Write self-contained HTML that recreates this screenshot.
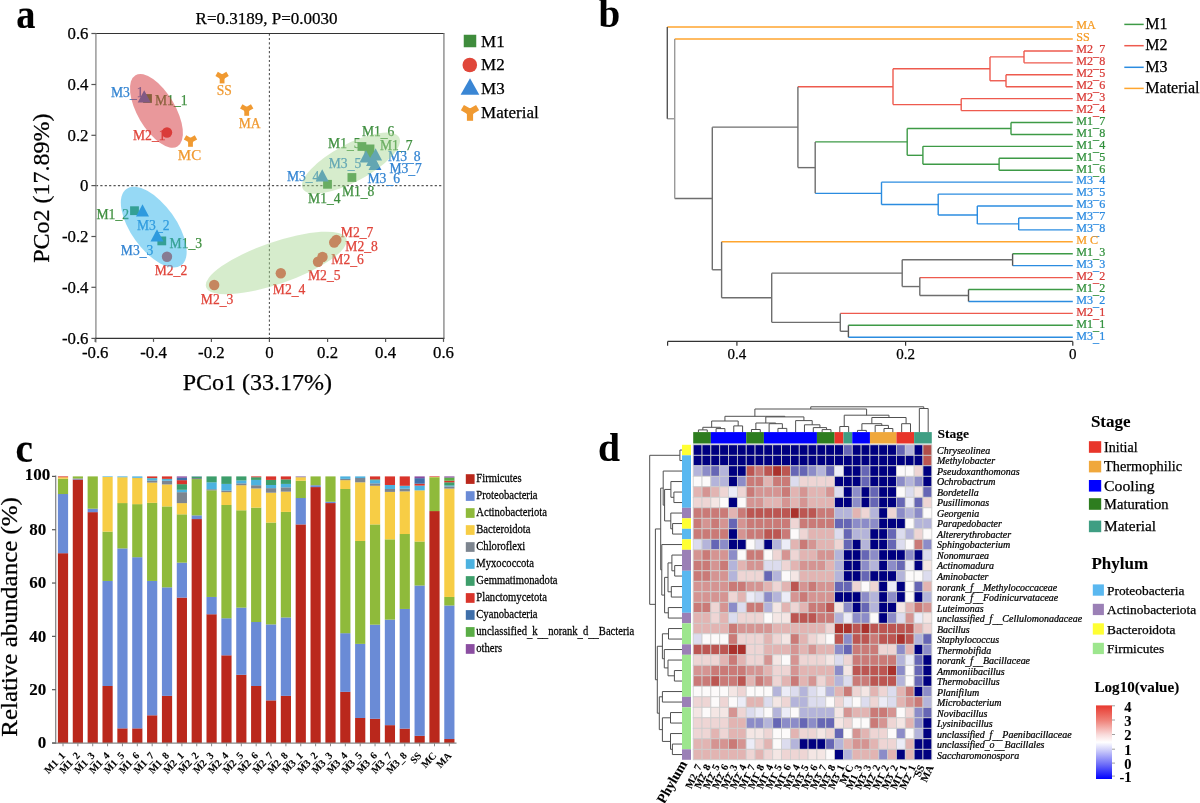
<!DOCTYPE html><html><head><meta charset="utf-8"><title>Figure</title><style>html,body{margin:0;padding:0;background:#fff;}svg{display:block;will-change:transform;}text{font-family:"Liberation Serif",serif;}</style></head><body>
<svg width="1200" height="803" viewBox="0 0 1200 803">
<rect width="1200" height="803" fill="#fff"/>
<line x1="95.90" y1="185.60" x2="443.60" y2="185.60" stroke="#555" stroke-width="1.1" stroke-dasharray="2.2,2.2"/>
<line x1="269.40" y1="33.50" x2="269.40" y2="338.40" stroke="#555" stroke-width="1.1" stroke-dasharray="2.2,2.2"/>
<line x1="95.90" y1="33.50" x2="444.40" y2="33.50" stroke="#333" stroke-width="1.1"/>
<line x1="443.90" y1="33.50" x2="443.90" y2="338.40" stroke="#999" stroke-width="1.6"/>
<line x1="95.90" y1="33.50" x2="95.90" y2="342.40" stroke="#999" stroke-width="1.5"/>
<line x1="95.10" y1="338.40" x2="444.40" y2="338.40" stroke="#333" stroke-width="1.1"/>
<line x1="91.40" y1="33.50" x2="95.90" y2="33.50" stroke="#555" stroke-width="1.2"/>
<text stroke="#000" stroke-width="0.25" x="88.50" y="39.30" font-size="16.8" fill="#000" text-anchor="end">0.6</text>
<line x1="91.40" y1="84.50" x2="95.90" y2="84.50" stroke="#555" stroke-width="1.2"/>
<text stroke="#000" stroke-width="0.25" x="88.50" y="90.30" font-size="16.8" fill="#000" text-anchor="end">0.4</text>
<line x1="91.40" y1="135.30" x2="95.90" y2="135.30" stroke="#555" stroke-width="1.2"/>
<text stroke="#000" stroke-width="0.25" x="88.50" y="141.10" font-size="16.8" fill="#000" text-anchor="end">0.2</text>
<line x1="91.40" y1="185.60" x2="95.90" y2="185.60" stroke="#555" stroke-width="1.2"/>
<text stroke="#000" stroke-width="0.25" x="88.50" y="191.40" font-size="16.8" fill="#000" text-anchor="end">0</text>
<line x1="91.40" y1="236.50" x2="95.90" y2="236.50" stroke="#555" stroke-width="1.2"/>
<text stroke="#000" stroke-width="0.25" x="88.50" y="242.30" font-size="16.8" fill="#000" text-anchor="end">-0.2</text>
<line x1="91.40" y1="287.30" x2="95.90" y2="287.30" stroke="#555" stroke-width="1.2"/>
<text stroke="#000" stroke-width="0.25" x="88.50" y="293.10" font-size="16.8" fill="#000" text-anchor="end">-0.4</text>
<line x1="91.40" y1="338.40" x2="95.90" y2="338.40" stroke="#555" stroke-width="1.2"/>
<text stroke="#000" stroke-width="0.25" x="88.50" y="344.20" font-size="16.8" fill="#000" text-anchor="end">-0.6</text>
<line x1="95.20" y1="338.40" x2="95.20" y2="341.90" stroke="#555" stroke-width="1.2"/>
<text stroke="#000" stroke-width="0.25" x="95.20" y="357.60" font-size="16.8" fill="#000" text-anchor="middle">-0.6</text>
<line x1="153.50" y1="338.40" x2="153.50" y2="341.90" stroke="#555" stroke-width="1.2"/>
<text stroke="#000" stroke-width="0.25" x="153.50" y="357.60" font-size="16.8" fill="#000" text-anchor="middle">-0.4</text>
<line x1="211.40" y1="338.40" x2="211.40" y2="341.90" stroke="#555" stroke-width="1.2"/>
<text stroke="#000" stroke-width="0.25" x="211.40" y="357.60" font-size="16.8" fill="#000" text-anchor="middle">-0.2</text>
<line x1="269.40" y1="338.40" x2="269.40" y2="341.90" stroke="#555" stroke-width="1.2"/>
<text stroke="#000" stroke-width="0.25" x="269.40" y="357.60" font-size="16.8" fill="#000" text-anchor="middle">0</text>
<line x1="327.60" y1="338.40" x2="327.60" y2="341.90" stroke="#555" stroke-width="1.2"/>
<text stroke="#000" stroke-width="0.25" x="327.60" y="357.60" font-size="16.8" fill="#000" text-anchor="middle">0.2</text>
<line x1="385.60" y1="338.40" x2="385.60" y2="341.90" stroke="#555" stroke-width="1.2"/>
<text stroke="#000" stroke-width="0.25" x="385.60" y="357.60" font-size="16.8" fill="#000" text-anchor="middle">0.4</text>
<line x1="443.50" y1="338.40" x2="443.50" y2="341.90" stroke="#555" stroke-width="1.2"/>
<text stroke="#000" stroke-width="0.25" x="443.50" y="357.60" font-size="16.8" fill="#000" text-anchor="middle">0.6</text>
<text stroke="#000" stroke-width="0.25" x="257.40" y="389.50" font-size="24" fill="#000" text-anchor="middle">PCo1 (33.17%)</text>
<text stroke="#000" stroke-width="0.25" transform="translate(48.5,188.2) rotate(-90)" font-size="24" text-anchor="middle" fill="#000">PCo2 (17.89%)</text>
<text stroke="#000" stroke-width="0.25" x="266.60" y="24.00" font-size="17" fill="#000" text-anchor="middle">R=0.3189, P=0.0030</text>
<text stroke="#000" stroke-width="0.10" transform="translate(25.9,27.6) scale(1.01,1.1)" font-size="38" font-weight="bold" text-anchor="middle" fill="#000">a</text>
<rect x="143.10" y="94.10" width="8.80" height="8.80" fill="#3a8c3e"/>
<rect x="130.10" y="206.30" width="8.80" height="8.80" fill="#3a8c3e"/>
<rect x="157.40" y="236.50" width="8.80" height="8.80" fill="#3a8c3e"/>
<rect x="323.10" y="179.90" width="8.80" height="8.80" fill="#3a8c3e"/>
<rect x="357.50" y="142.10" width="8.80" height="8.80" fill="#3a8c3e"/>
<rect x="365.60" y="144.50" width="8.80" height="8.80" fill="#3a8c3e"/>
<rect x="364.60" y="150.60" width="8.80" height="8.80" fill="#3a8c3e"/>
<rect x="347.50" y="173.10" width="8.80" height="8.80" fill="#3a8c3e"/>
<circle cx="167.00" cy="132.50" r="5.2" fill="#e0453a"/>
<circle cx="167.00" cy="256.80" r="5.2" fill="#e0453a"/>
<circle cx="214.20" cy="285.00" r="5.2" fill="#e0453a"/>
<circle cx="280.80" cy="273.30" r="5.2" fill="#e0453a"/>
<circle cx="318.00" cy="261.70" r="5.2" fill="#e0453a"/>
<circle cx="322.50" cy="257.00" r="5.2" fill="#e0453a"/>
<circle cx="336.30" cy="240.00" r="5.2" fill="#e0453a"/>
<circle cx="334.20" cy="242.50" r="5.2" fill="#e0453a"/>
<polygon points="144.20,90.21 137.70,102.56 150.70,102.56" fill="#2f80d0"/>
<polygon points="142.50,204.21 136.00,216.56 149.00,216.56" fill="#2f80d0"/>
<polygon points="157.00,229.21 150.50,241.56 163.50,241.56" fill="#2f80d0"/>
<polygon points="322.20,169.21 315.70,181.56 328.70,181.56" fill="#2f80d0"/>
<polygon points="366.00,150.21 359.50,162.56 372.50,162.56" fill="#2f80d0"/>
<polygon points="372.50,153.71 366.00,166.06 379.00,166.06" fill="#2f80d0"/>
<polygon points="375.00,157.71 368.50,170.06 381.50,170.06" fill="#2f80d0"/>
<polygon points="375.60,148.21 369.10,160.56 382.10,160.56" fill="#2f80d0"/>
<line x1="222.10" y1="77.10" x2="222.10" y2="83.40" stroke="#f09a32" stroke-width="4.8"/>
<line x1="222.10" y1="77.10" x2="227.56" y2="73.95" stroke="#f09a32" stroke-width="4.8"/>
<line x1="222.10" y1="77.10" x2="216.64" y2="73.95" stroke="#f09a32" stroke-width="4.8"/>
<circle cx="222.10" cy="77.10" r="2.78" fill="#f09a32"/>
<line x1="246.70" y1="109.50" x2="246.70" y2="115.80" stroke="#f09a32" stroke-width="4.8"/>
<line x1="246.70" y1="109.50" x2="252.16" y2="106.35" stroke="#f09a32" stroke-width="4.8"/>
<line x1="246.70" y1="109.50" x2="241.24" y2="106.35" stroke="#f09a32" stroke-width="4.8"/>
<circle cx="246.70" cy="109.50" r="2.78" fill="#f09a32"/>
<line x1="190.50" y1="140.50" x2="190.50" y2="146.80" stroke="#f09a32" stroke-width="4.8"/>
<line x1="190.50" y1="140.50" x2="195.96" y2="137.35" stroke="#f09a32" stroke-width="4.8"/>
<line x1="190.50" y1="140.50" x2="185.04" y2="137.35" stroke="#f09a32" stroke-width="4.8"/>
<circle cx="190.50" cy="140.50" r="2.78" fill="#f09a32"/>
<text stroke="#3384d2" stroke-width="0.25" x="111.00" y="97.20" font-size="13.6" fill="#3384d2">M3<tspan dy="0.41">_</tspan><tspan dy="-0.41">1</tspan></text>
<text stroke="#3f8f3f" stroke-width="0.25" x="155.00" y="105.00" font-size="13.6" fill="#3f8f3f">M1<tspan dy="0.41">_</tspan><tspan dy="-0.41">1</tspan></text>
<text stroke="#e0443a" stroke-width="0.25" x="133.00" y="140.00" font-size="13.6" fill="#e0443a">M2<tspan dy="0.41">_</tspan><tspan dy="-0.41">1</tspan></text>
<text stroke="#f09a32" stroke-width="0.25" x="177.80" y="160.00" font-size="15.0" fill="#f09a32">MC</text>
<text stroke="#f09a32" stroke-width="0.25" x="216.80" y="94.50" font-size="13.6" fill="#f09a32">SS</text>
<text stroke="#f09a32" stroke-width="0.25" x="238.70" y="127.70" font-size="13.6" fill="#f09a32">MA</text>
<text stroke="#3f8f3f" stroke-width="0.25" x="96.50" y="219.00" font-size="13.6" fill="#3f8f3f">M1<tspan dy="0.41">_</tspan><tspan dy="-0.41">2</tspan></text>
<text stroke="#3384d2" stroke-width="0.25" x="137.00" y="230.30" font-size="13.6" fill="#3384d2">M3<tspan dy="0.41">_</tspan><tspan dy="-0.41">2</tspan></text>
<text stroke="#3384d2" stroke-width="0.25" x="120.80" y="255.20" font-size="13.6" fill="#3384d2">M3<tspan dy="0.41">_</tspan><tspan dy="-0.41">3</tspan></text>
<text stroke="#3f8f3f" stroke-width="0.25" x="169.60" y="248.00" font-size="13.6" fill="#3f8f3f">M1<tspan dy="0.41">_</tspan><tspan dy="-0.41">3</tspan></text>
<text stroke="#e0443a" stroke-width="0.25" x="154.70" y="274.50" font-size="13.6" fill="#e0443a">M2<tspan dy="0.41">_</tspan><tspan dy="-0.41">2</tspan></text>
<text stroke="#e0443a" stroke-width="0.25" x="200.80" y="304.20" font-size="13.6" fill="#e0443a">M2<tspan dy="0.41">_</tspan><tspan dy="-0.41">3</tspan></text>
<text stroke="#e0443a" stroke-width="0.25" x="272.80" y="294.20" font-size="13.6" fill="#e0443a">M2<tspan dy="0.41">_</tspan><tspan dy="-0.41">4</tspan></text>
<text stroke="#e0443a" stroke-width="0.25" x="308.00" y="280.00" font-size="13.6" fill="#e0443a">M2<tspan dy="0.41">_</tspan><tspan dy="-0.41">5</tspan></text>
<text stroke="#e0443a" stroke-width="0.25" x="331.30" y="264.20" font-size="13.6" fill="#e0443a">M2<tspan dy="0.41">_</tspan><tspan dy="-0.41">6</tspan></text>
<text stroke="#e0443a" stroke-width="0.25" x="340.80" y="236.70" font-size="13.6" fill="#e0443a">M2<tspan dy="0.41">_</tspan><tspan dy="-0.41">7</tspan></text>
<text stroke="#e0443a" stroke-width="0.25" x="345.30" y="250.80" font-size="13.6" fill="#e0443a">M2<tspan dy="0.41">_</tspan><tspan dy="-0.41">8</tspan></text>
<text stroke="#3f8f3f" stroke-width="0.25" x="361.90" y="136.25" font-size="13.6" fill="#3f8f3f">M1<tspan dy="0.41">_</tspan><tspan dy="-0.41">6</tspan></text>
<text stroke="#3f8f3f" stroke-width="0.25" x="328.10" y="148.10" font-size="13.6" fill="#3f8f3f">M1<tspan dy="0.41">_</tspan><tspan dy="-0.41">5</tspan></text>
<text stroke="#3f8f3f" stroke-width="0.25" x="380.00" y="150.00" font-size="13.6" fill="#3f8f3f">M1<tspan dy="0.41">_</tspan><tspan dy="-0.41">7</tspan></text>
<text stroke="#3384d2" stroke-width="0.25" x="388.10" y="161.25" font-size="13.6" fill="#3384d2">M3<tspan dy="0.41">_</tspan><tspan dy="-0.41">8</tspan></text>
<text stroke="#3384d2" stroke-width="0.25" x="389.40" y="173.10" font-size="13.6" fill="#3384d2">M3<tspan dy="0.41">_</tspan><tspan dy="-0.41">7</tspan></text>
<text stroke="#3384d2" stroke-width="0.25" x="328.75" y="168.10" font-size="13.6" fill="#3384d2">M3<tspan dy="0.41">_</tspan><tspan dy="-0.41">5</tspan></text>
<text stroke="#3384d2" stroke-width="0.25" x="367.50" y="183.10" font-size="13.6" fill="#3384d2">M3<tspan dy="0.41">_</tspan><tspan dy="-0.41">6</tspan></text>
<text stroke="#3384d2" stroke-width="0.25" x="286.90" y="180.60" font-size="13.6" fill="#3384d2">M3<tspan dy="0.41">_</tspan><tspan dy="-0.41">4</tspan></text>
<text stroke="#3f8f3f" stroke-width="0.25" x="341.90" y="196.25" font-size="13.6" fill="#3f8f3f">M1<tspan dy="0.41">_</tspan><tspan dy="-0.41">8</tspan></text>
<text stroke="#3f8f3f" stroke-width="0.25" x="308.10" y="202.50" font-size="13.6" fill="#3f8f3f">M1<tspan dy="0.41">_</tspan><tspan dy="-0.41">4</tspan></text>
<ellipse cx="156.45" cy="110.85" rx="18.8" ry="41.3" transform="rotate(-30.5 156.45 110.85)" fill="rgb(211,49,55)" fill-opacity="0.5"/>
<ellipse cx="153.75" cy="227.15" rx="22.5" ry="47" transform="rotate(-35.6 153.75 227.15)" fill="rgb(45,180,235)" fill-opacity="0.5"/>
<ellipse cx="351" cy="163.1" rx="54.6" ry="18.9" transform="rotate(-28 351 163.1)" fill="rgb(164,213,142)" fill-opacity="0.45"/>
<ellipse cx="276.25" cy="262.95" rx="74.2" ry="20.9" transform="rotate(-19.05 276.25 262.95)" fill="rgb(164,213,142)" fill-opacity="0.45"/>
<rect x="463.75" y="34.75" width="12.50" height="12.50" fill="#3f8c3c"/>
<text stroke="#000" stroke-width="0.25" x="481.10" y="46.80" font-size="17" fill="#000">M1</text>
<circle cx="469.80" cy="65.00" r="7.3" fill="#e0473a"/>
<text stroke="#000" stroke-width="0.25" x="481.10" y="69.80" font-size="17" fill="#000">M2</text>
<polygon points="470,78.3 460.6,94.7 479.3,94.7" fill="#3a86d4"/>
<text stroke="#000" stroke-width="0.25" x="481.10" y="94.10" font-size="17" fill="#000">M3</text>
<line x1="470.00" y1="112.00" x2="470.00" y2="120.80" stroke="#f09a32" stroke-width="6.2"/>
<line x1="470.00" y1="112.00" x2="477.62" y2="107.60" stroke="#f09a32" stroke-width="6.2"/>
<line x1="470.00" y1="112.00" x2="462.38" y2="107.60" stroke="#f09a32" stroke-width="6.2"/>
<circle cx="470.00" cy="112.00" r="3.60" fill="#f09a32"/>
<text stroke="#000" stroke-width="0.25" x="481.10" y="118.40" font-size="17" fill="#000">Material</text>
<text stroke="#000" stroke-width="0.10" x="609.30" y="27.40" font-size="39" fill="#000" text-anchor="middle" font-weight="bold">b</text>
<line x1="667.30" y1="27.07" x2="1072.80" y2="27.07" stroke="#ffa52e" stroke-width="1.4"/>
<text stroke="#f59a22" stroke-width="0.25" transform="translate(1076.3,29.37) scale(0.93,1)" font-size="13.0" fill="#f59a22">MA</text>
<line x1="674.70" y1="39.00" x2="1072.80" y2="39.00" stroke="#ffa52e" stroke-width="1.4"/>
<text stroke="#f59a22" stroke-width="0.25" transform="translate(1076.3,41.30) scale(0.93,1)" font-size="13.0" fill="#f59a22">SS</text>
<line x1="1024.00" y1="50.93" x2="1072.80" y2="50.93" stroke="#ee5a4e" stroke-width="1.4"/>
<text stroke="#d93a36" stroke-width="0.25" transform="translate(1076.3,53.23) scale(0.93,1)" font-size="13.0" fill="#d93a36">M2<tspan dy="2.34">_</tspan><tspan dy="-2.34">7</tspan></text>
<line x1="1024.00" y1="62.86" x2="1072.80" y2="62.86" stroke="#ee5a4e" stroke-width="1.4"/>
<text stroke="#d93a36" stroke-width="0.25" transform="translate(1076.3,65.16) scale(0.93,1)" font-size="13.0" fill="#d93a36">M2<tspan dy="2.34">_</tspan><tspan dy="-2.34">8</tspan></text>
<line x1="1006.00" y1="74.79" x2="1072.80" y2="74.79" stroke="#ee5a4e" stroke-width="1.4"/>
<text stroke="#d93a36" stroke-width="0.25" transform="translate(1076.3,77.09) scale(0.93,1)" font-size="13.0" fill="#d93a36">M2<tspan dy="2.34">_</tspan><tspan dy="-2.34">5</tspan></text>
<line x1="1006.00" y1="86.72" x2="1072.80" y2="86.72" stroke="#ee5a4e" stroke-width="1.4"/>
<text stroke="#d93a36" stroke-width="0.25" transform="translate(1076.3,89.02) scale(0.93,1)" font-size="13.0" fill="#d93a36">M2<tspan dy="2.34">_</tspan><tspan dy="-2.34">6</tspan></text>
<line x1="961.20" y1="98.65" x2="1072.80" y2="98.65" stroke="#ee5a4e" stroke-width="1.4"/>
<text stroke="#d93a36" stroke-width="0.25" transform="translate(1076.3,100.95) scale(0.93,1)" font-size="13.0" fill="#d93a36">M2<tspan dy="2.34">_</tspan><tspan dy="-2.34">3</tspan></text>
<line x1="961.20" y1="110.58" x2="1072.80" y2="110.58" stroke="#ee5a4e" stroke-width="1.4"/>
<text stroke="#d93a36" stroke-width="0.25" transform="translate(1076.3,112.88) scale(0.93,1)" font-size="13.0" fill="#d93a36">M2<tspan dy="2.34">_</tspan><tspan dy="-2.34">4</tspan></text>
<line x1="1011.00" y1="122.51" x2="1072.80" y2="122.51" stroke="#3d9a46" stroke-width="1.4"/>
<text stroke="#2f8f3a" stroke-width="0.25" transform="translate(1076.3,124.81) scale(0.93,1)" font-size="13.0" fill="#2f8f3a">M1<tspan dy="2.34">_</tspan><tspan dy="-2.34">7</tspan></text>
<line x1="1011.00" y1="134.44" x2="1072.80" y2="134.44" stroke="#3d9a46" stroke-width="1.4"/>
<text stroke="#2f8f3a" stroke-width="0.25" transform="translate(1076.3,136.74) scale(0.93,1)" font-size="13.0" fill="#2f8f3a">M1<tspan dy="2.34">_</tspan><tspan dy="-2.34">8</tspan></text>
<line x1="922.90" y1="146.37" x2="1072.80" y2="146.37" stroke="#3d9a46" stroke-width="1.4"/>
<text stroke="#2f8f3a" stroke-width="0.25" transform="translate(1076.3,148.67) scale(0.93,1)" font-size="13.0" fill="#2f8f3a">M1<tspan dy="2.34">_</tspan><tspan dy="-2.34">4</tspan></text>
<line x1="999.10" y1="158.30" x2="1072.80" y2="158.30" stroke="#3d9a46" stroke-width="1.4"/>
<text stroke="#2f8f3a" stroke-width="0.25" transform="translate(1076.3,160.60) scale(0.93,1)" font-size="13.0" fill="#2f8f3a">M1<tspan dy="2.34">_</tspan><tspan dy="-2.34">5</tspan></text>
<line x1="999.10" y1="170.23" x2="1072.80" y2="170.23" stroke="#3d9a46" stroke-width="1.4"/>
<text stroke="#2f8f3a" stroke-width="0.25" transform="translate(1076.3,172.53) scale(0.93,1)" font-size="13.0" fill="#2f8f3a">M1<tspan dy="2.34">_</tspan><tspan dy="-2.34">6</tspan></text>
<line x1="881.50" y1="182.16" x2="1072.80" y2="182.16" stroke="#2b8ce0" stroke-width="1.4"/>
<text stroke="#2a8ae0" stroke-width="0.25" transform="translate(1076.3,184.46) scale(0.93,1)" font-size="13.0" fill="#2a8ae0">M3<tspan dy="2.34">_</tspan><tspan dy="-2.34">4</tspan></text>
<line x1="938.20" y1="194.09" x2="1072.80" y2="194.09" stroke="#2b8ce0" stroke-width="1.4"/>
<text stroke="#2a8ae0" stroke-width="0.25" transform="translate(1076.3,196.39) scale(0.93,1)" font-size="13.0" fill="#2a8ae0">M3<tspan dy="2.34">_</tspan><tspan dy="-2.34">5</tspan></text>
<line x1="977.30" y1="206.02" x2="1072.80" y2="206.02" stroke="#2b8ce0" stroke-width="1.4"/>
<text stroke="#2a8ae0" stroke-width="0.25" transform="translate(1076.3,208.32) scale(0.93,1)" font-size="13.0" fill="#2a8ae0">M3<tspan dy="2.34">_</tspan><tspan dy="-2.34">6</tspan></text>
<line x1="1018.70" y1="217.95" x2="1072.80" y2="217.95" stroke="#2b8ce0" stroke-width="1.4"/>
<text stroke="#2a8ae0" stroke-width="0.25" transform="translate(1076.3,220.25) scale(0.93,1)" font-size="13.0" fill="#2a8ae0">M3<tspan dy="2.34">_</tspan><tspan dy="-2.34">7</tspan></text>
<line x1="1018.70" y1="229.88" x2="1072.80" y2="229.88" stroke="#2b8ce0" stroke-width="1.4"/>
<text stroke="#2a8ae0" stroke-width="0.25" transform="translate(1076.3,232.18) scale(0.93,1)" font-size="13.0" fill="#2a8ae0">M3<tspan dy="2.34">_</tspan><tspan dy="-2.34">8</tspan></text>
<line x1="721.60" y1="241.81" x2="1072.80" y2="241.81" stroke="#ffa52e" stroke-width="1.4"/>
<text stroke="#f59a22" stroke-width="0.25" transform="translate(1076.3,244.11) scale(0.93,1)" font-size="13.0" fill="#f59a22">M C</text>
<line x1="1012.60" y1="253.74" x2="1072.80" y2="253.74" stroke="#3d9a46" stroke-width="1.4"/>
<text stroke="#2f8f3a" stroke-width="0.25" transform="translate(1076.3,256.04) scale(0.93,1)" font-size="13.0" fill="#2f8f3a">M1<tspan dy="2.34">_</tspan><tspan dy="-2.34">3</tspan></text>
<line x1="1012.60" y1="265.67" x2="1072.80" y2="265.67" stroke="#2b8ce0" stroke-width="1.4"/>
<text stroke="#2a8ae0" stroke-width="0.25" transform="translate(1076.3,267.97) scale(0.93,1)" font-size="13.0" fill="#2a8ae0">M3<tspan dy="2.34">_</tspan><tspan dy="-2.34">3</tspan></text>
<line x1="919.80" y1="277.60" x2="1072.80" y2="277.60" stroke="#ee5a4e" stroke-width="1.4"/>
<text stroke="#d93a36" stroke-width="0.25" transform="translate(1076.3,279.90) scale(0.93,1)" font-size="13.0" fill="#d93a36">M2<tspan dy="2.34">_</tspan><tspan dy="-2.34">2</tspan></text>
<line x1="968.50" y1="289.53" x2="1072.80" y2="289.53" stroke="#3d9a46" stroke-width="1.4"/>
<text stroke="#2f8f3a" stroke-width="0.25" transform="translate(1076.3,291.83) scale(0.93,1)" font-size="13.0" fill="#2f8f3a">M1<tspan dy="2.34">_</tspan><tspan dy="-2.34">2</tspan></text>
<line x1="968.50" y1="301.46" x2="1072.80" y2="301.46" stroke="#2b8ce0" stroke-width="1.4"/>
<text stroke="#2a8ae0" stroke-width="0.25" transform="translate(1076.3,303.76) scale(0.93,1)" font-size="13.0" fill="#2a8ae0">M3<tspan dy="2.34">_</tspan><tspan dy="-2.34">2</tspan></text>
<line x1="840.30" y1="313.39" x2="1072.80" y2="313.39" stroke="#ee5a4e" stroke-width="1.4"/>
<text stroke="#d93a36" stroke-width="0.25" transform="translate(1076.3,315.69) scale(0.93,1)" font-size="13.0" fill="#d93a36">M2<tspan dy="2.34">_</tspan><tspan dy="-2.34">1</tspan></text>
<line x1="848.40" y1="325.32" x2="1072.80" y2="325.32" stroke="#3d9a46" stroke-width="1.4"/>
<text stroke="#2f8f3a" stroke-width="0.25" transform="translate(1076.3,327.62) scale(0.93,1)" font-size="13.0" fill="#2f8f3a">M1<tspan dy="2.34">_</tspan><tspan dy="-2.34">1</tspan></text>
<line x1="848.40" y1="337.25" x2="1072.80" y2="337.25" stroke="#2b8ce0" stroke-width="1.4"/>
<text stroke="#2a8ae0" stroke-width="0.25" transform="translate(1076.3,339.55) scale(0.93,1)" font-size="13.0" fill="#2a8ae0">M3<tspan dy="2.34">_</tspan><tspan dy="-2.34">1</tspan></text>
<line x1="1024.00" y1="50.93" x2="1024.00" y2="62.86" stroke="#ee5a4e" stroke-width="1.4"/>
<line x1="1006.00" y1="74.79" x2="1006.00" y2="86.72" stroke="#ee5a4e" stroke-width="1.4"/>
<line x1="990.00" y1="56.89" x2="1024.00" y2="56.89" stroke="#ee5a4e" stroke-width="1.4"/>
<line x1="990.00" y1="80.75" x2="1006.00" y2="80.75" stroke="#ee5a4e" stroke-width="1.4"/>
<line x1="990.00" y1="56.89" x2="990.00" y2="80.75" stroke="#ee5a4e" stroke-width="1.4"/>
<line x1="961.20" y1="98.65" x2="961.20" y2="110.58" stroke="#ee5a4e" stroke-width="1.4"/>
<line x1="893.00" y1="68.82" x2="990.00" y2="68.82" stroke="#ee5a4e" stroke-width="1.4"/>
<line x1="893.00" y1="104.61" x2="961.20" y2="104.61" stroke="#ee5a4e" stroke-width="1.4"/>
<line x1="893.00" y1="68.82" x2="893.00" y2="104.61" stroke="#ee5a4e" stroke-width="1.4"/>
<line x1="1011.00" y1="122.51" x2="1011.00" y2="134.44" stroke="#3d9a46" stroke-width="1.4"/>
<line x1="999.10" y1="158.30" x2="999.10" y2="170.23" stroke="#3d9a46" stroke-width="1.4"/>
<line x1="922.90" y1="164.26" x2="999.10" y2="164.26" stroke="#3d9a46" stroke-width="1.4"/>
<line x1="922.90" y1="146.37" x2="922.90" y2="164.26" stroke="#3d9a46" stroke-width="1.4"/>
<line x1="907.20" y1="128.47" x2="1011.00" y2="128.47" stroke="#3d9a46" stroke-width="1.4"/>
<line x1="907.20" y1="155.32" x2="922.90" y2="155.32" stroke="#3d9a46" stroke-width="1.4"/>
<line x1="907.20" y1="128.47" x2="907.20" y2="155.32" stroke="#3d9a46" stroke-width="1.4"/>
<line x1="1018.70" y1="217.95" x2="1018.70" y2="229.88" stroke="#2b8ce0" stroke-width="1.4"/>
<line x1="977.30" y1="223.91" x2="1018.70" y2="223.91" stroke="#2b8ce0" stroke-width="1.4"/>
<line x1="977.30" y1="206.02" x2="977.30" y2="223.91" stroke="#2b8ce0" stroke-width="1.4"/>
<line x1="938.20" y1="214.97" x2="977.30" y2="214.97" stroke="#2b8ce0" stroke-width="1.4"/>
<line x1="938.20" y1="194.09" x2="938.20" y2="214.97" stroke="#2b8ce0" stroke-width="1.4"/>
<line x1="881.50" y1="204.53" x2="938.20" y2="204.53" stroke="#2b8ce0" stroke-width="1.4"/>
<line x1="881.50" y1="182.16" x2="881.50" y2="204.53" stroke="#2b8ce0" stroke-width="1.4"/>
<line x1="815.20" y1="141.90" x2="907.20" y2="141.90" stroke="#3d9a46" stroke-width="1.4"/>
<line x1="815.20" y1="193.34" x2="881.50" y2="193.34" stroke="#2b8ce0" stroke-width="1.4"/>
<line x1="815.20" y1="141.90" x2="815.20" y2="193.34" stroke="#6e6e6e" stroke-width="1.4"/>
<line x1="797.90" y1="86.72" x2="893.00" y2="86.72" stroke="#ee5a4e" stroke-width="1.4"/>
<line x1="797.90" y1="167.62" x2="815.20" y2="167.62" stroke="#6e6e6e" stroke-width="1.4"/>
<line x1="797.90" y1="86.72" x2="797.90" y2="167.62" stroke="#6e6e6e" stroke-width="1.4"/>
<line x1="1012.60" y1="253.74" x2="1012.60" y2="265.67" stroke="#555" stroke-width="1.4"/>
<line x1="968.50" y1="289.53" x2="968.50" y2="301.46" stroke="#555" stroke-width="1.4"/>
<line x1="919.80" y1="295.50" x2="968.50" y2="295.50" stroke="#6e6e6e" stroke-width="1.4"/>
<line x1="919.80" y1="277.60" x2="919.80" y2="295.50" stroke="#6e6e6e" stroke-width="1.4"/>
<line x1="902.20" y1="259.70" x2="1012.60" y2="259.70" stroke="#6e6e6e" stroke-width="1.4"/>
<line x1="902.20" y1="286.55" x2="919.80" y2="286.55" stroke="#6e6e6e" stroke-width="1.4"/>
<line x1="902.20" y1="259.70" x2="902.20" y2="286.55" stroke="#6e6e6e" stroke-width="1.4"/>
<line x1="848.40" y1="325.32" x2="848.40" y2="337.25" stroke="#555" stroke-width="1.4"/>
<line x1="840.30" y1="331.28" x2="848.40" y2="331.28" stroke="#6e6e6e" stroke-width="1.4"/>
<line x1="840.30" y1="313.39" x2="840.30" y2="331.28" stroke="#6e6e6e" stroke-width="1.4"/>
<line x1="771.70" y1="273.13" x2="902.20" y2="273.13" stroke="#6e6e6e" stroke-width="1.4"/>
<line x1="771.70" y1="322.34" x2="840.30" y2="322.34" stroke="#6e6e6e" stroke-width="1.4"/>
<line x1="771.70" y1="273.13" x2="771.70" y2="322.34" stroke="#6e6e6e" stroke-width="1.4"/>
<line x1="721.60" y1="297.73" x2="771.70" y2="297.73" stroke="#6e6e6e" stroke-width="1.4"/>
<line x1="721.60" y1="241.81" x2="721.60" y2="297.73" stroke="#6e6e6e" stroke-width="1.4"/>
<line x1="712.30" y1="127.17" x2="797.90" y2="127.17" stroke="#6e6e6e" stroke-width="1.4"/>
<line x1="712.30" y1="269.77" x2="721.60" y2="269.77" stroke="#6e6e6e" stroke-width="1.4"/>
<line x1="712.30" y1="127.17" x2="712.30" y2="269.77" stroke="#6e6e6e" stroke-width="1.4"/>
<line x1="674.70" y1="198.47" x2="712.30" y2="198.47" stroke="#6e6e6e" stroke-width="1.4"/>
<line x1="674.70" y1="39.00" x2="674.70" y2="198.47" stroke="#9a9a9a" stroke-width="1.4"/>
<line x1="667.30" y1="118.74" x2="674.70" y2="118.74" stroke="#9a9a9a" stroke-width="1.4"/>
<line x1="667.30" y1="27.07" x2="667.30" y2="118.74" stroke="#555" stroke-width="1.4"/>
<line x1="667.60" y1="341.40" x2="1072.80" y2="341.40" stroke="#333" stroke-width="1.2"/>
<line x1="667.60" y1="341.40" x2="667.60" y2="345.80" stroke="#333" stroke-width="1.2"/>
<line x1="736.90" y1="341.40" x2="736.90" y2="345.80" stroke="#333" stroke-width="1.2"/>
<line x1="905.60" y1="341.40" x2="905.60" y2="345.80" stroke="#333" stroke-width="1.2"/>
<line x1="1072.80" y1="341.40" x2="1072.80" y2="345.80" stroke="#333" stroke-width="1.2"/>
<text stroke="#000" stroke-width="0.25" x="736.90" y="359.20" font-size="15" fill="#000" text-anchor="middle">0.4</text>
<text stroke="#000" stroke-width="0.25" x="905.60" y="359.20" font-size="15" fill="#000" text-anchor="middle">0.2</text>
<text stroke="#000" stroke-width="0.25" x="1072.80" y="359.20" font-size="15" fill="#000" text-anchor="middle">0</text>
<line x1="1124.30" y1="24.40" x2="1143.70" y2="24.40" stroke="#3d9a46" stroke-width="1.5"/>
<text stroke="#000" stroke-width="0.25" x="1145.30" y="29.00" font-size="16" fill="#000">M1</text>
<line x1="1124.30" y1="45.70" x2="1143.70" y2="45.70" stroke="#ee5a4e" stroke-width="1.5"/>
<text stroke="#000" stroke-width="0.25" x="1145.30" y="50.30" font-size="16" fill="#000">M2</text>
<line x1="1124.30" y1="67.30" x2="1143.70" y2="67.30" stroke="#2b8ce0" stroke-width="1.5"/>
<text stroke="#000" stroke-width="0.25" x="1145.30" y="71.90" font-size="16" fill="#000">M3</text>
<line x1="1124.30" y1="88.40" x2="1143.70" y2="88.40" stroke="#ffa52e" stroke-width="1.5"/>
<text stroke="#000" stroke-width="0.25" x="1145.30" y="93.00" font-size="16" fill="#000">Material</text>
<text stroke="#000" stroke-width="0.10" transform="translate(24.3,461.6) scale(1.03,1.1)" font-size="38" font-weight="bold" text-anchor="middle" fill="#000">c</text>
<rect x="57.90" y="553.18" width="10.20" height="189.87" fill="#ba281c"/>
<rect x="57.90" y="494.00" width="10.20" height="59.24" fill="#6a8bd6"/>
<rect x="57.90" y="478.67" width="10.20" height="15.38" fill="#8fba3b"/>
<rect x="57.90" y="477.20" width="10.20" height="1.52" fill="#f7cd45"/>
<rect x="57.90" y="476.40" width="10.20" height="0.85" fill="#d9342b"/>
<line x1="63.00" y1="743.10" x2="63.00" y2="746.30" stroke="#888" stroke-width="1"/>
<text stroke="#000" stroke-width="0.10" transform="translate(65.60,756.00) rotate(-47)" font-size="10.2" font-weight="bold" text-anchor="end" fill="#000">M1<tspan dy="1.22">_</tspan><tspan dy="-1.22">1</tspan></text>
<rect x="72.76" y="479.47" width="10.20" height="263.58" fill="#ba281c"/>
<rect x="72.76" y="478.53" width="10.20" height="0.98" fill="#6a8bd6"/>
<rect x="72.76" y="476.40" width="10.20" height="2.18" fill="#8fba3b"/>
<line x1="77.86" y1="743.10" x2="77.86" y2="746.30" stroke="#888" stroke-width="1"/>
<text stroke="#000" stroke-width="0.10" transform="translate(80.46,756.00) rotate(-47)" font-size="10.2" font-weight="bold" text-anchor="end" fill="#000">M1<tspan dy="1.22">_</tspan><tspan dy="-1.22">2</tspan></text>
<rect x="87.62" y="512.12" width="10.20" height="230.93" fill="#ba281c"/>
<rect x="87.62" y="508.66" width="10.20" height="3.52" fill="#6a8bd6"/>
<rect x="87.62" y="476.40" width="10.20" height="32.31" fill="#8fba3b"/>
<line x1="92.72" y1="743.10" x2="92.72" y2="746.30" stroke="#888" stroke-width="1"/>
<text stroke="#000" stroke-width="0.10" transform="translate(95.32,756.00) rotate(-47)" font-size="10.2" font-weight="bold" text-anchor="end" fill="#000">M1<tspan dy="1.22">_</tspan><tspan dy="-1.22">3</tspan></text>
<rect x="102.48" y="685.95" width="10.20" height="57.10" fill="#ba281c"/>
<rect x="102.48" y="580.91" width="10.20" height="105.09" fill="#6a8bd6"/>
<rect x="102.48" y="531.59" width="10.20" height="49.37" fill="#8fba3b"/>
<rect x="102.48" y="476.93" width="10.20" height="54.70" fill="#f7cd45"/>
<rect x="102.48" y="476.40" width="10.20" height="0.58" fill="#4cb2e0"/>
<line x1="107.58" y1="743.10" x2="107.58" y2="746.30" stroke="#888" stroke-width="1"/>
<text stroke="#000" stroke-width="0.10" transform="translate(110.18,756.00) rotate(-47)" font-size="10.2" font-weight="bold" text-anchor="end" fill="#000">M1<tspan dy="1.22">_</tspan><tspan dy="-1.22">4</tspan></text>
<rect x="117.34" y="728.34" width="10.20" height="14.71" fill="#ba281c"/>
<rect x="117.34" y="548.38" width="10.20" height="180.00" fill="#6a8bd6"/>
<rect x="117.34" y="503.06" width="10.20" height="45.37" fill="#8fba3b"/>
<rect x="117.34" y="477.20" width="10.20" height="25.91" fill="#f7cd45"/>
<rect x="117.34" y="476.40" width="10.20" height="0.85" fill="#4cb2e0"/>
<line x1="122.44" y1="743.10" x2="122.44" y2="746.30" stroke="#888" stroke-width="1"/>
<text stroke="#000" stroke-width="0.10" transform="translate(125.04,756.00) rotate(-47)" font-size="10.2" font-weight="bold" text-anchor="end" fill="#000">M1<tspan dy="1.22">_</tspan><tspan dy="-1.22">5</tspan></text>
<rect x="132.20" y="728.34" width="10.20" height="14.71" fill="#ba281c"/>
<rect x="132.20" y="557.18" width="10.20" height="171.21" fill="#6a8bd6"/>
<rect x="132.20" y="504.13" width="10.20" height="53.10" fill="#8fba3b"/>
<rect x="132.20" y="478.00" width="10.20" height="26.18" fill="#f7cd45"/>
<rect x="132.20" y="477.73" width="10.20" height="0.32" fill="#7d858f"/>
<rect x="132.20" y="476.40" width="10.20" height="1.38" fill="#4cb2e0"/>
<line x1="137.30" y1="743.10" x2="137.30" y2="746.30" stroke="#888" stroke-width="1"/>
<text stroke="#000" stroke-width="0.10" transform="translate(139.90,756.00) rotate(-47)" font-size="10.2" font-weight="bold" text-anchor="end" fill="#000">M1<tspan dy="1.22">_</tspan><tspan dy="-1.22">6</tspan></text>
<rect x="147.06" y="715.27" width="10.20" height="27.78" fill="#ba281c"/>
<rect x="147.06" y="580.91" width="10.20" height="134.42" fill="#6a8bd6"/>
<rect x="147.06" y="502.79" width="10.20" height="78.16" fill="#8fba3b"/>
<rect x="147.06" y="482.53" width="10.20" height="20.31" fill="#f7cd45"/>
<rect x="147.06" y="480.40" width="10.20" height="2.18" fill="#7d858f"/>
<rect x="147.06" y="478.27" width="10.20" height="2.18" fill="#4cb2e0"/>
<rect x="147.06" y="478.00" width="10.20" height="0.32" fill="#3d9e6b"/>
<rect x="147.06" y="476.40" width="10.20" height="1.65" fill="#d9342b"/>
<line x1="152.16" y1="743.10" x2="152.16" y2="746.30" stroke="#888" stroke-width="1"/>
<text stroke="#000" stroke-width="0.10" transform="translate(154.76,756.00) rotate(-47)" font-size="10.2" font-weight="bold" text-anchor="end" fill="#000">M1<tspan dy="1.22">_</tspan><tspan dy="-1.22">7</tspan></text>
<rect x="161.92" y="695.81" width="10.20" height="47.24" fill="#ba281c"/>
<rect x="161.92" y="587.31" width="10.20" height="108.56" fill="#6a8bd6"/>
<rect x="161.92" y="506.39" width="10.20" height="80.96" fill="#8fba3b"/>
<rect x="161.92" y="484.40" width="10.20" height="22.04" fill="#f7cd45"/>
<rect x="161.92" y="480.67" width="10.20" height="3.78" fill="#7d858f"/>
<rect x="161.92" y="479.07" width="10.20" height="1.65" fill="#4cb2e0"/>
<rect x="161.92" y="478.80" width="10.20" height="0.32" fill="#3d9e6b"/>
<rect x="161.92" y="476.40" width="10.20" height="2.45" fill="#d9342b"/>
<line x1="167.02" y1="743.10" x2="167.02" y2="746.30" stroke="#888" stroke-width="1"/>
<text stroke="#000" stroke-width="0.10" transform="translate(169.62,756.00) rotate(-47)" font-size="10.2" font-weight="bold" text-anchor="end" fill="#000">M1<tspan dy="1.22">_</tspan><tspan dy="-1.22">8</tspan></text>
<rect x="176.78" y="597.56" width="10.20" height="145.49" fill="#ba281c"/>
<rect x="176.78" y="562.60" width="10.20" height="35.01" fill="#6a8bd6"/>
<rect x="176.78" y="514.30" width="10.20" height="48.35" fill="#8fba3b"/>
<rect x="176.78" y="503.09" width="10.20" height="11.26" fill="#f7cd45"/>
<rect x="176.78" y="492.15" width="10.20" height="10.99" fill="#7d858f"/>
<rect x="176.78" y="489.74" width="10.20" height="2.45" fill="#4cb2e0"/>
<rect x="176.78" y="484.14" width="10.20" height="5.65" fill="#3d9e6b"/>
<rect x="176.78" y="480.14" width="10.20" height="4.05" fill="#d9342b"/>
<rect x="176.78" y="477.73" width="10.20" height="2.45" fill="#3f6faa"/>
<rect x="176.78" y="476.40" width="10.20" height="1.38" fill="#8b4ea1"/>
<line x1="181.88" y1="743.10" x2="181.88" y2="746.30" stroke="#888" stroke-width="1"/>
<text stroke="#000" stroke-width="0.10" transform="translate(184.48,756.00) rotate(-47)" font-size="10.2" font-weight="bold" text-anchor="end" fill="#000">M2<tspan dy="1.22">_</tspan><tspan dy="-1.22">1</tspan></text>
<rect x="191.64" y="519.06" width="10.20" height="223.99" fill="#ba281c"/>
<rect x="191.64" y="515.32" width="10.20" height="3.78" fill="#6a8bd6"/>
<rect x="191.64" y="479.07" width="10.20" height="36.31" fill="#8fba3b"/>
<rect x="191.64" y="478.00" width="10.20" height="1.12" fill="#7d858f"/>
<rect x="191.64" y="476.67" width="10.20" height="1.38" fill="#3d9e6b"/>
<rect x="191.64" y="476.40" width="10.20" height="0.32" fill="#3f6faa"/>
<line x1="196.74" y1="743.10" x2="196.74" y2="746.30" stroke="#888" stroke-width="1"/>
<text stroke="#000" stroke-width="0.10" transform="translate(199.34,756.00) rotate(-47)" font-size="10.2" font-weight="bold" text-anchor="end" fill="#000">M2<tspan dy="1.22">_</tspan><tspan dy="-1.22">2</tspan></text>
<rect x="206.50" y="614.23" width="10.20" height="128.82" fill="#ba281c"/>
<rect x="206.50" y="596.90" width="10.20" height="17.38" fill="#6a8bd6"/>
<rect x="206.50" y="490.26" width="10.20" height="106.69" fill="#8fba3b"/>
<rect x="206.50" y="489.20" width="10.20" height="1.12" fill="#7d858f"/>
<rect x="206.50" y="482.27" width="10.20" height="6.98" fill="#4cb2e0"/>
<rect x="206.50" y="476.40" width="10.20" height="5.92" fill="#3d9e6b"/>
<line x1="211.60" y1="743.10" x2="211.60" y2="746.30" stroke="#888" stroke-width="1"/>
<text stroke="#000" stroke-width="0.10" transform="translate(214.20,756.00) rotate(-47)" font-size="10.2" font-weight="bold" text-anchor="end" fill="#000">M2<tspan dy="1.22">_</tspan><tspan dy="-1.22">3</tspan></text>
<rect x="221.36" y="655.29" width="10.20" height="87.76" fill="#ba281c"/>
<rect x="221.36" y="618.23" width="10.20" height="37.11" fill="#6a8bd6"/>
<rect x="221.36" y="504.93" width="10.20" height="113.35" fill="#8fba3b"/>
<rect x="221.36" y="492.13" width="10.20" height="12.85" fill="#f7cd45"/>
<rect x="221.36" y="490.53" width="10.20" height="1.65" fill="#7d858f"/>
<rect x="221.36" y="483.86" width="10.20" height="6.71" fill="#4cb2e0"/>
<rect x="221.36" y="476.40" width="10.20" height="7.51" fill="#3d9e6b"/>
<line x1="226.46" y1="743.10" x2="226.46" y2="746.30" stroke="#888" stroke-width="1"/>
<text stroke="#000" stroke-width="0.10" transform="translate(229.06,756.00) rotate(-47)" font-size="10.2" font-weight="bold" text-anchor="end" fill="#000">M2<tspan dy="1.22">_</tspan><tspan dy="-1.22">4</tspan></text>
<rect x="236.22" y="674.75" width="10.20" height="68.30" fill="#ba281c"/>
<rect x="236.22" y="607.57" width="10.20" height="67.23" fill="#6a8bd6"/>
<rect x="236.22" y="510.26" width="10.20" height="97.36" fill="#8fba3b"/>
<rect x="236.22" y="485.20" width="10.20" height="25.11" fill="#f7cd45"/>
<rect x="236.22" y="483.33" width="10.20" height="1.92" fill="#7d858f"/>
<rect x="236.22" y="480.40" width="10.20" height="2.98" fill="#4cb2e0"/>
<rect x="236.22" y="476.40" width="10.20" height="4.05" fill="#3d9e6b"/>
<line x1="241.32" y1="743.10" x2="241.32" y2="746.30" stroke="#888" stroke-width="1"/>
<text stroke="#000" stroke-width="0.10" transform="translate(243.92,756.00) rotate(-47)" font-size="10.2" font-weight="bold" text-anchor="end" fill="#000">M2<tspan dy="1.22">_</tspan><tspan dy="-1.22">5</tspan></text>
<rect x="251.08" y="685.95" width="10.20" height="57.10" fill="#ba281c"/>
<rect x="251.08" y="621.96" width="10.20" height="64.03" fill="#6a8bd6"/>
<rect x="251.08" y="507.59" width="10.20" height="114.42" fill="#8fba3b"/>
<rect x="251.08" y="488.40" width="10.20" height="19.25" fill="#f7cd45"/>
<rect x="251.08" y="485.20" width="10.20" height="3.25" fill="#7d858f"/>
<rect x="251.08" y="479.87" width="10.20" height="5.38" fill="#4cb2e0"/>
<rect x="251.08" y="477.20" width="10.20" height="2.72" fill="#3d9e6b"/>
<rect x="251.08" y="476.40" width="10.20" height="0.85" fill="#d9342b"/>
<line x1="256.18" y1="743.10" x2="256.18" y2="746.30" stroke="#888" stroke-width="1"/>
<text stroke="#000" stroke-width="0.10" transform="translate(258.78,756.00) rotate(-47)" font-size="10.2" font-weight="bold" text-anchor="end" fill="#000">M2<tspan dy="1.22">_</tspan><tspan dy="-1.22">6</tspan></text>
<rect x="265.94" y="700.34" width="10.20" height="42.71" fill="#ba281c"/>
<rect x="265.94" y="624.36" width="10.20" height="76.03" fill="#6a8bd6"/>
<rect x="265.94" y="522.52" width="10.20" height="101.89" fill="#8fba3b"/>
<rect x="265.94" y="492.66" width="10.20" height="29.91" fill="#f7cd45"/>
<rect x="265.94" y="488.13" width="10.20" height="4.58" fill="#7d858f"/>
<rect x="265.94" y="484.93" width="10.20" height="3.25" fill="#4cb2e0"/>
<rect x="265.94" y="479.87" width="10.20" height="5.12" fill="#3d9e6b"/>
<rect x="265.94" y="476.40" width="10.20" height="3.52" fill="#d9342b"/>
<line x1="271.04" y1="743.10" x2="271.04" y2="746.30" stroke="#888" stroke-width="1"/>
<text stroke="#000" stroke-width="0.10" transform="translate(273.64,756.00) rotate(-47)" font-size="10.2" font-weight="bold" text-anchor="end" fill="#000">M2<tspan dy="1.22">_</tspan><tspan dy="-1.22">7</tspan></text>
<rect x="280.80" y="695.81" width="10.20" height="47.24" fill="#ba281c"/>
<rect x="280.80" y="617.43" width="10.20" height="78.43" fill="#6a8bd6"/>
<rect x="280.80" y="511.86" width="10.20" height="105.62" fill="#8fba3b"/>
<rect x="280.80" y="491.60" width="10.20" height="20.31" fill="#f7cd45"/>
<rect x="280.80" y="487.33" width="10.20" height="4.32" fill="#7d858f"/>
<rect x="280.80" y="483.86" width="10.20" height="3.52" fill="#4cb2e0"/>
<rect x="280.80" y="479.33" width="10.20" height="4.58" fill="#3d9e6b"/>
<rect x="280.80" y="476.40" width="10.20" height="2.98" fill="#d9342b"/>
<line x1="285.90" y1="743.10" x2="285.90" y2="746.30" stroke="#888" stroke-width="1"/>
<text stroke="#000" stroke-width="0.10" transform="translate(288.50,756.00) rotate(-47)" font-size="10.2" font-weight="bold" text-anchor="end" fill="#000">M2<tspan dy="1.22">_</tspan><tspan dy="-1.22">8</tspan></text>
<rect x="295.66" y="524.39" width="10.20" height="218.66" fill="#ba281c"/>
<rect x="295.66" y="497.99" width="10.20" height="26.44" fill="#6a8bd6"/>
<rect x="295.66" y="480.67" width="10.20" height="17.38" fill="#8fba3b"/>
<rect x="295.66" y="477.20" width="10.20" height="3.52" fill="#f7cd45"/>
<rect x="295.66" y="476.67" width="10.20" height="0.58" fill="#7d858f"/>
<rect x="295.66" y="476.40" width="10.20" height="0.32" fill="#8b4ea1"/>
<line x1="300.76" y1="743.10" x2="300.76" y2="746.30" stroke="#888" stroke-width="1"/>
<text stroke="#000" stroke-width="0.10" transform="translate(303.36,756.00) rotate(-47)" font-size="10.2" font-weight="bold" text-anchor="end" fill="#000">M3<tspan dy="1.22">_</tspan><tspan dy="-1.22">1</tspan></text>
<rect x="310.52" y="487.06" width="10.20" height="255.99" fill="#ba281c"/>
<rect x="310.52" y="485.20" width="10.20" height="1.92" fill="#6a8bd6"/>
<rect x="310.52" y="476.40" width="10.20" height="8.85" fill="#8fba3b"/>
<line x1="315.62" y1="743.10" x2="315.62" y2="746.30" stroke="#888" stroke-width="1"/>
<text stroke="#000" stroke-width="0.10" transform="translate(318.22,756.00) rotate(-47)" font-size="10.2" font-weight="bold" text-anchor="end" fill="#000">M3<tspan dy="1.22">_</tspan><tspan dy="-1.22">2</tspan></text>
<rect x="325.38" y="503.06" width="10.20" height="239.99" fill="#ba281c"/>
<rect x="325.38" y="501.73" width="10.20" height="1.38" fill="#6a8bd6"/>
<rect x="325.38" y="476.40" width="10.20" height="25.38" fill="#8fba3b"/>
<line x1="330.48" y1="743.10" x2="330.48" y2="746.30" stroke="#888" stroke-width="1"/>
<text stroke="#000" stroke-width="0.10" transform="translate(333.08,756.00) rotate(-47)" font-size="10.2" font-weight="bold" text-anchor="end" fill="#000">M3<tspan dy="1.22">_</tspan><tspan dy="-1.22">3</tspan></text>
<rect x="340.24" y="691.81" width="10.20" height="51.24" fill="#ba281c"/>
<rect x="340.24" y="633.16" width="10.20" height="58.70" fill="#6a8bd6"/>
<rect x="340.24" y="488.93" width="10.20" height="144.28" fill="#8fba3b"/>
<rect x="340.24" y="480.13" width="10.20" height="8.85" fill="#f7cd45"/>
<rect x="340.24" y="478.80" width="10.20" height="1.38" fill="#7d858f"/>
<rect x="340.24" y="476.40" width="10.20" height="2.45" fill="#4cb2e0"/>
<line x1="345.34" y1="743.10" x2="345.34" y2="746.30" stroke="#888" stroke-width="1"/>
<text stroke="#000" stroke-width="0.10" transform="translate(347.94,756.00) rotate(-47)" font-size="10.2" font-weight="bold" text-anchor="end" fill="#000">M3<tspan dy="1.22">_</tspan><tspan dy="-1.22">4</tspan></text>
<rect x="355.10" y="717.94" width="10.20" height="25.11" fill="#ba281c"/>
<rect x="355.10" y="643.82" width="10.20" height="74.16" fill="#6a8bd6"/>
<rect x="355.10" y="540.92" width="10.20" height="102.96" fill="#8fba3b"/>
<rect x="355.10" y="482.27" width="10.20" height="58.70" fill="#f7cd45"/>
<rect x="355.10" y="478.00" width="10.20" height="4.32" fill="#7d858f"/>
<rect x="355.10" y="476.40" width="10.20" height="1.65" fill="#4cb2e0"/>
<line x1="360.20" y1="743.10" x2="360.20" y2="746.30" stroke="#888" stroke-width="1"/>
<text stroke="#000" stroke-width="0.10" transform="translate(362.80,756.00) rotate(-47)" font-size="10.2" font-weight="bold" text-anchor="end" fill="#000">M3<tspan dy="1.22">_</tspan><tspan dy="-1.22">5</tspan></text>
<rect x="369.96" y="718.74" width="10.20" height="24.31" fill="#ba281c"/>
<rect x="369.96" y="624.63" width="10.20" height="94.16" fill="#6a8bd6"/>
<rect x="369.96" y="524.39" width="10.20" height="100.29" fill="#8fba3b"/>
<rect x="369.96" y="485.73" width="10.20" height="38.71" fill="#f7cd45"/>
<rect x="369.96" y="483.33" width="10.20" height="2.45" fill="#7d858f"/>
<rect x="369.96" y="480.13" width="10.20" height="3.25" fill="#4cb2e0"/>
<rect x="369.96" y="479.33" width="10.20" height="0.85" fill="#3d9e6b"/>
<rect x="369.96" y="476.40" width="10.20" height="2.98" fill="#d9342b"/>
<line x1="375.06" y1="743.10" x2="375.06" y2="746.30" stroke="#888" stroke-width="1"/>
<text stroke="#000" stroke-width="0.10" transform="translate(377.66,756.00) rotate(-47)" font-size="10.2" font-weight="bold" text-anchor="end" fill="#000">M3<tspan dy="1.22">_</tspan><tspan dy="-1.22">6</tspan></text>
<rect x="384.82" y="725.14" width="10.20" height="17.91" fill="#ba281c"/>
<rect x="384.82" y="619.56" width="10.20" height="105.62" fill="#6a8bd6"/>
<rect x="384.82" y="539.32" width="10.20" height="80.30" fill="#8fba3b"/>
<rect x="384.82" y="491.86" width="10.20" height="47.50" fill="#f7cd45"/>
<rect x="384.82" y="488.93" width="10.20" height="2.98" fill="#7d858f"/>
<rect x="384.82" y="484.93" width="10.20" height="4.05" fill="#4cb2e0"/>
<rect x="384.82" y="476.40" width="10.20" height="8.58" fill="#d9342b"/>
<line x1="389.92" y1="743.10" x2="389.92" y2="746.30" stroke="#888" stroke-width="1"/>
<text stroke="#000" stroke-width="0.10" transform="translate(392.52,756.00) rotate(-47)" font-size="10.2" font-weight="bold" text-anchor="end" fill="#000">M3<tspan dy="1.22">_</tspan><tspan dy="-1.22">7</tspan></text>
<rect x="399.68" y="728.60" width="10.20" height="14.45" fill="#ba281c"/>
<rect x="399.68" y="608.90" width="10.20" height="119.75" fill="#6a8bd6"/>
<rect x="399.68" y="533.99" width="10.20" height="74.96" fill="#8fba3b"/>
<rect x="399.68" y="491.33" width="10.20" height="42.71" fill="#f7cd45"/>
<rect x="399.68" y="488.66" width="10.20" height="2.72" fill="#7d858f"/>
<rect x="399.68" y="485.73" width="10.20" height="2.98" fill="#4cb2e0"/>
<rect x="399.68" y="476.40" width="10.20" height="9.38" fill="#d9342b"/>
<line x1="404.78" y1="743.10" x2="404.78" y2="746.30" stroke="#888" stroke-width="1"/>
<text stroke="#000" stroke-width="0.10" transform="translate(407.38,756.00) rotate(-47)" font-size="10.2" font-weight="bold" text-anchor="end" fill="#000">M3<tspan dy="1.22">_</tspan><tspan dy="-1.22">8</tspan></text>
<rect x="414.54" y="735.80" width="10.20" height="7.25" fill="#ba281c"/>
<rect x="414.54" y="585.47" width="10.20" height="150.38" fill="#6a8bd6"/>
<rect x="414.54" y="541.49" width="10.20" height="44.03" fill="#8fba3b"/>
<rect x="414.54" y="490.31" width="10.20" height="51.23" fill="#f7cd45"/>
<rect x="414.54" y="485.52" width="10.20" height="4.85" fill="#4cb2e0"/>
<rect x="414.54" y="483.65" width="10.20" height="1.92" fill="#d9342b"/>
<rect x="414.54" y="478.13" width="10.20" height="5.57" fill="#3f6faa"/>
<rect x="414.54" y="476.40" width="10.20" height="1.78" fill="#8b4ea1"/>
<line x1="419.64" y1="743.10" x2="419.64" y2="746.30" stroke="#888" stroke-width="1"/>
<text stroke="#000" stroke-width="0.10" transform="translate(422.24,756.00) rotate(-47)" font-size="10.2" font-weight="bold" text-anchor="end" fill="#000">SS</text>
<rect x="429.40" y="511.06" width="10.20" height="231.99" fill="#ba281c"/>
<rect x="429.40" y="477.20" width="10.20" height="33.91" fill="#8fba3b"/>
<rect x="429.40" y="476.93" width="10.20" height="0.32" fill="#f7cd45"/>
<rect x="429.40" y="476.40" width="10.20" height="0.58" fill="#d9342b"/>
<line x1="434.50" y1="743.10" x2="434.50" y2="746.30" stroke="#888" stroke-width="1"/>
<text stroke="#000" stroke-width="0.10" transform="translate(437.10,756.00) rotate(-47)" font-size="10.2" font-weight="bold" text-anchor="end" fill="#000">MC</text>
<rect x="444.26" y="739.00" width="10.20" height="4.05" fill="#ba281c"/>
<rect x="444.26" y="605.43" width="10.20" height="133.62" fill="#6a8bd6"/>
<rect x="444.26" y="596.90" width="10.20" height="8.58" fill="#8fba3b"/>
<rect x="444.26" y="488.53" width="10.20" height="108.42" fill="#f7cd45"/>
<rect x="444.26" y="486.40" width="10.20" height="2.18" fill="#7d858f"/>
<rect x="444.26" y="485.46" width="10.20" height="0.98" fill="#4cb2e0"/>
<rect x="444.26" y="482.27" width="10.20" height="3.25" fill="#3d9e6b"/>
<rect x="444.26" y="480.67" width="10.20" height="1.65" fill="#d9342b"/>
<rect x="444.26" y="477.47" width="10.20" height="3.25" fill="#5aad46"/>
<rect x="444.26" y="476.40" width="10.20" height="1.12" fill="#8b4ea1"/>
<line x1="449.36" y1="743.10" x2="449.36" y2="746.30" stroke="#888" stroke-width="1"/>
<text stroke="#000" stroke-width="0.10" transform="translate(451.96,756.00) rotate(-47)" font-size="10.2" font-weight="bold" text-anchor="end" fill="#000">MA</text>
<line x1="55.70" y1="475.50" x2="55.70" y2="743.80" stroke="#888" stroke-width="1.3"/>
<line x1="52.20" y1="743.10" x2="456.50" y2="743.10" stroke="#888" stroke-width="1.3"/>
<line x1="52.00" y1="743.00" x2="55.70" y2="743.00" stroke="#555" stroke-width="1.2"/>
<text stroke="#000" stroke-width="0.10" x="46.20" y="748.30" font-size="17" fill="#000" text-anchor="end" font-weight="bold">0</text>
<line x1="52.00" y1="689.68" x2="55.70" y2="689.68" stroke="#555" stroke-width="1.2"/>
<text stroke="#000" stroke-width="0.10" x="46.20" y="694.98" font-size="17" fill="#000" text-anchor="end" font-weight="bold">20</text>
<line x1="52.00" y1="636.36" x2="55.70" y2="636.36" stroke="#555" stroke-width="1.2"/>
<text stroke="#000" stroke-width="0.10" x="46.20" y="641.66" font-size="17" fill="#000" text-anchor="end" font-weight="bold">40</text>
<line x1="52.00" y1="583.04" x2="55.70" y2="583.04" stroke="#555" stroke-width="1.2"/>
<text stroke="#000" stroke-width="0.10" x="46.20" y="588.34" font-size="17" fill="#000" text-anchor="end" font-weight="bold">60</text>
<line x1="52.00" y1="529.72" x2="55.70" y2="529.72" stroke="#555" stroke-width="1.2"/>
<text stroke="#000" stroke-width="0.10" x="46.20" y="535.02" font-size="17" fill="#000" text-anchor="end" font-weight="bold">80</text>
<line x1="52.00" y1="476.40" x2="55.70" y2="476.40" stroke="#555" stroke-width="1.2"/>
<text stroke="#000" stroke-width="0.10" x="50.20" y="480.40" font-size="17" fill="#000" text-anchor="end" font-weight="bold">100</text>
<text stroke="#000" stroke-width="0.25" transform="translate(17.3,616.9) rotate(-90) scale(1.04,1)" font-size="24" text-anchor="middle" fill="#000">Relative abundance (%)</text>
<rect x="465.80" y="474.20" width="8.80" height="9.70" fill="#ba281c"/>
<text stroke="#000" stroke-width="0.25" transform="translate(476.3,482.40) scale(0.87,1)" font-size="12.2" fill="#000">Firmicutes</text>
<rect x="465.80" y="491.19" width="8.80" height="9.70" fill="#6a8bd6"/>
<text stroke="#000" stroke-width="0.25" transform="translate(476.3,499.39) scale(0.87,1)" font-size="12.2" fill="#000">Proteobacteria</text>
<rect x="465.80" y="508.18" width="8.80" height="9.70" fill="#8fba3b"/>
<text stroke="#000" stroke-width="0.25" transform="translate(476.3,516.38) scale(0.87,1)" font-size="12.2" fill="#000">Actinobacteriota</text>
<rect x="465.80" y="525.17" width="8.80" height="9.70" fill="#f7cd45"/>
<text stroke="#000" stroke-width="0.25" transform="translate(476.3,533.37) scale(0.87,1)" font-size="12.2" fill="#000">Bacteroidota</text>
<rect x="465.80" y="542.16" width="8.80" height="9.70" fill="#7d858f"/>
<text stroke="#000" stroke-width="0.25" transform="translate(476.3,550.36) scale(0.87,1)" font-size="12.2" fill="#000">Chloroflexi</text>
<rect x="465.80" y="559.15" width="8.80" height="9.70" fill="#4cb2e0"/>
<text stroke="#000" stroke-width="0.25" transform="translate(476.3,567.35) scale(0.87,1)" font-size="12.2" fill="#000">Myxococcota</text>
<rect x="465.80" y="576.14" width="8.80" height="9.70" fill="#3d9e6b"/>
<text stroke="#000" stroke-width="0.25" transform="translate(476.3,584.34) scale(0.87,1)" font-size="12.2" fill="#000">Gemmatimonadota</text>
<rect x="465.80" y="593.13" width="8.80" height="9.70" fill="#d9342b"/>
<text stroke="#000" stroke-width="0.25" transform="translate(476.3,601.33) scale(0.87,1)" font-size="12.2" fill="#000">Planctomycetota</text>
<rect x="465.80" y="610.12" width="8.80" height="9.70" fill="#3f6faa"/>
<text stroke="#000" stroke-width="0.25" transform="translate(476.3,618.32) scale(0.87,1)" font-size="12.2" fill="#000">Cyanobacteria</text>
<rect x="465.80" y="627.11" width="8.80" height="9.70" fill="#5aad46"/>
<text stroke="#000" stroke-width="0.25" transform="translate(476.3,635.31) scale(0.87,1)" font-size="12.2" fill="#000">unclassified<tspan dy="1.46">_</tspan><tspan dy="-1.46">k</tspan><tspan dy="1.46">__</tspan><tspan dy="-1.46">norank</tspan><tspan dy="1.46">_</tspan><tspan dy="-1.46">d</tspan><tspan dy="1.46">__</tspan><tspan dy="-1.46">Bacteria</tspan></text>
<rect x="465.80" y="644.10" width="8.80" height="9.70" fill="#8b4ea1"/>
<text stroke="#000" stroke-width="0.25" transform="translate(476.3,652.30) scale(0.87,1)" font-size="12.2" fill="#000">others</text>
<text stroke="#000" stroke-width="0.10" x="609.00" y="460.60" font-size="39.5" fill="#000" text-anchor="middle" font-weight="bold">d</text>
<rect x="693.20" y="444.80" width="8.84" height="10.50" fill="rgb(0,0,128)" stroke="#cdcdcd" stroke-width="0.8"/>
<rect x="702.04" y="444.80" width="8.84" height="10.50" fill="rgb(0,0,128)" stroke="#cdcdcd" stroke-width="0.8"/>
<rect x="710.87" y="444.80" width="8.84" height="10.50" fill="rgb(0,0,128)" stroke="#cdcdcd" stroke-width="0.8"/>
<rect x="719.71" y="444.80" width="8.84" height="10.50" fill="rgb(0,0,128)" stroke="#cdcdcd" stroke-width="0.8"/>
<rect x="728.55" y="444.80" width="8.84" height="10.50" fill="rgb(0,0,128)" stroke="#cdcdcd" stroke-width="0.8"/>
<rect x="737.38" y="444.80" width="8.84" height="10.50" fill="rgb(0,0,128)" stroke="#cdcdcd" stroke-width="0.8"/>
<rect x="746.22" y="444.80" width="8.84" height="10.50" fill="rgb(0,0,128)" stroke="#cdcdcd" stroke-width="0.8"/>
<rect x="755.06" y="444.80" width="8.84" height="10.50" fill="rgb(0,0,128)" stroke="#cdcdcd" stroke-width="0.8"/>
<rect x="763.90" y="444.80" width="8.84" height="10.50" fill="rgb(0,0,128)" stroke="#cdcdcd" stroke-width="0.8"/>
<rect x="772.73" y="444.80" width="8.84" height="10.50" fill="rgb(0,0,128)" stroke="#cdcdcd" stroke-width="0.8"/>
<rect x="781.57" y="444.80" width="8.84" height="10.50" fill="rgb(0,0,128)" stroke="#cdcdcd" stroke-width="0.8"/>
<rect x="790.41" y="444.80" width="8.84" height="10.50" fill="rgb(0,0,128)" stroke="#cdcdcd" stroke-width="0.8"/>
<rect x="799.24" y="444.80" width="8.84" height="10.50" fill="rgb(0,0,128)" stroke="#cdcdcd" stroke-width="0.8"/>
<rect x="808.08" y="444.80" width="8.84" height="10.50" fill="rgb(0,0,128)" stroke="#cdcdcd" stroke-width="0.8"/>
<rect x="816.92" y="444.80" width="8.84" height="10.50" fill="rgb(0,0,128)" stroke="#cdcdcd" stroke-width="0.8"/>
<rect x="825.76" y="444.80" width="8.84" height="10.50" fill="rgb(0,0,128)" stroke="#cdcdcd" stroke-width="0.8"/>
<rect x="834.59" y="444.80" width="8.84" height="10.50" fill="rgb(0,0,128)" stroke="#cdcdcd" stroke-width="0.8"/>
<rect x="843.43" y="444.80" width="8.84" height="10.50" fill="rgb(102,102,181)" stroke="#cdcdcd" stroke-width="0.8"/>
<rect x="852.27" y="444.80" width="8.84" height="10.50" fill="rgb(0,0,128)" stroke="#cdcdcd" stroke-width="0.8"/>
<rect x="861.10" y="444.80" width="8.84" height="10.50" fill="rgb(0,0,128)" stroke="#cdcdcd" stroke-width="0.8"/>
<rect x="869.94" y="444.80" width="8.84" height="10.50" fill="rgb(0,0,128)" stroke="#cdcdcd" stroke-width="0.8"/>
<rect x="878.78" y="444.80" width="8.84" height="10.50" fill="rgb(0,0,128)" stroke="#cdcdcd" stroke-width="0.8"/>
<rect x="887.61" y="444.80" width="8.84" height="10.50" fill="rgb(0,0,128)" stroke="#cdcdcd" stroke-width="0.8"/>
<rect x="896.45" y="444.80" width="8.84" height="10.50" fill="rgb(102,102,181)" stroke="#cdcdcd" stroke-width="0.8"/>
<rect x="905.29" y="444.80" width="8.84" height="10.50" fill="rgb(180,180,218)" stroke="#cdcdcd" stroke-width="0.8"/>
<rect x="914.12" y="444.80" width="8.84" height="10.50" fill="rgb(0,0,128)" stroke="#cdcdcd" stroke-width="0.8"/>
<rect x="922.96" y="444.80" width="8.84" height="10.50" fill="rgb(176,78,74)" stroke="#cdcdcd" stroke-width="0.8"/>
<rect x="693.20" y="455.30" width="8.84" height="10.50" fill="rgb(0,0,128)" stroke="#cdcdcd" stroke-width="0.8"/>
<rect x="702.04" y="455.30" width="8.84" height="10.50" fill="rgb(0,0,128)" stroke="#cdcdcd" stroke-width="0.8"/>
<rect x="710.87" y="455.30" width="8.84" height="10.50" fill="rgb(0,0,128)" stroke="#cdcdcd" stroke-width="0.8"/>
<rect x="719.71" y="455.30" width="8.84" height="10.50" fill="rgb(0,0,128)" stroke="#cdcdcd" stroke-width="0.8"/>
<rect x="728.55" y="455.30" width="8.84" height="10.50" fill="rgb(0,0,128)" stroke="#cdcdcd" stroke-width="0.8"/>
<rect x="737.38" y="455.30" width="8.84" height="10.50" fill="rgb(0,0,128)" stroke="#cdcdcd" stroke-width="0.8"/>
<rect x="746.22" y="455.30" width="8.84" height="10.50" fill="rgb(0,0,128)" stroke="#cdcdcd" stroke-width="0.8"/>
<rect x="755.06" y="455.30" width="8.84" height="10.50" fill="rgb(0,0,128)" stroke="#cdcdcd" stroke-width="0.8"/>
<rect x="763.90" y="455.30" width="8.84" height="10.50" fill="rgb(0,0,128)" stroke="#cdcdcd" stroke-width="0.8"/>
<rect x="772.73" y="455.30" width="8.84" height="10.50" fill="rgb(0,0,128)" stroke="#cdcdcd" stroke-width="0.8"/>
<rect x="781.57" y="455.30" width="8.84" height="10.50" fill="rgb(0,0,128)" stroke="#cdcdcd" stroke-width="0.8"/>
<rect x="790.41" y="455.30" width="8.84" height="10.50" fill="rgb(0,0,128)" stroke="#cdcdcd" stroke-width="0.8"/>
<rect x="799.24" y="455.30" width="8.84" height="10.50" fill="rgb(0,0,128)" stroke="#cdcdcd" stroke-width="0.8"/>
<rect x="808.08" y="455.30" width="8.84" height="10.50" fill="rgb(0,0,128)" stroke="#cdcdcd" stroke-width="0.8"/>
<rect x="816.92" y="455.30" width="8.84" height="10.50" fill="rgb(0,0,128)" stroke="#cdcdcd" stroke-width="0.8"/>
<rect x="825.76" y="455.30" width="8.84" height="10.50" fill="rgb(0,0,128)" stroke="#cdcdcd" stroke-width="0.8"/>
<rect x="834.59" y="455.30" width="8.84" height="10.50" fill="rgb(0,0,128)" stroke="#cdcdcd" stroke-width="0.8"/>
<rect x="843.43" y="455.30" width="8.84" height="10.50" fill="rgb(0,0,128)" stroke="#cdcdcd" stroke-width="0.8"/>
<rect x="852.27" y="455.30" width="8.84" height="10.50" fill="rgb(0,0,128)" stroke="#cdcdcd" stroke-width="0.8"/>
<rect x="861.10" y="455.30" width="8.84" height="10.50" fill="rgb(0,0,128)" stroke="#cdcdcd" stroke-width="0.8"/>
<rect x="869.94" y="455.30" width="8.84" height="10.50" fill="rgb(0,0,128)" stroke="#cdcdcd" stroke-width="0.8"/>
<rect x="878.78" y="455.30" width="8.84" height="10.50" fill="rgb(0,0,128)" stroke="#cdcdcd" stroke-width="0.8"/>
<rect x="887.61" y="455.30" width="8.84" height="10.50" fill="rgb(0,0,128)" stroke="#cdcdcd" stroke-width="0.8"/>
<rect x="896.45" y="455.30" width="8.84" height="10.50" fill="rgb(0,0,128)" stroke="#cdcdcd" stroke-width="0.8"/>
<rect x="905.29" y="455.30" width="8.84" height="10.50" fill="rgb(0,0,128)" stroke="#cdcdcd" stroke-width="0.8"/>
<rect x="914.12" y="455.30" width="8.84" height="10.50" fill="rgb(0,0,128)" stroke="#cdcdcd" stroke-width="0.8"/>
<rect x="922.96" y="455.30" width="8.84" height="10.50" fill="rgb(188,86,82)" stroke="#cdcdcd" stroke-width="0.8"/>
<rect x="693.20" y="465.80" width="8.84" height="10.50" fill="rgb(180,180,218)" stroke="#cdcdcd" stroke-width="0.8"/>
<rect x="702.04" y="465.80" width="8.84" height="10.50" fill="rgb(140,140,200)" stroke="#cdcdcd" stroke-width="0.8"/>
<rect x="710.87" y="465.80" width="8.84" height="10.50" fill="rgb(102,102,181)" stroke="#cdcdcd" stroke-width="0.8"/>
<rect x="719.71" y="465.80" width="8.84" height="10.50" fill="rgb(180,180,218)" stroke="#cdcdcd" stroke-width="0.8"/>
<rect x="728.55" y="465.80" width="8.84" height="10.50" fill="rgb(0,0,128)" stroke="#cdcdcd" stroke-width="0.8"/>
<rect x="737.38" y="465.80" width="8.84" height="10.50" fill="rgb(0,0,128)" stroke="#cdcdcd" stroke-width="0.8"/>
<rect x="746.22" y="465.80" width="8.84" height="10.50" fill="rgb(188,86,82)" stroke="#cdcdcd" stroke-width="0.8"/>
<rect x="755.06" y="465.80" width="8.84" height="10.50" fill="rgb(202,122,119)" stroke="#cdcdcd" stroke-width="0.8"/>
<rect x="763.90" y="465.80" width="8.84" height="10.50" fill="rgb(188,86,82)" stroke="#cdcdcd" stroke-width="0.8"/>
<rect x="772.73" y="465.80" width="8.84" height="10.50" fill="rgb(170,50,45)" stroke="#cdcdcd" stroke-width="0.8"/>
<rect x="781.57" y="465.80" width="8.84" height="10.50" fill="rgb(188,86,82)" stroke="#cdcdcd" stroke-width="0.8"/>
<rect x="790.41" y="465.80" width="8.84" height="10.50" fill="rgb(102,102,181)" stroke="#cdcdcd" stroke-width="0.8"/>
<rect x="799.24" y="465.80" width="8.84" height="10.50" fill="rgb(102,102,181)" stroke="#cdcdcd" stroke-width="0.8"/>
<rect x="808.08" y="465.80" width="8.84" height="10.50" fill="rgb(140,140,200)" stroke="#cdcdcd" stroke-width="0.8"/>
<rect x="816.92" y="465.80" width="8.84" height="10.50" fill="rgb(180,180,218)" stroke="#cdcdcd" stroke-width="0.8"/>
<rect x="825.76" y="465.80" width="8.84" height="10.50" fill="rgb(102,102,181)" stroke="#cdcdcd" stroke-width="0.8"/>
<rect x="834.59" y="465.80" width="8.84" height="10.50" fill="rgb(236,236,247)" stroke="#cdcdcd" stroke-width="0.8"/>
<rect x="843.43" y="465.80" width="8.84" height="10.50" fill="rgb(0,0,128)" stroke="#cdcdcd" stroke-width="0.8"/>
<rect x="852.27" y="465.80" width="8.84" height="10.50" fill="rgb(0,0,128)" stroke="#cdcdcd" stroke-width="0.8"/>
<rect x="861.10" y="465.80" width="8.84" height="10.50" fill="rgb(102,102,181)" stroke="#cdcdcd" stroke-width="0.8"/>
<rect x="869.94" y="465.80" width="8.84" height="10.50" fill="rgb(0,0,128)" stroke="#cdcdcd" stroke-width="0.8"/>
<rect x="878.78" y="465.80" width="8.84" height="10.50" fill="rgb(0,0,128)" stroke="#cdcdcd" stroke-width="0.8"/>
<rect x="887.61" y="465.80" width="8.84" height="10.50" fill="rgb(0,0,128)" stroke="#cdcdcd" stroke-width="0.8"/>
<rect x="896.45" y="465.80" width="8.84" height="10.50" fill="rgb(252,250,250)" stroke="#cdcdcd" stroke-width="0.8"/>
<rect x="905.29" y="465.80" width="8.84" height="10.50" fill="rgb(252,250,250)" stroke="#cdcdcd" stroke-width="0.8"/>
<rect x="914.12" y="465.80" width="8.84" height="10.50" fill="rgb(238,213,212)" stroke="#cdcdcd" stroke-width="0.8"/>
<rect x="922.96" y="465.80" width="8.84" height="10.50" fill="rgb(0,0,128)" stroke="#cdcdcd" stroke-width="0.8"/>
<rect x="693.20" y="476.30" width="8.84" height="10.50" fill="rgb(252,250,250)" stroke="#cdcdcd" stroke-width="0.8"/>
<rect x="702.04" y="476.30" width="8.84" height="10.50" fill="rgb(252,250,250)" stroke="#cdcdcd" stroke-width="0.8"/>
<rect x="710.87" y="476.30" width="8.84" height="10.50" fill="rgb(180,180,218)" stroke="#cdcdcd" stroke-width="0.8"/>
<rect x="719.71" y="476.30" width="8.84" height="10.50" fill="rgb(180,180,218)" stroke="#cdcdcd" stroke-width="0.8"/>
<rect x="728.55" y="476.30" width="8.84" height="10.50" fill="rgb(0,0,128)" stroke="#cdcdcd" stroke-width="0.8"/>
<rect x="737.38" y="476.30" width="8.84" height="10.50" fill="rgb(140,140,200)" stroke="#cdcdcd" stroke-width="0.8"/>
<rect x="746.22" y="476.30" width="8.84" height="10.50" fill="rgb(202,122,119)" stroke="#cdcdcd" stroke-width="0.8"/>
<rect x="755.06" y="476.30" width="8.84" height="10.50" fill="rgb(202,122,119)" stroke="#cdcdcd" stroke-width="0.8"/>
<rect x="763.90" y="476.30" width="8.84" height="10.50" fill="rgb(226,180,178)" stroke="#cdcdcd" stroke-width="0.8"/>
<rect x="772.73" y="476.30" width="8.84" height="10.50" fill="rgb(202,122,119)" stroke="#cdcdcd" stroke-width="0.8"/>
<rect x="781.57" y="476.30" width="8.84" height="10.50" fill="rgb(202,122,119)" stroke="#cdcdcd" stroke-width="0.8"/>
<rect x="790.41" y="476.30" width="8.84" height="10.50" fill="rgb(220,220,238)" stroke="#cdcdcd" stroke-width="0.8"/>
<rect x="799.24" y="476.30" width="8.84" height="10.50" fill="rgb(238,213,212)" stroke="#cdcdcd" stroke-width="0.8"/>
<rect x="808.08" y="476.30" width="8.84" height="10.50" fill="rgb(238,213,212)" stroke="#cdcdcd" stroke-width="0.8"/>
<rect x="816.92" y="476.30" width="8.84" height="10.50" fill="rgb(238,213,212)" stroke="#cdcdcd" stroke-width="0.8"/>
<rect x="825.76" y="476.30" width="8.84" height="10.50" fill="rgb(238,213,212)" stroke="#cdcdcd" stroke-width="0.8"/>
<rect x="834.59" y="476.30" width="8.84" height="10.50" fill="rgb(0,0,128)" stroke="#cdcdcd" stroke-width="0.8"/>
<rect x="843.43" y="476.30" width="8.84" height="10.50" fill="rgb(0,0,128)" stroke="#cdcdcd" stroke-width="0.8"/>
<rect x="852.27" y="476.30" width="8.84" height="10.50" fill="rgb(0,0,128)" stroke="#cdcdcd" stroke-width="0.8"/>
<rect x="861.10" y="476.30" width="8.84" height="10.50" fill="rgb(102,102,181)" stroke="#cdcdcd" stroke-width="0.8"/>
<rect x="869.94" y="476.30" width="8.84" height="10.50" fill="rgb(0,0,128)" stroke="#cdcdcd" stroke-width="0.8"/>
<rect x="878.78" y="476.30" width="8.84" height="10.50" fill="rgb(0,0,128)" stroke="#cdcdcd" stroke-width="0.8"/>
<rect x="887.61" y="476.30" width="8.84" height="10.50" fill="rgb(0,0,128)" stroke="#cdcdcd" stroke-width="0.8"/>
<rect x="896.45" y="476.30" width="8.84" height="10.50" fill="rgb(140,140,200)" stroke="#cdcdcd" stroke-width="0.8"/>
<rect x="905.29" y="476.30" width="8.84" height="10.50" fill="rgb(180,180,218)" stroke="#cdcdcd" stroke-width="0.8"/>
<rect x="914.12" y="476.30" width="8.84" height="10.50" fill="rgb(140,140,200)" stroke="#cdcdcd" stroke-width="0.8"/>
<rect x="922.96" y="476.30" width="8.84" height="10.50" fill="rgb(0,0,128)" stroke="#cdcdcd" stroke-width="0.8"/>
<rect x="693.20" y="486.80" width="8.84" height="10.50" fill="rgb(226,180,178)" stroke="#cdcdcd" stroke-width="0.8"/>
<rect x="702.04" y="486.80" width="8.84" height="10.50" fill="rgb(213,148,146)" stroke="#cdcdcd" stroke-width="0.8"/>
<rect x="710.87" y="486.80" width="8.84" height="10.50" fill="rgb(226,180,178)" stroke="#cdcdcd" stroke-width="0.8"/>
<rect x="719.71" y="486.80" width="8.84" height="10.50" fill="rgb(238,213,212)" stroke="#cdcdcd" stroke-width="0.8"/>
<rect x="728.55" y="486.80" width="8.84" height="10.50" fill="rgb(236,236,247)" stroke="#cdcdcd" stroke-width="0.8"/>
<rect x="737.38" y="486.80" width="8.84" height="10.50" fill="rgb(238,213,212)" stroke="#cdcdcd" stroke-width="0.8"/>
<rect x="746.22" y="486.80" width="8.84" height="10.50" fill="rgb(202,122,119)" stroke="#cdcdcd" stroke-width="0.8"/>
<rect x="755.06" y="486.80" width="8.84" height="10.50" fill="rgb(213,148,146)" stroke="#cdcdcd" stroke-width="0.8"/>
<rect x="763.90" y="486.80" width="8.84" height="10.50" fill="rgb(213,148,146)" stroke="#cdcdcd" stroke-width="0.8"/>
<rect x="772.73" y="486.80" width="8.84" height="10.50" fill="rgb(213,148,146)" stroke="#cdcdcd" stroke-width="0.8"/>
<rect x="781.57" y="486.80" width="8.84" height="10.50" fill="rgb(202,122,119)" stroke="#cdcdcd" stroke-width="0.8"/>
<rect x="790.41" y="486.80" width="8.84" height="10.50" fill="rgb(226,180,178)" stroke="#cdcdcd" stroke-width="0.8"/>
<rect x="799.24" y="486.80" width="8.84" height="10.50" fill="rgb(213,148,146)" stroke="#cdcdcd" stroke-width="0.8"/>
<rect x="808.08" y="486.80" width="8.84" height="10.50" fill="rgb(226,180,178)" stroke="#cdcdcd" stroke-width="0.8"/>
<rect x="816.92" y="486.80" width="8.84" height="10.50" fill="rgb(226,180,178)" stroke="#cdcdcd" stroke-width="0.8"/>
<rect x="825.76" y="486.80" width="8.84" height="10.50" fill="rgb(213,148,146)" stroke="#cdcdcd" stroke-width="0.8"/>
<rect x="834.59" y="486.80" width="8.84" height="10.50" fill="rgb(220,220,238)" stroke="#cdcdcd" stroke-width="0.8"/>
<rect x="843.43" y="486.80" width="8.84" height="10.50" fill="rgb(0,0,128)" stroke="#cdcdcd" stroke-width="0.8"/>
<rect x="852.27" y="486.80" width="8.84" height="10.50" fill="rgb(140,140,200)" stroke="#cdcdcd" stroke-width="0.8"/>
<rect x="861.10" y="486.80" width="8.84" height="10.50" fill="rgb(0,0,128)" stroke="#cdcdcd" stroke-width="0.8"/>
<rect x="869.94" y="486.80" width="8.84" height="10.50" fill="rgb(102,102,181)" stroke="#cdcdcd" stroke-width="0.8"/>
<rect x="878.78" y="486.80" width="8.84" height="10.50" fill="rgb(0,0,128)" stroke="#cdcdcd" stroke-width="0.8"/>
<rect x="887.61" y="486.80" width="8.84" height="10.50" fill="rgb(0,0,128)" stroke="#cdcdcd" stroke-width="0.8"/>
<rect x="896.45" y="486.80" width="8.84" height="10.50" fill="rgb(252,250,250)" stroke="#cdcdcd" stroke-width="0.8"/>
<rect x="905.29" y="486.80" width="8.84" height="10.50" fill="rgb(220,220,238)" stroke="#cdcdcd" stroke-width="0.8"/>
<rect x="914.12" y="486.80" width="8.84" height="10.50" fill="rgb(244,230,228)" stroke="#cdcdcd" stroke-width="0.8"/>
<rect x="922.96" y="486.80" width="8.84" height="10.50" fill="rgb(102,102,181)" stroke="#cdcdcd" stroke-width="0.8"/>
<rect x="693.20" y="497.30" width="8.84" height="10.50" fill="rgb(238,213,212)" stroke="#cdcdcd" stroke-width="0.8"/>
<rect x="702.04" y="497.30" width="8.84" height="10.50" fill="rgb(238,213,212)" stroke="#cdcdcd" stroke-width="0.8"/>
<rect x="710.87" y="497.30" width="8.84" height="10.50" fill="rgb(244,230,228)" stroke="#cdcdcd" stroke-width="0.8"/>
<rect x="719.71" y="497.30" width="8.84" height="10.50" fill="rgb(252,250,250)" stroke="#cdcdcd" stroke-width="0.8"/>
<rect x="728.55" y="497.30" width="8.84" height="10.50" fill="rgb(0,0,128)" stroke="#cdcdcd" stroke-width="0.8"/>
<rect x="737.38" y="497.30" width="8.84" height="10.50" fill="rgb(252,250,250)" stroke="#cdcdcd" stroke-width="0.8"/>
<rect x="746.22" y="497.30" width="8.84" height="10.50" fill="rgb(213,148,146)" stroke="#cdcdcd" stroke-width="0.8"/>
<rect x="755.06" y="497.30" width="8.84" height="10.50" fill="rgb(213,148,146)" stroke="#cdcdcd" stroke-width="0.8"/>
<rect x="763.90" y="497.30" width="8.84" height="10.50" fill="rgb(226,180,178)" stroke="#cdcdcd" stroke-width="0.8"/>
<rect x="772.73" y="497.30" width="8.84" height="10.50" fill="rgb(226,180,178)" stroke="#cdcdcd" stroke-width="0.8"/>
<rect x="781.57" y="497.30" width="8.84" height="10.50" fill="rgb(213,148,146)" stroke="#cdcdcd" stroke-width="0.8"/>
<rect x="790.41" y="497.30" width="8.84" height="10.50" fill="rgb(226,180,178)" stroke="#cdcdcd" stroke-width="0.8"/>
<rect x="799.24" y="497.30" width="8.84" height="10.50" fill="rgb(213,148,146)" stroke="#cdcdcd" stroke-width="0.8"/>
<rect x="808.08" y="497.30" width="8.84" height="10.50" fill="rgb(226,180,178)" stroke="#cdcdcd" stroke-width="0.8"/>
<rect x="816.92" y="497.30" width="8.84" height="10.50" fill="rgb(226,180,178)" stroke="#cdcdcd" stroke-width="0.8"/>
<rect x="825.76" y="497.30" width="8.84" height="10.50" fill="rgb(226,180,178)" stroke="#cdcdcd" stroke-width="0.8"/>
<rect x="834.59" y="497.30" width="8.84" height="10.50" fill="rgb(0,0,128)" stroke="#cdcdcd" stroke-width="0.8"/>
<rect x="843.43" y="497.30" width="8.84" height="10.50" fill="rgb(0,0,128)" stroke="#cdcdcd" stroke-width="0.8"/>
<rect x="852.27" y="497.30" width="8.84" height="10.50" fill="rgb(140,140,200)" stroke="#cdcdcd" stroke-width="0.8"/>
<rect x="861.10" y="497.30" width="8.84" height="10.50" fill="rgb(0,0,128)" stroke="#cdcdcd" stroke-width="0.8"/>
<rect x="869.94" y="497.30" width="8.84" height="10.50" fill="rgb(102,102,181)" stroke="#cdcdcd" stroke-width="0.8"/>
<rect x="878.78" y="497.30" width="8.84" height="10.50" fill="rgb(0,0,128)" stroke="#cdcdcd" stroke-width="0.8"/>
<rect x="887.61" y="497.30" width="8.84" height="10.50" fill="rgb(0,0,128)" stroke="#cdcdcd" stroke-width="0.8"/>
<rect x="896.45" y="497.30" width="8.84" height="10.50" fill="rgb(102,102,181)" stroke="#cdcdcd" stroke-width="0.8"/>
<rect x="905.29" y="497.30" width="8.84" height="10.50" fill="rgb(236,236,247)" stroke="#cdcdcd" stroke-width="0.8"/>
<rect x="914.12" y="497.30" width="8.84" height="10.50" fill="rgb(102,102,181)" stroke="#cdcdcd" stroke-width="0.8"/>
<rect x="922.96" y="497.30" width="8.84" height="10.50" fill="rgb(238,213,212)" stroke="#cdcdcd" stroke-width="0.8"/>
<rect x="693.20" y="507.80" width="8.84" height="10.50" fill="rgb(202,122,119)" stroke="#cdcdcd" stroke-width="0.8"/>
<rect x="702.04" y="507.80" width="8.84" height="10.50" fill="rgb(202,122,119)" stroke="#cdcdcd" stroke-width="0.8"/>
<rect x="710.87" y="507.80" width="8.84" height="10.50" fill="rgb(202,122,119)" stroke="#cdcdcd" stroke-width="0.8"/>
<rect x="719.71" y="507.80" width="8.84" height="10.50" fill="rgb(202,122,119)" stroke="#cdcdcd" stroke-width="0.8"/>
<rect x="728.55" y="507.80" width="8.84" height="10.50" fill="rgb(226,180,178)" stroke="#cdcdcd" stroke-width="0.8"/>
<rect x="737.38" y="507.80" width="8.84" height="10.50" fill="rgb(202,122,119)" stroke="#cdcdcd" stroke-width="0.8"/>
<rect x="746.22" y="507.80" width="8.84" height="10.50" fill="rgb(188,86,82)" stroke="#cdcdcd" stroke-width="0.8"/>
<rect x="755.06" y="507.80" width="8.84" height="10.50" fill="rgb(188,86,82)" stroke="#cdcdcd" stroke-width="0.8"/>
<rect x="763.90" y="507.80" width="8.84" height="10.50" fill="rgb(188,86,82)" stroke="#cdcdcd" stroke-width="0.8"/>
<rect x="772.73" y="507.80" width="8.84" height="10.50" fill="rgb(188,86,82)" stroke="#cdcdcd" stroke-width="0.8"/>
<rect x="781.57" y="507.80" width="8.84" height="10.50" fill="rgb(188,86,82)" stroke="#cdcdcd" stroke-width="0.8"/>
<rect x="790.41" y="507.80" width="8.84" height="10.50" fill="rgb(170,50,45)" stroke="#cdcdcd" stroke-width="0.8"/>
<rect x="799.24" y="507.80" width="8.84" height="10.50" fill="rgb(188,86,82)" stroke="#cdcdcd" stroke-width="0.8"/>
<rect x="808.08" y="507.80" width="8.84" height="10.50" fill="rgb(188,86,82)" stroke="#cdcdcd" stroke-width="0.8"/>
<rect x="816.92" y="507.80" width="8.84" height="10.50" fill="rgb(202,122,119)" stroke="#cdcdcd" stroke-width="0.8"/>
<rect x="825.76" y="507.80" width="8.84" height="10.50" fill="rgb(202,122,119)" stroke="#cdcdcd" stroke-width="0.8"/>
<rect x="834.59" y="507.80" width="8.84" height="10.50" fill="rgb(180,180,218)" stroke="#cdcdcd" stroke-width="0.8"/>
<rect x="843.43" y="507.80" width="8.84" height="10.50" fill="rgb(180,180,218)" stroke="#cdcdcd" stroke-width="0.8"/>
<rect x="852.27" y="507.80" width="8.84" height="10.50" fill="rgb(226,180,178)" stroke="#cdcdcd" stroke-width="0.8"/>
<rect x="861.10" y="507.80" width="8.84" height="10.50" fill="rgb(238,213,212)" stroke="#cdcdcd" stroke-width="0.8"/>
<rect x="869.94" y="507.80" width="8.84" height="10.50" fill="rgb(180,180,218)" stroke="#cdcdcd" stroke-width="0.8"/>
<rect x="878.78" y="507.80" width="8.84" height="10.50" fill="rgb(0,0,128)" stroke="#cdcdcd" stroke-width="0.8"/>
<rect x="887.61" y="507.80" width="8.84" height="10.50" fill="rgb(238,213,212)" stroke="#cdcdcd" stroke-width="0.8"/>
<rect x="896.45" y="507.80" width="8.84" height="10.50" fill="rgb(140,140,200)" stroke="#cdcdcd" stroke-width="0.8"/>
<rect x="905.29" y="507.80" width="8.84" height="10.50" fill="rgb(180,180,218)" stroke="#cdcdcd" stroke-width="0.8"/>
<rect x="914.12" y="507.80" width="8.84" height="10.50" fill="rgb(140,140,200)" stroke="#cdcdcd" stroke-width="0.8"/>
<rect x="922.96" y="507.80" width="8.84" height="10.50" fill="rgb(252,250,250)" stroke="#cdcdcd" stroke-width="0.8"/>
<rect x="693.20" y="518.30" width="8.84" height="10.50" fill="rgb(202,122,119)" stroke="#cdcdcd" stroke-width="0.8"/>
<rect x="702.04" y="518.30" width="8.84" height="10.50" fill="rgb(213,148,146)" stroke="#cdcdcd" stroke-width="0.8"/>
<rect x="710.87" y="518.30" width="8.84" height="10.50" fill="rgb(202,122,119)" stroke="#cdcdcd" stroke-width="0.8"/>
<rect x="719.71" y="518.30" width="8.84" height="10.50" fill="rgb(213,148,146)" stroke="#cdcdcd" stroke-width="0.8"/>
<rect x="728.55" y="518.30" width="8.84" height="10.50" fill="rgb(102,102,181)" stroke="#cdcdcd" stroke-width="0.8"/>
<rect x="737.38" y="518.30" width="8.84" height="10.50" fill="rgb(213,148,146)" stroke="#cdcdcd" stroke-width="0.8"/>
<rect x="746.22" y="518.30" width="8.84" height="10.50" fill="rgb(202,122,119)" stroke="#cdcdcd" stroke-width="0.8"/>
<rect x="755.06" y="518.30" width="8.84" height="10.50" fill="rgb(202,122,119)" stroke="#cdcdcd" stroke-width="0.8"/>
<rect x="763.90" y="518.30" width="8.84" height="10.50" fill="rgb(202,122,119)" stroke="#cdcdcd" stroke-width="0.8"/>
<rect x="772.73" y="518.30" width="8.84" height="10.50" fill="rgb(202,122,119)" stroke="#cdcdcd" stroke-width="0.8"/>
<rect x="781.57" y="518.30" width="8.84" height="10.50" fill="rgb(202,122,119)" stroke="#cdcdcd" stroke-width="0.8"/>
<rect x="790.41" y="518.30" width="8.84" height="10.50" fill="rgb(238,213,212)" stroke="#cdcdcd" stroke-width="0.8"/>
<rect x="799.24" y="518.30" width="8.84" height="10.50" fill="rgb(202,122,119)" stroke="#cdcdcd" stroke-width="0.8"/>
<rect x="808.08" y="518.30" width="8.84" height="10.50" fill="rgb(202,122,119)" stroke="#cdcdcd" stroke-width="0.8"/>
<rect x="816.92" y="518.30" width="8.84" height="10.50" fill="rgb(202,122,119)" stroke="#cdcdcd" stroke-width="0.8"/>
<rect x="825.76" y="518.30" width="8.84" height="10.50" fill="rgb(202,122,119)" stroke="#cdcdcd" stroke-width="0.8"/>
<rect x="834.59" y="518.30" width="8.84" height="10.50" fill="rgb(102,102,181)" stroke="#cdcdcd" stroke-width="0.8"/>
<rect x="843.43" y="518.30" width="8.84" height="10.50" fill="rgb(102,102,181)" stroke="#cdcdcd" stroke-width="0.8"/>
<rect x="852.27" y="518.30" width="8.84" height="10.50" fill="rgb(140,140,200)" stroke="#cdcdcd" stroke-width="0.8"/>
<rect x="861.10" y="518.30" width="8.84" height="10.50" fill="rgb(140,140,200)" stroke="#cdcdcd" stroke-width="0.8"/>
<rect x="869.94" y="518.30" width="8.84" height="10.50" fill="rgb(140,140,200)" stroke="#cdcdcd" stroke-width="0.8"/>
<rect x="878.78" y="518.30" width="8.84" height="10.50" fill="rgb(0,0,128)" stroke="#cdcdcd" stroke-width="0.8"/>
<rect x="887.61" y="518.30" width="8.84" height="10.50" fill="rgb(0,0,128)" stroke="#cdcdcd" stroke-width="0.8"/>
<rect x="896.45" y="518.30" width="8.84" height="10.50" fill="rgb(0,0,128)" stroke="#cdcdcd" stroke-width="0.8"/>
<rect x="905.29" y="518.30" width="8.84" height="10.50" fill="rgb(252,250,250)" stroke="#cdcdcd" stroke-width="0.8"/>
<rect x="914.12" y="518.30" width="8.84" height="10.50" fill="rgb(180,180,218)" stroke="#cdcdcd" stroke-width="0.8"/>
<rect x="922.96" y="518.30" width="8.84" height="10.50" fill="rgb(180,180,218)" stroke="#cdcdcd" stroke-width="0.8"/>
<rect x="693.20" y="528.80" width="8.84" height="10.50" fill="rgb(202,122,119)" stroke="#cdcdcd" stroke-width="0.8"/>
<rect x="702.04" y="528.80" width="8.84" height="10.50" fill="rgb(202,122,119)" stroke="#cdcdcd" stroke-width="0.8"/>
<rect x="710.87" y="528.80" width="8.84" height="10.50" fill="rgb(202,122,119)" stroke="#cdcdcd" stroke-width="0.8"/>
<rect x="719.71" y="528.80" width="8.84" height="10.50" fill="rgb(202,122,119)" stroke="#cdcdcd" stroke-width="0.8"/>
<rect x="728.55" y="528.80" width="8.84" height="10.50" fill="rgb(0,0,128)" stroke="#cdcdcd" stroke-width="0.8"/>
<rect x="737.38" y="528.80" width="8.84" height="10.50" fill="rgb(213,148,146)" stroke="#cdcdcd" stroke-width="0.8"/>
<rect x="746.22" y="528.80" width="8.84" height="10.50" fill="rgb(202,122,119)" stroke="#cdcdcd" stroke-width="0.8"/>
<rect x="755.06" y="528.80" width="8.84" height="10.50" fill="rgb(202,122,119)" stroke="#cdcdcd" stroke-width="0.8"/>
<rect x="763.90" y="528.80" width="8.84" height="10.50" fill="rgb(188,86,82)" stroke="#cdcdcd" stroke-width="0.8"/>
<rect x="772.73" y="528.80" width="8.84" height="10.50" fill="rgb(188,86,82)" stroke="#cdcdcd" stroke-width="0.8"/>
<rect x="781.57" y="528.80" width="8.84" height="10.50" fill="rgb(202,122,119)" stroke="#cdcdcd" stroke-width="0.8"/>
<rect x="790.41" y="528.80" width="8.84" height="10.50" fill="rgb(252,250,250)" stroke="#cdcdcd" stroke-width="0.8"/>
<rect x="799.24" y="528.80" width="8.84" height="10.50" fill="rgb(238,213,212)" stroke="#cdcdcd" stroke-width="0.8"/>
<rect x="808.08" y="528.80" width="8.84" height="10.50" fill="rgb(226,180,178)" stroke="#cdcdcd" stroke-width="0.8"/>
<rect x="816.92" y="528.80" width="8.84" height="10.50" fill="rgb(226,180,178)" stroke="#cdcdcd" stroke-width="0.8"/>
<rect x="825.76" y="528.80" width="8.84" height="10.50" fill="rgb(226,180,178)" stroke="#cdcdcd" stroke-width="0.8"/>
<rect x="834.59" y="528.80" width="8.84" height="10.50" fill="rgb(220,220,238)" stroke="#cdcdcd" stroke-width="0.8"/>
<rect x="843.43" y="528.80" width="8.84" height="10.50" fill="rgb(102,102,181)" stroke="#cdcdcd" stroke-width="0.8"/>
<rect x="852.27" y="528.80" width="8.84" height="10.50" fill="rgb(180,180,218)" stroke="#cdcdcd" stroke-width="0.8"/>
<rect x="861.10" y="528.80" width="8.84" height="10.50" fill="rgb(180,180,218)" stroke="#cdcdcd" stroke-width="0.8"/>
<rect x="869.94" y="528.80" width="8.84" height="10.50" fill="rgb(0,0,128)" stroke="#cdcdcd" stroke-width="0.8"/>
<rect x="878.78" y="528.80" width="8.84" height="10.50" fill="rgb(0,0,128)" stroke="#cdcdcd" stroke-width="0.8"/>
<rect x="887.61" y="528.80" width="8.84" height="10.50" fill="rgb(102,102,181)" stroke="#cdcdcd" stroke-width="0.8"/>
<rect x="896.45" y="528.80" width="8.84" height="10.50" fill="rgb(220,220,238)" stroke="#cdcdcd" stroke-width="0.8"/>
<rect x="905.29" y="528.80" width="8.84" height="10.50" fill="rgb(180,180,218)" stroke="#cdcdcd" stroke-width="0.8"/>
<rect x="914.12" y="528.80" width="8.84" height="10.50" fill="rgb(238,213,212)" stroke="#cdcdcd" stroke-width="0.8"/>
<rect x="922.96" y="528.80" width="8.84" height="10.50" fill="rgb(252,250,250)" stroke="#cdcdcd" stroke-width="0.8"/>
<rect x="693.20" y="539.30" width="8.84" height="10.50" fill="rgb(220,220,238)" stroke="#cdcdcd" stroke-width="0.8"/>
<rect x="702.04" y="539.30" width="8.84" height="10.50" fill="rgb(180,180,218)" stroke="#cdcdcd" stroke-width="0.8"/>
<rect x="710.87" y="539.30" width="8.84" height="10.50" fill="rgb(102,102,181)" stroke="#cdcdcd" stroke-width="0.8"/>
<rect x="719.71" y="539.30" width="8.84" height="10.50" fill="rgb(140,140,200)" stroke="#cdcdcd" stroke-width="0.8"/>
<rect x="728.55" y="539.30" width="8.84" height="10.50" fill="rgb(0,0,128)" stroke="#cdcdcd" stroke-width="0.8"/>
<rect x="737.38" y="539.30" width="8.84" height="10.50" fill="rgb(0,0,128)" stroke="#cdcdcd" stroke-width="0.8"/>
<rect x="746.22" y="539.30" width="8.84" height="10.50" fill="rgb(252,250,250)" stroke="#cdcdcd" stroke-width="0.8"/>
<rect x="755.06" y="539.30" width="8.84" height="10.50" fill="rgb(220,220,238)" stroke="#cdcdcd" stroke-width="0.8"/>
<rect x="763.90" y="539.30" width="8.84" height="10.50" fill="rgb(0,0,128)" stroke="#cdcdcd" stroke-width="0.8"/>
<rect x="772.73" y="539.30" width="8.84" height="10.50" fill="rgb(180,180,218)" stroke="#cdcdcd" stroke-width="0.8"/>
<rect x="781.57" y="539.30" width="8.84" height="10.50" fill="rgb(236,236,247)" stroke="#cdcdcd" stroke-width="0.8"/>
<rect x="790.41" y="539.30" width="8.84" height="10.50" fill="rgb(226,180,178)" stroke="#cdcdcd" stroke-width="0.8"/>
<rect x="799.24" y="539.30" width="8.84" height="10.50" fill="rgb(202,122,119)" stroke="#cdcdcd" stroke-width="0.8"/>
<rect x="808.08" y="539.30" width="8.84" height="10.50" fill="rgb(213,148,146)" stroke="#cdcdcd" stroke-width="0.8"/>
<rect x="816.92" y="539.30" width="8.84" height="10.50" fill="rgb(226,180,178)" stroke="#cdcdcd" stroke-width="0.8"/>
<rect x="825.76" y="539.30" width="8.84" height="10.50" fill="rgb(226,180,178)" stroke="#cdcdcd" stroke-width="0.8"/>
<rect x="834.59" y="539.30" width="8.84" height="10.50" fill="rgb(238,213,212)" stroke="#cdcdcd" stroke-width="0.8"/>
<rect x="843.43" y="539.30" width="8.84" height="10.50" fill="rgb(102,102,181)" stroke="#cdcdcd" stroke-width="0.8"/>
<rect x="852.27" y="539.30" width="8.84" height="10.50" fill="rgb(0,0,128)" stroke="#cdcdcd" stroke-width="0.8"/>
<rect x="861.10" y="539.30" width="8.84" height="10.50" fill="rgb(180,180,218)" stroke="#cdcdcd" stroke-width="0.8"/>
<rect x="869.94" y="539.30" width="8.84" height="10.50" fill="rgb(0,0,128)" stroke="#cdcdcd" stroke-width="0.8"/>
<rect x="878.78" y="539.30" width="8.84" height="10.50" fill="rgb(0,0,128)" stroke="#cdcdcd" stroke-width="0.8"/>
<rect x="887.61" y="539.30" width="8.84" height="10.50" fill="rgb(102,102,181)" stroke="#cdcdcd" stroke-width="0.8"/>
<rect x="896.45" y="539.30" width="8.84" height="10.50" fill="rgb(220,220,238)" stroke="#cdcdcd" stroke-width="0.8"/>
<rect x="905.29" y="539.30" width="8.84" height="10.50" fill="rgb(252,250,250)" stroke="#cdcdcd" stroke-width="0.8"/>
<rect x="914.12" y="539.30" width="8.84" height="10.50" fill="rgb(202,122,119)" stroke="#cdcdcd" stroke-width="0.8"/>
<rect x="922.96" y="539.30" width="8.84" height="10.50" fill="rgb(140,140,200)" stroke="#cdcdcd" stroke-width="0.8"/>
<rect x="693.20" y="549.80" width="8.84" height="10.50" fill="rgb(213,148,146)" stroke="#cdcdcd" stroke-width="0.8"/>
<rect x="702.04" y="549.80" width="8.84" height="10.50" fill="rgb(202,122,119)" stroke="#cdcdcd" stroke-width="0.8"/>
<rect x="710.87" y="549.80" width="8.84" height="10.50" fill="rgb(213,148,146)" stroke="#cdcdcd" stroke-width="0.8"/>
<rect x="719.71" y="549.80" width="8.84" height="10.50" fill="rgb(213,148,146)" stroke="#cdcdcd" stroke-width="0.8"/>
<rect x="728.55" y="549.80" width="8.84" height="10.50" fill="rgb(140,140,200)" stroke="#cdcdcd" stroke-width="0.8"/>
<rect x="737.38" y="549.80" width="8.84" height="10.50" fill="rgb(252,250,250)" stroke="#cdcdcd" stroke-width="0.8"/>
<rect x="746.22" y="549.80" width="8.84" height="10.50" fill="rgb(202,122,119)" stroke="#cdcdcd" stroke-width="0.8"/>
<rect x="755.06" y="549.80" width="8.84" height="10.50" fill="rgb(202,122,119)" stroke="#cdcdcd" stroke-width="0.8"/>
<rect x="763.90" y="549.80" width="8.84" height="10.50" fill="rgb(252,250,250)" stroke="#cdcdcd" stroke-width="0.8"/>
<rect x="772.73" y="549.80" width="8.84" height="10.50" fill="rgb(238,213,212)" stroke="#cdcdcd" stroke-width="0.8"/>
<rect x="781.57" y="549.80" width="8.84" height="10.50" fill="rgb(213,148,146)" stroke="#cdcdcd" stroke-width="0.8"/>
<rect x="790.41" y="549.80" width="8.84" height="10.50" fill="rgb(238,213,212)" stroke="#cdcdcd" stroke-width="0.8"/>
<rect x="799.24" y="549.80" width="8.84" height="10.50" fill="rgb(226,180,178)" stroke="#cdcdcd" stroke-width="0.8"/>
<rect x="808.08" y="549.80" width="8.84" height="10.50" fill="rgb(226,180,178)" stroke="#cdcdcd" stroke-width="0.8"/>
<rect x="816.92" y="549.80" width="8.84" height="10.50" fill="rgb(213,148,146)" stroke="#cdcdcd" stroke-width="0.8"/>
<rect x="825.76" y="549.80" width="8.84" height="10.50" fill="rgb(213,148,146)" stroke="#cdcdcd" stroke-width="0.8"/>
<rect x="834.59" y="549.80" width="8.84" height="10.50" fill="rgb(180,180,218)" stroke="#cdcdcd" stroke-width="0.8"/>
<rect x="843.43" y="549.80" width="8.84" height="10.50" fill="rgb(0,0,128)" stroke="#cdcdcd" stroke-width="0.8"/>
<rect x="852.27" y="549.80" width="8.84" height="10.50" fill="rgb(0,0,128)" stroke="#cdcdcd" stroke-width="0.8"/>
<rect x="861.10" y="549.80" width="8.84" height="10.50" fill="rgb(102,102,181)" stroke="#cdcdcd" stroke-width="0.8"/>
<rect x="869.94" y="549.80" width="8.84" height="10.50" fill="rgb(140,140,200)" stroke="#cdcdcd" stroke-width="0.8"/>
<rect x="878.78" y="549.80" width="8.84" height="10.50" fill="rgb(0,0,128)" stroke="#cdcdcd" stroke-width="0.8"/>
<rect x="887.61" y="549.80" width="8.84" height="10.50" fill="rgb(0,0,128)" stroke="#cdcdcd" stroke-width="0.8"/>
<rect x="896.45" y="549.80" width="8.84" height="10.50" fill="rgb(0,0,128)" stroke="#cdcdcd" stroke-width="0.8"/>
<rect x="905.29" y="549.80" width="8.84" height="10.50" fill="rgb(140,140,200)" stroke="#cdcdcd" stroke-width="0.8"/>
<rect x="914.12" y="549.80" width="8.84" height="10.50" fill="rgb(0,0,128)" stroke="#cdcdcd" stroke-width="0.8"/>
<rect x="922.96" y="549.80" width="8.84" height="10.50" fill="rgb(220,220,238)" stroke="#cdcdcd" stroke-width="0.8"/>
<rect x="693.20" y="560.30" width="8.84" height="10.50" fill="rgb(202,122,119)" stroke="#cdcdcd" stroke-width="0.8"/>
<rect x="702.04" y="560.30" width="8.84" height="10.50" fill="rgb(202,122,119)" stroke="#cdcdcd" stroke-width="0.8"/>
<rect x="710.87" y="560.30" width="8.84" height="10.50" fill="rgb(213,148,146)" stroke="#cdcdcd" stroke-width="0.8"/>
<rect x="719.71" y="560.30" width="8.84" height="10.50" fill="rgb(202,122,119)" stroke="#cdcdcd" stroke-width="0.8"/>
<rect x="728.55" y="560.30" width="8.84" height="10.50" fill="rgb(180,180,218)" stroke="#cdcdcd" stroke-width="0.8"/>
<rect x="737.38" y="560.30" width="8.84" height="10.50" fill="rgb(226,180,178)" stroke="#cdcdcd" stroke-width="0.8"/>
<rect x="746.22" y="560.30" width="8.84" height="10.50" fill="rgb(213,148,146)" stroke="#cdcdcd" stroke-width="0.8"/>
<rect x="755.06" y="560.30" width="8.84" height="10.50" fill="rgb(213,148,146)" stroke="#cdcdcd" stroke-width="0.8"/>
<rect x="763.90" y="560.30" width="8.84" height="10.50" fill="rgb(220,220,238)" stroke="#cdcdcd" stroke-width="0.8"/>
<rect x="772.73" y="560.30" width="8.84" height="10.50" fill="rgb(220,220,238)" stroke="#cdcdcd" stroke-width="0.8"/>
<rect x="781.57" y="560.30" width="8.84" height="10.50" fill="rgb(238,213,212)" stroke="#cdcdcd" stroke-width="0.8"/>
<rect x="790.41" y="560.30" width="8.84" height="10.50" fill="rgb(226,180,178)" stroke="#cdcdcd" stroke-width="0.8"/>
<rect x="799.24" y="560.30" width="8.84" height="10.50" fill="rgb(213,148,146)" stroke="#cdcdcd" stroke-width="0.8"/>
<rect x="808.08" y="560.30" width="8.84" height="10.50" fill="rgb(213,148,146)" stroke="#cdcdcd" stroke-width="0.8"/>
<rect x="816.92" y="560.30" width="8.84" height="10.50" fill="rgb(213,148,146)" stroke="#cdcdcd" stroke-width="0.8"/>
<rect x="825.76" y="560.30" width="8.84" height="10.50" fill="rgb(226,180,178)" stroke="#cdcdcd" stroke-width="0.8"/>
<rect x="834.59" y="560.30" width="8.84" height="10.50" fill="rgb(180,180,218)" stroke="#cdcdcd" stroke-width="0.8"/>
<rect x="843.43" y="560.30" width="8.84" height="10.50" fill="rgb(0,0,128)" stroke="#cdcdcd" stroke-width="0.8"/>
<rect x="852.27" y="560.30" width="8.84" height="10.50" fill="rgb(0,0,128)" stroke="#cdcdcd" stroke-width="0.8"/>
<rect x="861.10" y="560.30" width="8.84" height="10.50" fill="rgb(140,140,200)" stroke="#cdcdcd" stroke-width="0.8"/>
<rect x="869.94" y="560.30" width="8.84" height="10.50" fill="rgb(180,180,218)" stroke="#cdcdcd" stroke-width="0.8"/>
<rect x="878.78" y="560.30" width="8.84" height="10.50" fill="rgb(0,0,128)" stroke="#cdcdcd" stroke-width="0.8"/>
<rect x="887.61" y="560.30" width="8.84" height="10.50" fill="rgb(140,140,200)" stroke="#cdcdcd" stroke-width="0.8"/>
<rect x="896.45" y="560.30" width="8.84" height="10.50" fill="rgb(102,102,181)" stroke="#cdcdcd" stroke-width="0.8"/>
<rect x="905.29" y="560.30" width="8.84" height="10.50" fill="rgb(236,236,247)" stroke="#cdcdcd" stroke-width="0.8"/>
<rect x="914.12" y="560.30" width="8.84" height="10.50" fill="rgb(0,0,128)" stroke="#cdcdcd" stroke-width="0.8"/>
<rect x="922.96" y="560.30" width="8.84" height="10.50" fill="rgb(244,230,228)" stroke="#cdcdcd" stroke-width="0.8"/>
<rect x="693.20" y="570.80" width="8.84" height="10.50" fill="rgb(202,122,119)" stroke="#cdcdcd" stroke-width="0.8"/>
<rect x="702.04" y="570.80" width="8.84" height="10.50" fill="rgb(202,122,119)" stroke="#cdcdcd" stroke-width="0.8"/>
<rect x="710.87" y="570.80" width="8.84" height="10.50" fill="rgb(213,148,146)" stroke="#cdcdcd" stroke-width="0.8"/>
<rect x="719.71" y="570.80" width="8.84" height="10.50" fill="rgb(213,148,146)" stroke="#cdcdcd" stroke-width="0.8"/>
<rect x="728.55" y="570.80" width="8.84" height="10.50" fill="rgb(180,180,218)" stroke="#cdcdcd" stroke-width="0.8"/>
<rect x="737.38" y="570.80" width="8.84" height="10.50" fill="rgb(238,213,212)" stroke="#cdcdcd" stroke-width="0.8"/>
<rect x="746.22" y="570.80" width="8.84" height="10.50" fill="rgb(238,213,212)" stroke="#cdcdcd" stroke-width="0.8"/>
<rect x="755.06" y="570.80" width="8.84" height="10.50" fill="rgb(238,213,212)" stroke="#cdcdcd" stroke-width="0.8"/>
<rect x="763.90" y="570.80" width="8.84" height="10.50" fill="rgb(102,102,181)" stroke="#cdcdcd" stroke-width="0.8"/>
<rect x="772.73" y="570.80" width="8.84" height="10.50" fill="rgb(180,180,218)" stroke="#cdcdcd" stroke-width="0.8"/>
<rect x="781.57" y="570.80" width="8.84" height="10.50" fill="rgb(252,250,250)" stroke="#cdcdcd" stroke-width="0.8"/>
<rect x="790.41" y="570.80" width="8.84" height="10.50" fill="rgb(244,230,228)" stroke="#cdcdcd" stroke-width="0.8"/>
<rect x="799.24" y="570.80" width="8.84" height="10.50" fill="rgb(226,180,178)" stroke="#cdcdcd" stroke-width="0.8"/>
<rect x="808.08" y="570.80" width="8.84" height="10.50" fill="rgb(226,180,178)" stroke="#cdcdcd" stroke-width="0.8"/>
<rect x="816.92" y="570.80" width="8.84" height="10.50" fill="rgb(226,180,178)" stroke="#cdcdcd" stroke-width="0.8"/>
<rect x="825.76" y="570.80" width="8.84" height="10.50" fill="rgb(226,180,178)" stroke="#cdcdcd" stroke-width="0.8"/>
<rect x="834.59" y="570.80" width="8.84" height="10.50" fill="rgb(180,180,218)" stroke="#cdcdcd" stroke-width="0.8"/>
<rect x="843.43" y="570.80" width="8.84" height="10.50" fill="rgb(0,0,128)" stroke="#cdcdcd" stroke-width="0.8"/>
<rect x="852.27" y="570.80" width="8.84" height="10.50" fill="rgb(0,0,128)" stroke="#cdcdcd" stroke-width="0.8"/>
<rect x="861.10" y="570.80" width="8.84" height="10.50" fill="rgb(102,102,181)" stroke="#cdcdcd" stroke-width="0.8"/>
<rect x="869.94" y="570.80" width="8.84" height="10.50" fill="rgb(0,0,128)" stroke="#cdcdcd" stroke-width="0.8"/>
<rect x="878.78" y="570.80" width="8.84" height="10.50" fill="rgb(0,0,128)" stroke="#cdcdcd" stroke-width="0.8"/>
<rect x="887.61" y="570.80" width="8.84" height="10.50" fill="rgb(0,0,128)" stroke="#cdcdcd" stroke-width="0.8"/>
<rect x="896.45" y="570.80" width="8.84" height="10.50" fill="rgb(180,180,218)" stroke="#cdcdcd" stroke-width="0.8"/>
<rect x="905.29" y="570.80" width="8.84" height="10.50" fill="rgb(252,250,250)" stroke="#cdcdcd" stroke-width="0.8"/>
<rect x="914.12" y="570.80" width="8.84" height="10.50" fill="rgb(252,250,250)" stroke="#cdcdcd" stroke-width="0.8"/>
<rect x="922.96" y="570.80" width="8.84" height="10.50" fill="rgb(220,220,238)" stroke="#cdcdcd" stroke-width="0.8"/>
<rect x="693.20" y="581.30" width="8.84" height="10.50" fill="rgb(213,148,146)" stroke="#cdcdcd" stroke-width="0.8"/>
<rect x="702.04" y="581.30" width="8.84" height="10.50" fill="rgb(213,148,146)" stroke="#cdcdcd" stroke-width="0.8"/>
<rect x="710.87" y="581.30" width="8.84" height="10.50" fill="rgb(213,148,146)" stroke="#cdcdcd" stroke-width="0.8"/>
<rect x="719.71" y="581.30" width="8.84" height="10.50" fill="rgb(213,148,146)" stroke="#cdcdcd" stroke-width="0.8"/>
<rect x="728.55" y="581.30" width="8.84" height="10.50" fill="rgb(202,122,119)" stroke="#cdcdcd" stroke-width="0.8"/>
<rect x="737.38" y="581.30" width="8.84" height="10.50" fill="rgb(202,122,119)" stroke="#cdcdcd" stroke-width="0.8"/>
<rect x="746.22" y="581.30" width="8.84" height="10.50" fill="rgb(213,148,146)" stroke="#cdcdcd" stroke-width="0.8"/>
<rect x="755.06" y="581.30" width="8.84" height="10.50" fill="rgb(213,148,146)" stroke="#cdcdcd" stroke-width="0.8"/>
<rect x="763.90" y="581.30" width="8.84" height="10.50" fill="rgb(226,180,178)" stroke="#cdcdcd" stroke-width="0.8"/>
<rect x="772.73" y="581.30" width="8.84" height="10.50" fill="rgb(238,213,212)" stroke="#cdcdcd" stroke-width="0.8"/>
<rect x="781.57" y="581.30" width="8.84" height="10.50" fill="rgb(226,180,178)" stroke="#cdcdcd" stroke-width="0.8"/>
<rect x="790.41" y="581.30" width="8.84" height="10.50" fill="rgb(188,86,82)" stroke="#cdcdcd" stroke-width="0.8"/>
<rect x="799.24" y="581.30" width="8.84" height="10.50" fill="rgb(213,148,146)" stroke="#cdcdcd" stroke-width="0.8"/>
<rect x="808.08" y="581.30" width="8.84" height="10.50" fill="rgb(202,122,119)" stroke="#cdcdcd" stroke-width="0.8"/>
<rect x="816.92" y="581.30" width="8.84" height="10.50" fill="rgb(213,148,146)" stroke="#cdcdcd" stroke-width="0.8"/>
<rect x="825.76" y="581.30" width="8.84" height="10.50" fill="rgb(213,148,146)" stroke="#cdcdcd" stroke-width="0.8"/>
<rect x="834.59" y="581.30" width="8.84" height="10.50" fill="rgb(102,102,181)" stroke="#cdcdcd" stroke-width="0.8"/>
<rect x="843.43" y="581.30" width="8.84" height="10.50" fill="rgb(102,102,181)" stroke="#cdcdcd" stroke-width="0.8"/>
<rect x="852.27" y="581.30" width="8.84" height="10.50" fill="rgb(238,213,212)" stroke="#cdcdcd" stroke-width="0.8"/>
<rect x="861.10" y="581.30" width="8.84" height="10.50" fill="rgb(252,250,250)" stroke="#cdcdcd" stroke-width="0.8"/>
<rect x="869.94" y="581.30" width="8.84" height="10.50" fill="rgb(238,213,212)" stroke="#cdcdcd" stroke-width="0.8"/>
<rect x="878.78" y="581.30" width="8.84" height="10.50" fill="rgb(0,0,128)" stroke="#cdcdcd" stroke-width="0.8"/>
<rect x="887.61" y="581.30" width="8.84" height="10.50" fill="rgb(236,236,247)" stroke="#cdcdcd" stroke-width="0.8"/>
<rect x="896.45" y="581.30" width="8.84" height="10.50" fill="rgb(0,0,128)" stroke="#cdcdcd" stroke-width="0.8"/>
<rect x="905.29" y="581.30" width="8.84" height="10.50" fill="rgb(252,250,250)" stroke="#cdcdcd" stroke-width="0.8"/>
<rect x="914.12" y="581.30" width="8.84" height="10.50" fill="rgb(102,102,181)" stroke="#cdcdcd" stroke-width="0.8"/>
<rect x="922.96" y="581.30" width="8.84" height="10.50" fill="rgb(226,180,178)" stroke="#cdcdcd" stroke-width="0.8"/>
<rect x="693.20" y="591.80" width="8.84" height="10.50" fill="rgb(213,148,146)" stroke="#cdcdcd" stroke-width="0.8"/>
<rect x="702.04" y="591.80" width="8.84" height="10.50" fill="rgb(213,148,146)" stroke="#cdcdcd" stroke-width="0.8"/>
<rect x="710.87" y="591.80" width="8.84" height="10.50" fill="rgb(213,148,146)" stroke="#cdcdcd" stroke-width="0.8"/>
<rect x="719.71" y="591.80" width="8.84" height="10.50" fill="rgb(213,148,146)" stroke="#cdcdcd" stroke-width="0.8"/>
<rect x="728.55" y="591.80" width="8.84" height="10.50" fill="rgb(238,213,212)" stroke="#cdcdcd" stroke-width="0.8"/>
<rect x="737.38" y="591.80" width="8.84" height="10.50" fill="rgb(226,180,178)" stroke="#cdcdcd" stroke-width="0.8"/>
<rect x="746.22" y="591.80" width="8.84" height="10.50" fill="rgb(236,236,247)" stroke="#cdcdcd" stroke-width="0.8"/>
<rect x="755.06" y="591.80" width="8.84" height="10.50" fill="rgb(220,220,238)" stroke="#cdcdcd" stroke-width="0.8"/>
<rect x="763.90" y="591.80" width="8.84" height="10.50" fill="rgb(140,140,200)" stroke="#cdcdcd" stroke-width="0.8"/>
<rect x="772.73" y="591.80" width="8.84" height="10.50" fill="rgb(180,180,218)" stroke="#cdcdcd" stroke-width="0.8"/>
<rect x="781.57" y="591.80" width="8.84" height="10.50" fill="rgb(236,236,247)" stroke="#cdcdcd" stroke-width="0.8"/>
<rect x="790.41" y="591.80" width="8.84" height="10.50" fill="rgb(213,148,146)" stroke="#cdcdcd" stroke-width="0.8"/>
<rect x="799.24" y="591.80" width="8.84" height="10.50" fill="rgb(202,122,119)" stroke="#cdcdcd" stroke-width="0.8"/>
<rect x="808.08" y="591.80" width="8.84" height="10.50" fill="rgb(213,148,146)" stroke="#cdcdcd" stroke-width="0.8"/>
<rect x="816.92" y="591.80" width="8.84" height="10.50" fill="rgb(213,148,146)" stroke="#cdcdcd" stroke-width="0.8"/>
<rect x="825.76" y="591.80" width="8.84" height="10.50" fill="rgb(213,148,146)" stroke="#cdcdcd" stroke-width="0.8"/>
<rect x="834.59" y="591.80" width="8.84" height="10.50" fill="rgb(0,0,128)" stroke="#cdcdcd" stroke-width="0.8"/>
<rect x="843.43" y="591.80" width="8.84" height="10.50" fill="rgb(0,0,128)" stroke="#cdcdcd" stroke-width="0.8"/>
<rect x="852.27" y="591.80" width="8.84" height="10.50" fill="rgb(0,0,128)" stroke="#cdcdcd" stroke-width="0.8"/>
<rect x="861.10" y="591.80" width="8.84" height="10.50" fill="rgb(140,140,200)" stroke="#cdcdcd" stroke-width="0.8"/>
<rect x="869.94" y="591.80" width="8.84" height="10.50" fill="rgb(180,180,218)" stroke="#cdcdcd" stroke-width="0.8"/>
<rect x="878.78" y="591.80" width="8.84" height="10.50" fill="rgb(0,0,128)" stroke="#cdcdcd" stroke-width="0.8"/>
<rect x="887.61" y="591.80" width="8.84" height="10.50" fill="rgb(140,140,200)" stroke="#cdcdcd" stroke-width="0.8"/>
<rect x="896.45" y="591.80" width="8.84" height="10.50" fill="rgb(0,0,128)" stroke="#cdcdcd" stroke-width="0.8"/>
<rect x="905.29" y="591.80" width="8.84" height="10.50" fill="rgb(252,250,250)" stroke="#cdcdcd" stroke-width="0.8"/>
<rect x="914.12" y="591.80" width="8.84" height="10.50" fill="rgb(0,0,128)" stroke="#cdcdcd" stroke-width="0.8"/>
<rect x="922.96" y="591.80" width="8.84" height="10.50" fill="rgb(180,180,218)" stroke="#cdcdcd" stroke-width="0.8"/>
<rect x="693.20" y="602.30" width="8.84" height="10.50" fill="rgb(202,122,119)" stroke="#cdcdcd" stroke-width="0.8"/>
<rect x="702.04" y="602.30" width="8.84" height="10.50" fill="rgb(202,122,119)" stroke="#cdcdcd" stroke-width="0.8"/>
<rect x="710.87" y="602.30" width="8.84" height="10.50" fill="rgb(238,213,212)" stroke="#cdcdcd" stroke-width="0.8"/>
<rect x="719.71" y="602.30" width="8.84" height="10.50" fill="rgb(213,148,146)" stroke="#cdcdcd" stroke-width="0.8"/>
<rect x="728.55" y="602.30" width="8.84" height="10.50" fill="rgb(140,140,200)" stroke="#cdcdcd" stroke-width="0.8"/>
<rect x="737.38" y="602.30" width="8.84" height="10.50" fill="rgb(220,220,238)" stroke="#cdcdcd" stroke-width="0.8"/>
<rect x="746.22" y="602.30" width="8.84" height="10.50" fill="rgb(202,122,119)" stroke="#cdcdcd" stroke-width="0.8"/>
<rect x="755.06" y="602.30" width="8.84" height="10.50" fill="rgb(202,122,119)" stroke="#cdcdcd" stroke-width="0.8"/>
<rect x="763.90" y="602.30" width="8.84" height="10.50" fill="rgb(180,180,218)" stroke="#cdcdcd" stroke-width="0.8"/>
<rect x="772.73" y="602.30" width="8.84" height="10.50" fill="rgb(244,230,228)" stroke="#cdcdcd" stroke-width="0.8"/>
<rect x="781.57" y="602.30" width="8.84" height="10.50" fill="rgb(226,180,178)" stroke="#cdcdcd" stroke-width="0.8"/>
<rect x="790.41" y="602.30" width="8.84" height="10.50" fill="rgb(238,213,212)" stroke="#cdcdcd" stroke-width="0.8"/>
<rect x="799.24" y="602.30" width="8.84" height="10.50" fill="rgb(226,180,178)" stroke="#cdcdcd" stroke-width="0.8"/>
<rect x="808.08" y="602.30" width="8.84" height="10.50" fill="rgb(202,122,119)" stroke="#cdcdcd" stroke-width="0.8"/>
<rect x="816.92" y="602.30" width="8.84" height="10.50" fill="rgb(202,122,119)" stroke="#cdcdcd" stroke-width="0.8"/>
<rect x="825.76" y="602.30" width="8.84" height="10.50" fill="rgb(188,86,82)" stroke="#cdcdcd" stroke-width="0.8"/>
<rect x="834.59" y="602.30" width="8.84" height="10.50" fill="rgb(244,230,228)" stroke="#cdcdcd" stroke-width="0.8"/>
<rect x="843.43" y="602.30" width="8.84" height="10.50" fill="rgb(140,140,200)" stroke="#cdcdcd" stroke-width="0.8"/>
<rect x="852.27" y="602.30" width="8.84" height="10.50" fill="rgb(0,0,128)" stroke="#cdcdcd" stroke-width="0.8"/>
<rect x="861.10" y="602.30" width="8.84" height="10.50" fill="rgb(102,102,181)" stroke="#cdcdcd" stroke-width="0.8"/>
<rect x="869.94" y="602.30" width="8.84" height="10.50" fill="rgb(180,180,218)" stroke="#cdcdcd" stroke-width="0.8"/>
<rect x="878.78" y="602.30" width="8.84" height="10.50" fill="rgb(0,0,128)" stroke="#cdcdcd" stroke-width="0.8"/>
<rect x="887.61" y="602.30" width="8.84" height="10.50" fill="rgb(0,0,128)" stroke="#cdcdcd" stroke-width="0.8"/>
<rect x="896.45" y="602.30" width="8.84" height="10.50" fill="rgb(244,230,228)" stroke="#cdcdcd" stroke-width="0.8"/>
<rect x="905.29" y="602.30" width="8.84" height="10.50" fill="rgb(226,180,178)" stroke="#cdcdcd" stroke-width="0.8"/>
<rect x="914.12" y="602.30" width="8.84" height="10.50" fill="rgb(202,122,119)" stroke="#cdcdcd" stroke-width="0.8"/>
<rect x="922.96" y="602.30" width="8.84" height="10.50" fill="rgb(213,148,146)" stroke="#cdcdcd" stroke-width="0.8"/>
<rect x="693.20" y="612.80" width="8.84" height="10.50" fill="rgb(226,180,178)" stroke="#cdcdcd" stroke-width="0.8"/>
<rect x="702.04" y="612.80" width="8.84" height="10.50" fill="rgb(226,180,178)" stroke="#cdcdcd" stroke-width="0.8"/>
<rect x="710.87" y="612.80" width="8.84" height="10.50" fill="rgb(238,213,212)" stroke="#cdcdcd" stroke-width="0.8"/>
<rect x="719.71" y="612.80" width="8.84" height="10.50" fill="rgb(226,180,178)" stroke="#cdcdcd" stroke-width="0.8"/>
<rect x="728.55" y="612.80" width="8.84" height="10.50" fill="rgb(220,220,238)" stroke="#cdcdcd" stroke-width="0.8"/>
<rect x="737.38" y="612.80" width="8.84" height="10.50" fill="rgb(238,213,212)" stroke="#cdcdcd" stroke-width="0.8"/>
<rect x="746.22" y="612.80" width="8.84" height="10.50" fill="rgb(238,213,212)" stroke="#cdcdcd" stroke-width="0.8"/>
<rect x="755.06" y="612.80" width="8.84" height="10.50" fill="rgb(238,213,212)" stroke="#cdcdcd" stroke-width="0.8"/>
<rect x="763.90" y="612.80" width="8.84" height="10.50" fill="rgb(252,250,250)" stroke="#cdcdcd" stroke-width="0.8"/>
<rect x="772.73" y="612.80" width="8.84" height="10.50" fill="rgb(244,230,228)" stroke="#cdcdcd" stroke-width="0.8"/>
<rect x="781.57" y="612.80" width="8.84" height="10.50" fill="rgb(244,230,228)" stroke="#cdcdcd" stroke-width="0.8"/>
<rect x="790.41" y="612.80" width="8.84" height="10.50" fill="rgb(188,86,82)" stroke="#cdcdcd" stroke-width="0.8"/>
<rect x="799.24" y="612.80" width="8.84" height="10.50" fill="rgb(188,86,82)" stroke="#cdcdcd" stroke-width="0.8"/>
<rect x="808.08" y="612.80" width="8.84" height="10.50" fill="rgb(188,86,82)" stroke="#cdcdcd" stroke-width="0.8"/>
<rect x="816.92" y="612.80" width="8.84" height="10.50" fill="rgb(202,122,119)" stroke="#cdcdcd" stroke-width="0.8"/>
<rect x="825.76" y="612.80" width="8.84" height="10.50" fill="rgb(202,122,119)" stroke="#cdcdcd" stroke-width="0.8"/>
<rect x="834.59" y="612.80" width="8.84" height="10.50" fill="rgb(180,180,218)" stroke="#cdcdcd" stroke-width="0.8"/>
<rect x="843.43" y="612.80" width="8.84" height="10.50" fill="rgb(236,236,247)" stroke="#cdcdcd" stroke-width="0.8"/>
<rect x="852.27" y="612.80" width="8.84" height="10.50" fill="rgb(140,140,200)" stroke="#cdcdcd" stroke-width="0.8"/>
<rect x="861.10" y="612.80" width="8.84" height="10.50" fill="rgb(140,140,200)" stroke="#cdcdcd" stroke-width="0.8"/>
<rect x="869.94" y="612.80" width="8.84" height="10.50" fill="rgb(252,250,250)" stroke="#cdcdcd" stroke-width="0.8"/>
<rect x="878.78" y="612.80" width="8.84" height="10.50" fill="rgb(0,0,128)" stroke="#cdcdcd" stroke-width="0.8"/>
<rect x="887.61" y="612.80" width="8.84" height="10.50" fill="rgb(140,140,200)" stroke="#cdcdcd" stroke-width="0.8"/>
<rect x="896.45" y="612.80" width="8.84" height="10.50" fill="rgb(220,220,238)" stroke="#cdcdcd" stroke-width="0.8"/>
<rect x="905.29" y="612.80" width="8.84" height="10.50" fill="rgb(213,148,146)" stroke="#cdcdcd" stroke-width="0.8"/>
<rect x="914.12" y="612.80" width="8.84" height="10.50" fill="rgb(236,236,247)" stroke="#cdcdcd" stroke-width="0.8"/>
<rect x="922.96" y="612.80" width="8.84" height="10.50" fill="rgb(244,230,228)" stroke="#cdcdcd" stroke-width="0.8"/>
<rect x="693.20" y="623.30" width="8.84" height="10.50" fill="rgb(226,180,178)" stroke="#cdcdcd" stroke-width="0.8"/>
<rect x="702.04" y="623.30" width="8.84" height="10.50" fill="rgb(226,180,178)" stroke="#cdcdcd" stroke-width="0.8"/>
<rect x="710.87" y="623.30" width="8.84" height="10.50" fill="rgb(226,180,178)" stroke="#cdcdcd" stroke-width="0.8"/>
<rect x="719.71" y="623.30" width="8.84" height="10.50" fill="rgb(226,180,178)" stroke="#cdcdcd" stroke-width="0.8"/>
<rect x="728.55" y="623.30" width="8.84" height="10.50" fill="rgb(202,122,119)" stroke="#cdcdcd" stroke-width="0.8"/>
<rect x="737.38" y="623.30" width="8.84" height="10.50" fill="rgb(213,148,146)" stroke="#cdcdcd" stroke-width="0.8"/>
<rect x="746.22" y="623.30" width="8.84" height="10.50" fill="rgb(213,148,146)" stroke="#cdcdcd" stroke-width="0.8"/>
<rect x="755.06" y="623.30" width="8.84" height="10.50" fill="rgb(213,148,146)" stroke="#cdcdcd" stroke-width="0.8"/>
<rect x="763.90" y="623.30" width="8.84" height="10.50" fill="rgb(213,148,146)" stroke="#cdcdcd" stroke-width="0.8"/>
<rect x="772.73" y="623.30" width="8.84" height="10.50" fill="rgb(226,180,178)" stroke="#cdcdcd" stroke-width="0.8"/>
<rect x="781.57" y="623.30" width="8.84" height="10.50" fill="rgb(226,180,178)" stroke="#cdcdcd" stroke-width="0.8"/>
<rect x="790.41" y="623.30" width="8.84" height="10.50" fill="rgb(226,180,178)" stroke="#cdcdcd" stroke-width="0.8"/>
<rect x="799.24" y="623.30" width="8.84" height="10.50" fill="rgb(226,180,178)" stroke="#cdcdcd" stroke-width="0.8"/>
<rect x="808.08" y="623.30" width="8.84" height="10.50" fill="rgb(226,180,178)" stroke="#cdcdcd" stroke-width="0.8"/>
<rect x="816.92" y="623.30" width="8.84" height="10.50" fill="rgb(226,180,178)" stroke="#cdcdcd" stroke-width="0.8"/>
<rect x="825.76" y="623.30" width="8.84" height="10.50" fill="rgb(238,213,212)" stroke="#cdcdcd" stroke-width="0.8"/>
<rect x="834.59" y="623.30" width="8.84" height="10.50" fill="rgb(170,50,45)" stroke="#cdcdcd" stroke-width="0.8"/>
<rect x="843.43" y="623.30" width="8.84" height="10.50" fill="rgb(170,50,45)" stroke="#cdcdcd" stroke-width="0.8"/>
<rect x="852.27" y="623.30" width="8.84" height="10.50" fill="rgb(188,86,82)" stroke="#cdcdcd" stroke-width="0.8"/>
<rect x="861.10" y="623.30" width="8.84" height="10.50" fill="rgb(170,50,45)" stroke="#cdcdcd" stroke-width="0.8"/>
<rect x="869.94" y="623.30" width="8.84" height="10.50" fill="rgb(188,86,82)" stroke="#cdcdcd" stroke-width="0.8"/>
<rect x="878.78" y="623.30" width="8.84" height="10.50" fill="rgb(188,86,82)" stroke="#cdcdcd" stroke-width="0.8"/>
<rect x="887.61" y="623.30" width="8.84" height="10.50" fill="rgb(188,86,82)" stroke="#cdcdcd" stroke-width="0.8"/>
<rect x="896.45" y="623.30" width="8.84" height="10.50" fill="rgb(188,86,82)" stroke="#cdcdcd" stroke-width="0.8"/>
<rect x="905.29" y="623.30" width="8.84" height="10.50" fill="rgb(188,86,82)" stroke="#cdcdcd" stroke-width="0.8"/>
<rect x="914.12" y="623.30" width="8.84" height="10.50" fill="rgb(226,180,178)" stroke="#cdcdcd" stroke-width="0.8"/>
<rect x="922.96" y="623.30" width="8.84" height="10.50" fill="rgb(238,213,212)" stroke="#cdcdcd" stroke-width="0.8"/>
<rect x="693.20" y="633.80" width="8.84" height="10.50" fill="rgb(220,220,238)" stroke="#cdcdcd" stroke-width="0.8"/>
<rect x="702.04" y="633.80" width="8.84" height="10.50" fill="rgb(252,250,250)" stroke="#cdcdcd" stroke-width="0.8"/>
<rect x="710.87" y="633.80" width="8.84" height="10.50" fill="rgb(252,250,250)" stroke="#cdcdcd" stroke-width="0.8"/>
<rect x="719.71" y="633.80" width="8.84" height="10.50" fill="rgb(252,250,250)" stroke="#cdcdcd" stroke-width="0.8"/>
<rect x="728.55" y="633.80" width="8.84" height="10.50" fill="rgb(202,122,119)" stroke="#cdcdcd" stroke-width="0.8"/>
<rect x="737.38" y="633.80" width="8.84" height="10.50" fill="rgb(238,213,212)" stroke="#cdcdcd" stroke-width="0.8"/>
<rect x="746.22" y="633.80" width="8.84" height="10.50" fill="rgb(238,213,212)" stroke="#cdcdcd" stroke-width="0.8"/>
<rect x="755.06" y="633.80" width="8.84" height="10.50" fill="rgb(238,213,212)" stroke="#cdcdcd" stroke-width="0.8"/>
<rect x="763.90" y="633.80" width="8.84" height="10.50" fill="rgb(226,180,178)" stroke="#cdcdcd" stroke-width="0.8"/>
<rect x="772.73" y="633.80" width="8.84" height="10.50" fill="rgb(238,213,212)" stroke="#cdcdcd" stroke-width="0.8"/>
<rect x="781.57" y="633.80" width="8.84" height="10.50" fill="rgb(244,230,228)" stroke="#cdcdcd" stroke-width="0.8"/>
<rect x="790.41" y="633.80" width="8.84" height="10.50" fill="rgb(202,122,119)" stroke="#cdcdcd" stroke-width="0.8"/>
<rect x="799.24" y="633.80" width="8.84" height="10.50" fill="rgb(226,180,178)" stroke="#cdcdcd" stroke-width="0.8"/>
<rect x="808.08" y="633.80" width="8.84" height="10.50" fill="rgb(238,213,212)" stroke="#cdcdcd" stroke-width="0.8"/>
<rect x="816.92" y="633.80" width="8.84" height="10.50" fill="rgb(244,230,228)" stroke="#cdcdcd" stroke-width="0.8"/>
<rect x="825.76" y="633.80" width="8.84" height="10.50" fill="rgb(252,250,250)" stroke="#cdcdcd" stroke-width="0.8"/>
<rect x="834.59" y="633.80" width="8.84" height="10.50" fill="rgb(188,86,82)" stroke="#cdcdcd" stroke-width="0.8"/>
<rect x="843.43" y="633.80" width="8.84" height="10.50" fill="rgb(140,140,200)" stroke="#cdcdcd" stroke-width="0.8"/>
<rect x="852.27" y="633.80" width="8.84" height="10.50" fill="rgb(188,86,82)" stroke="#cdcdcd" stroke-width="0.8"/>
<rect x="861.10" y="633.80" width="8.84" height="10.50" fill="rgb(188,86,82)" stroke="#cdcdcd" stroke-width="0.8"/>
<rect x="869.94" y="633.80" width="8.84" height="10.50" fill="rgb(202,122,119)" stroke="#cdcdcd" stroke-width="0.8"/>
<rect x="878.78" y="633.80" width="8.84" height="10.50" fill="rgb(188,86,82)" stroke="#cdcdcd" stroke-width="0.8"/>
<rect x="887.61" y="633.80" width="8.84" height="10.50" fill="rgb(188,86,82)" stroke="#cdcdcd" stroke-width="0.8"/>
<rect x="896.45" y="633.80" width="8.84" height="10.50" fill="rgb(170,50,45)" stroke="#cdcdcd" stroke-width="0.8"/>
<rect x="905.29" y="633.80" width="8.84" height="10.50" fill="rgb(188,86,82)" stroke="#cdcdcd" stroke-width="0.8"/>
<rect x="914.12" y="633.80" width="8.84" height="10.50" fill="rgb(180,180,218)" stroke="#cdcdcd" stroke-width="0.8"/>
<rect x="922.96" y="633.80" width="8.84" height="10.50" fill="rgb(102,102,181)" stroke="#cdcdcd" stroke-width="0.8"/>
<rect x="693.20" y="644.30" width="8.84" height="10.50" fill="rgb(188,86,82)" stroke="#cdcdcd" stroke-width="0.8"/>
<rect x="702.04" y="644.30" width="8.84" height="10.50" fill="rgb(188,86,82)" stroke="#cdcdcd" stroke-width="0.8"/>
<rect x="710.87" y="644.30" width="8.84" height="10.50" fill="rgb(188,86,82)" stroke="#cdcdcd" stroke-width="0.8"/>
<rect x="719.71" y="644.30" width="8.84" height="10.50" fill="rgb(188,86,82)" stroke="#cdcdcd" stroke-width="0.8"/>
<rect x="728.55" y="644.30" width="8.84" height="10.50" fill="rgb(170,50,45)" stroke="#cdcdcd" stroke-width="0.8"/>
<rect x="737.38" y="644.30" width="8.84" height="10.50" fill="rgb(170,50,45)" stroke="#cdcdcd" stroke-width="0.8"/>
<rect x="746.22" y="644.30" width="8.84" height="10.50" fill="rgb(238,213,212)" stroke="#cdcdcd" stroke-width="0.8"/>
<rect x="755.06" y="644.30" width="8.84" height="10.50" fill="rgb(238,213,212)" stroke="#cdcdcd" stroke-width="0.8"/>
<rect x="763.90" y="644.30" width="8.84" height="10.50" fill="rgb(226,180,178)" stroke="#cdcdcd" stroke-width="0.8"/>
<rect x="772.73" y="644.30" width="8.84" height="10.50" fill="rgb(226,180,178)" stroke="#cdcdcd" stroke-width="0.8"/>
<rect x="781.57" y="644.30" width="8.84" height="10.50" fill="rgb(226,180,178)" stroke="#cdcdcd" stroke-width="0.8"/>
<rect x="790.41" y="644.30" width="8.84" height="10.50" fill="rgb(213,148,146)" stroke="#cdcdcd" stroke-width="0.8"/>
<rect x="799.24" y="644.30" width="8.84" height="10.50" fill="rgb(226,180,178)" stroke="#cdcdcd" stroke-width="0.8"/>
<rect x="808.08" y="644.30" width="8.84" height="10.50" fill="rgb(213,148,146)" stroke="#cdcdcd" stroke-width="0.8"/>
<rect x="816.92" y="644.30" width="8.84" height="10.50" fill="rgb(226,180,178)" stroke="#cdcdcd" stroke-width="0.8"/>
<rect x="825.76" y="644.30" width="8.84" height="10.50" fill="rgb(226,180,178)" stroke="#cdcdcd" stroke-width="0.8"/>
<rect x="834.59" y="644.30" width="8.84" height="10.50" fill="rgb(140,140,200)" stroke="#cdcdcd" stroke-width="0.8"/>
<rect x="843.43" y="644.30" width="8.84" height="10.50" fill="rgb(102,102,181)" stroke="#cdcdcd" stroke-width="0.8"/>
<rect x="852.27" y="644.30" width="8.84" height="10.50" fill="rgb(202,122,119)" stroke="#cdcdcd" stroke-width="0.8"/>
<rect x="861.10" y="644.30" width="8.84" height="10.50" fill="rgb(202,122,119)" stroke="#cdcdcd" stroke-width="0.8"/>
<rect x="869.94" y="644.30" width="8.84" height="10.50" fill="rgb(202,122,119)" stroke="#cdcdcd" stroke-width="0.8"/>
<rect x="878.78" y="644.30" width="8.84" height="10.50" fill="rgb(238,213,212)" stroke="#cdcdcd" stroke-width="0.8"/>
<rect x="887.61" y="644.30" width="8.84" height="10.50" fill="rgb(238,213,212)" stroke="#cdcdcd" stroke-width="0.8"/>
<rect x="896.45" y="644.30" width="8.84" height="10.50" fill="rgb(140,140,200)" stroke="#cdcdcd" stroke-width="0.8"/>
<rect x="905.29" y="644.30" width="8.84" height="10.50" fill="rgb(226,180,178)" stroke="#cdcdcd" stroke-width="0.8"/>
<rect x="914.12" y="644.30" width="8.84" height="10.50" fill="rgb(0,0,128)" stroke="#cdcdcd" stroke-width="0.8"/>
<rect x="922.96" y="644.30" width="8.84" height="10.50" fill="rgb(140,140,200)" stroke="#cdcdcd" stroke-width="0.8"/>
<rect x="693.20" y="654.80" width="8.84" height="10.50" fill="rgb(238,213,212)" stroke="#cdcdcd" stroke-width="0.8"/>
<rect x="702.04" y="654.80" width="8.84" height="10.50" fill="rgb(238,213,212)" stroke="#cdcdcd" stroke-width="0.8"/>
<rect x="710.87" y="654.80" width="8.84" height="10.50" fill="rgb(238,213,212)" stroke="#cdcdcd" stroke-width="0.8"/>
<rect x="719.71" y="654.80" width="8.84" height="10.50" fill="rgb(226,180,178)" stroke="#cdcdcd" stroke-width="0.8"/>
<rect x="728.55" y="654.80" width="8.84" height="10.50" fill="rgb(202,122,119)" stroke="#cdcdcd" stroke-width="0.8"/>
<rect x="737.38" y="654.80" width="8.84" height="10.50" fill="rgb(226,180,178)" stroke="#cdcdcd" stroke-width="0.8"/>
<rect x="746.22" y="654.80" width="8.84" height="10.50" fill="rgb(238,213,212)" stroke="#cdcdcd" stroke-width="0.8"/>
<rect x="755.06" y="654.80" width="8.84" height="10.50" fill="rgb(238,213,212)" stroke="#cdcdcd" stroke-width="0.8"/>
<rect x="763.90" y="654.80" width="8.84" height="10.50" fill="rgb(213,148,146)" stroke="#cdcdcd" stroke-width="0.8"/>
<rect x="772.73" y="654.80" width="8.84" height="10.50" fill="rgb(244,230,228)" stroke="#cdcdcd" stroke-width="0.8"/>
<rect x="781.57" y="654.80" width="8.84" height="10.50" fill="rgb(252,250,250)" stroke="#cdcdcd" stroke-width="0.8"/>
<rect x="790.41" y="654.80" width="8.84" height="10.50" fill="rgb(213,148,146)" stroke="#cdcdcd" stroke-width="0.8"/>
<rect x="799.24" y="654.80" width="8.84" height="10.50" fill="rgb(238,213,212)" stroke="#cdcdcd" stroke-width="0.8"/>
<rect x="808.08" y="654.80" width="8.84" height="10.50" fill="rgb(238,213,212)" stroke="#cdcdcd" stroke-width="0.8"/>
<rect x="816.92" y="654.80" width="8.84" height="10.50" fill="rgb(238,213,212)" stroke="#cdcdcd" stroke-width="0.8"/>
<rect x="825.76" y="654.80" width="8.84" height="10.50" fill="rgb(244,230,228)" stroke="#cdcdcd" stroke-width="0.8"/>
<rect x="834.59" y="654.80" width="8.84" height="10.50" fill="rgb(220,220,238)" stroke="#cdcdcd" stroke-width="0.8"/>
<rect x="843.43" y="654.80" width="8.84" height="10.50" fill="rgb(238,213,212)" stroke="#cdcdcd" stroke-width="0.8"/>
<rect x="852.27" y="654.80" width="8.84" height="10.50" fill="rgb(202,122,119)" stroke="#cdcdcd" stroke-width="0.8"/>
<rect x="861.10" y="654.80" width="8.84" height="10.50" fill="rgb(202,122,119)" stroke="#cdcdcd" stroke-width="0.8"/>
<rect x="869.94" y="654.80" width="8.84" height="10.50" fill="rgb(202,122,119)" stroke="#cdcdcd" stroke-width="0.8"/>
<rect x="878.78" y="654.80" width="8.84" height="10.50" fill="rgb(202,122,119)" stroke="#cdcdcd" stroke-width="0.8"/>
<rect x="887.61" y="654.80" width="8.84" height="10.50" fill="rgb(202,122,119)" stroke="#cdcdcd" stroke-width="0.8"/>
<rect x="896.45" y="654.80" width="8.84" height="10.50" fill="rgb(180,180,218)" stroke="#cdcdcd" stroke-width="0.8"/>
<rect x="905.29" y="654.80" width="8.84" height="10.50" fill="rgb(236,236,247)" stroke="#cdcdcd" stroke-width="0.8"/>
<rect x="914.12" y="654.80" width="8.84" height="10.50" fill="rgb(102,102,181)" stroke="#cdcdcd" stroke-width="0.8"/>
<rect x="922.96" y="654.80" width="8.84" height="10.50" fill="rgb(0,0,128)" stroke="#cdcdcd" stroke-width="0.8"/>
<rect x="693.20" y="665.30" width="8.84" height="10.50" fill="rgb(213,148,146)" stroke="#cdcdcd" stroke-width="0.8"/>
<rect x="702.04" y="665.30" width="8.84" height="10.50" fill="rgb(213,148,146)" stroke="#cdcdcd" stroke-width="0.8"/>
<rect x="710.87" y="665.30" width="8.84" height="10.50" fill="rgb(202,122,119)" stroke="#cdcdcd" stroke-width="0.8"/>
<rect x="719.71" y="665.30" width="8.84" height="10.50" fill="rgb(202,122,119)" stroke="#cdcdcd" stroke-width="0.8"/>
<rect x="728.55" y="665.30" width="8.84" height="10.50" fill="rgb(202,122,119)" stroke="#cdcdcd" stroke-width="0.8"/>
<rect x="737.38" y="665.30" width="8.84" height="10.50" fill="rgb(202,122,119)" stroke="#cdcdcd" stroke-width="0.8"/>
<rect x="746.22" y="665.30" width="8.84" height="10.50" fill="rgb(213,148,146)" stroke="#cdcdcd" stroke-width="0.8"/>
<rect x="755.06" y="665.30" width="8.84" height="10.50" fill="rgb(213,148,146)" stroke="#cdcdcd" stroke-width="0.8"/>
<rect x="763.90" y="665.30" width="8.84" height="10.50" fill="rgb(226,180,178)" stroke="#cdcdcd" stroke-width="0.8"/>
<rect x="772.73" y="665.30" width="8.84" height="10.50" fill="rgb(238,213,212)" stroke="#cdcdcd" stroke-width="0.8"/>
<rect x="781.57" y="665.30" width="8.84" height="10.50" fill="rgb(238,213,212)" stroke="#cdcdcd" stroke-width="0.8"/>
<rect x="790.41" y="665.30" width="8.84" height="10.50" fill="rgb(213,148,146)" stroke="#cdcdcd" stroke-width="0.8"/>
<rect x="799.24" y="665.30" width="8.84" height="10.50" fill="rgb(226,180,178)" stroke="#cdcdcd" stroke-width="0.8"/>
<rect x="808.08" y="665.30" width="8.84" height="10.50" fill="rgb(226,180,178)" stroke="#cdcdcd" stroke-width="0.8"/>
<rect x="816.92" y="665.30" width="8.84" height="10.50" fill="rgb(226,180,178)" stroke="#cdcdcd" stroke-width="0.8"/>
<rect x="825.76" y="665.30" width="8.84" height="10.50" fill="rgb(226,180,178)" stroke="#cdcdcd" stroke-width="0.8"/>
<rect x="834.59" y="665.30" width="8.84" height="10.50" fill="rgb(140,140,200)" stroke="#cdcdcd" stroke-width="0.8"/>
<rect x="843.43" y="665.30" width="8.84" height="10.50" fill="rgb(244,230,228)" stroke="#cdcdcd" stroke-width="0.8"/>
<rect x="852.27" y="665.30" width="8.84" height="10.50" fill="rgb(188,86,82)" stroke="#cdcdcd" stroke-width="0.8"/>
<rect x="861.10" y="665.30" width="8.84" height="10.50" fill="rgb(188,86,82)" stroke="#cdcdcd" stroke-width="0.8"/>
<rect x="869.94" y="665.30" width="8.84" height="10.50" fill="rgb(188,86,82)" stroke="#cdcdcd" stroke-width="0.8"/>
<rect x="878.78" y="665.30" width="8.84" height="10.50" fill="rgb(188,86,82)" stroke="#cdcdcd" stroke-width="0.8"/>
<rect x="887.61" y="665.30" width="8.84" height="10.50" fill="rgb(170,50,45)" stroke="#cdcdcd" stroke-width="0.8"/>
<rect x="896.45" y="665.30" width="8.84" height="10.50" fill="rgb(140,140,200)" stroke="#cdcdcd" stroke-width="0.8"/>
<rect x="905.29" y="665.30" width="8.84" height="10.50" fill="rgb(252,250,250)" stroke="#cdcdcd" stroke-width="0.8"/>
<rect x="914.12" y="665.30" width="8.84" height="10.50" fill="rgb(102,102,181)" stroke="#cdcdcd" stroke-width="0.8"/>
<rect x="922.96" y="665.30" width="8.84" height="10.50" fill="rgb(0,0,128)" stroke="#cdcdcd" stroke-width="0.8"/>
<rect x="693.20" y="675.80" width="8.84" height="10.50" fill="rgb(202,122,119)" stroke="#cdcdcd" stroke-width="0.8"/>
<rect x="702.04" y="675.80" width="8.84" height="10.50" fill="rgb(202,122,119)" stroke="#cdcdcd" stroke-width="0.8"/>
<rect x="710.87" y="675.80" width="8.84" height="10.50" fill="rgb(188,86,82)" stroke="#cdcdcd" stroke-width="0.8"/>
<rect x="719.71" y="675.80" width="8.84" height="10.50" fill="rgb(202,122,119)" stroke="#cdcdcd" stroke-width="0.8"/>
<rect x="728.55" y="675.80" width="8.84" height="10.50" fill="rgb(202,122,119)" stroke="#cdcdcd" stroke-width="0.8"/>
<rect x="737.38" y="675.80" width="8.84" height="10.50" fill="rgb(188,86,82)" stroke="#cdcdcd" stroke-width="0.8"/>
<rect x="746.22" y="675.80" width="8.84" height="10.50" fill="rgb(226,180,178)" stroke="#cdcdcd" stroke-width="0.8"/>
<rect x="755.06" y="675.80" width="8.84" height="10.50" fill="rgb(202,122,119)" stroke="#cdcdcd" stroke-width="0.8"/>
<rect x="763.90" y="675.80" width="8.84" height="10.50" fill="rgb(213,148,146)" stroke="#cdcdcd" stroke-width="0.8"/>
<rect x="772.73" y="675.80" width="8.84" height="10.50" fill="rgb(238,213,212)" stroke="#cdcdcd" stroke-width="0.8"/>
<rect x="781.57" y="675.80" width="8.84" height="10.50" fill="rgb(226,180,178)" stroke="#cdcdcd" stroke-width="0.8"/>
<rect x="790.41" y="675.80" width="8.84" height="10.50" fill="rgb(202,122,119)" stroke="#cdcdcd" stroke-width="0.8"/>
<rect x="799.24" y="675.80" width="8.84" height="10.50" fill="rgb(226,180,178)" stroke="#cdcdcd" stroke-width="0.8"/>
<rect x="808.08" y="675.80" width="8.84" height="10.50" fill="rgb(213,148,146)" stroke="#cdcdcd" stroke-width="0.8"/>
<rect x="816.92" y="675.80" width="8.84" height="10.50" fill="rgb(238,213,212)" stroke="#cdcdcd" stroke-width="0.8"/>
<rect x="825.76" y="675.80" width="8.84" height="10.50" fill="rgb(226,180,178)" stroke="#cdcdcd" stroke-width="0.8"/>
<rect x="834.59" y="675.80" width="8.84" height="10.50" fill="rgb(180,180,218)" stroke="#cdcdcd" stroke-width="0.8"/>
<rect x="843.43" y="675.80" width="8.84" height="10.50" fill="rgb(220,220,238)" stroke="#cdcdcd" stroke-width="0.8"/>
<rect x="852.27" y="675.80" width="8.84" height="10.50" fill="rgb(202,122,119)" stroke="#cdcdcd" stroke-width="0.8"/>
<rect x="861.10" y="675.80" width="8.84" height="10.50" fill="rgb(202,122,119)" stroke="#cdcdcd" stroke-width="0.8"/>
<rect x="869.94" y="675.80" width="8.84" height="10.50" fill="rgb(188,86,82)" stroke="#cdcdcd" stroke-width="0.8"/>
<rect x="878.78" y="675.80" width="8.84" height="10.50" fill="rgb(188,86,82)" stroke="#cdcdcd" stroke-width="0.8"/>
<rect x="887.61" y="675.80" width="8.84" height="10.50" fill="rgb(188,86,82)" stroke="#cdcdcd" stroke-width="0.8"/>
<rect x="896.45" y="675.80" width="8.84" height="10.50" fill="rgb(180,180,218)" stroke="#cdcdcd" stroke-width="0.8"/>
<rect x="905.29" y="675.80" width="8.84" height="10.50" fill="rgb(252,250,250)" stroke="#cdcdcd" stroke-width="0.8"/>
<rect x="914.12" y="675.80" width="8.84" height="10.50" fill="rgb(102,102,181)" stroke="#cdcdcd" stroke-width="0.8"/>
<rect x="922.96" y="675.80" width="8.84" height="10.50" fill="rgb(0,0,128)" stroke="#cdcdcd" stroke-width="0.8"/>
<rect x="693.20" y="686.30" width="8.84" height="10.50" fill="rgb(252,250,250)" stroke="#cdcdcd" stroke-width="0.8"/>
<rect x="702.04" y="686.30" width="8.84" height="10.50" fill="rgb(252,250,250)" stroke="#cdcdcd" stroke-width="0.8"/>
<rect x="710.87" y="686.30" width="8.84" height="10.50" fill="rgb(252,250,250)" stroke="#cdcdcd" stroke-width="0.8"/>
<rect x="719.71" y="686.30" width="8.84" height="10.50" fill="rgb(252,250,250)" stroke="#cdcdcd" stroke-width="0.8"/>
<rect x="728.55" y="686.30" width="8.84" height="10.50" fill="rgb(244,230,228)" stroke="#cdcdcd" stroke-width="0.8"/>
<rect x="737.38" y="686.30" width="8.84" height="10.50" fill="rgb(238,213,212)" stroke="#cdcdcd" stroke-width="0.8"/>
<rect x="746.22" y="686.30" width="8.84" height="10.50" fill="rgb(252,250,250)" stroke="#cdcdcd" stroke-width="0.8"/>
<rect x="755.06" y="686.30" width="8.84" height="10.50" fill="rgb(252,250,250)" stroke="#cdcdcd" stroke-width="0.8"/>
<rect x="763.90" y="686.30" width="8.84" height="10.50" fill="rgb(252,250,250)" stroke="#cdcdcd" stroke-width="0.8"/>
<rect x="772.73" y="686.30" width="8.84" height="10.50" fill="rgb(180,180,218)" stroke="#cdcdcd" stroke-width="0.8"/>
<rect x="781.57" y="686.30" width="8.84" height="10.50" fill="rgb(236,236,247)" stroke="#cdcdcd" stroke-width="0.8"/>
<rect x="790.41" y="686.30" width="8.84" height="10.50" fill="rgb(220,220,238)" stroke="#cdcdcd" stroke-width="0.8"/>
<rect x="799.24" y="686.30" width="8.84" height="10.50" fill="rgb(180,180,218)" stroke="#cdcdcd" stroke-width="0.8"/>
<rect x="808.08" y="686.30" width="8.84" height="10.50" fill="rgb(220,220,238)" stroke="#cdcdcd" stroke-width="0.8"/>
<rect x="816.92" y="686.30" width="8.84" height="10.50" fill="rgb(236,236,247)" stroke="#cdcdcd" stroke-width="0.8"/>
<rect x="825.76" y="686.30" width="8.84" height="10.50" fill="rgb(180,180,218)" stroke="#cdcdcd" stroke-width="0.8"/>
<rect x="834.59" y="686.30" width="8.84" height="10.50" fill="rgb(226,180,178)" stroke="#cdcdcd" stroke-width="0.8"/>
<rect x="843.43" y="686.30" width="8.84" height="10.50" fill="rgb(202,122,119)" stroke="#cdcdcd" stroke-width="0.8"/>
<rect x="852.27" y="686.30" width="8.84" height="10.50" fill="rgb(238,213,212)" stroke="#cdcdcd" stroke-width="0.8"/>
<rect x="861.10" y="686.30" width="8.84" height="10.50" fill="rgb(244,230,228)" stroke="#cdcdcd" stroke-width="0.8"/>
<rect x="869.94" y="686.30" width="8.84" height="10.50" fill="rgb(226,180,178)" stroke="#cdcdcd" stroke-width="0.8"/>
<rect x="878.78" y="686.30" width="8.84" height="10.50" fill="rgb(238,213,212)" stroke="#cdcdcd" stroke-width="0.8"/>
<rect x="887.61" y="686.30" width="8.84" height="10.50" fill="rgb(220,220,238)" stroke="#cdcdcd" stroke-width="0.8"/>
<rect x="896.45" y="686.30" width="8.84" height="10.50" fill="rgb(226,180,178)" stroke="#cdcdcd" stroke-width="0.8"/>
<rect x="905.29" y="686.30" width="8.84" height="10.50" fill="rgb(202,122,119)" stroke="#cdcdcd" stroke-width="0.8"/>
<rect x="914.12" y="686.30" width="8.84" height="10.50" fill="rgb(0,0,128)" stroke="#cdcdcd" stroke-width="0.8"/>
<rect x="922.96" y="686.30" width="8.84" height="10.50" fill="rgb(140,140,200)" stroke="#cdcdcd" stroke-width="0.8"/>
<rect x="693.20" y="696.80" width="8.84" height="10.50" fill="rgb(238,213,212)" stroke="#cdcdcd" stroke-width="0.8"/>
<rect x="702.04" y="696.80" width="8.84" height="10.50" fill="rgb(238,213,212)" stroke="#cdcdcd" stroke-width="0.8"/>
<rect x="710.87" y="696.80" width="8.84" height="10.50" fill="rgb(252,250,250)" stroke="#cdcdcd" stroke-width="0.8"/>
<rect x="719.71" y="696.80" width="8.84" height="10.50" fill="rgb(238,213,212)" stroke="#cdcdcd" stroke-width="0.8"/>
<rect x="728.55" y="696.80" width="8.84" height="10.50" fill="rgb(252,250,250)" stroke="#cdcdcd" stroke-width="0.8"/>
<rect x="737.38" y="696.80" width="8.84" height="10.50" fill="rgb(236,236,247)" stroke="#cdcdcd" stroke-width="0.8"/>
<rect x="746.22" y="696.80" width="8.84" height="10.50" fill="rgb(226,180,178)" stroke="#cdcdcd" stroke-width="0.8"/>
<rect x="755.06" y="696.80" width="8.84" height="10.50" fill="rgb(226,180,178)" stroke="#cdcdcd" stroke-width="0.8"/>
<rect x="763.90" y="696.80" width="8.84" height="10.50" fill="rgb(220,220,238)" stroke="#cdcdcd" stroke-width="0.8"/>
<rect x="772.73" y="696.80" width="8.84" height="10.50" fill="rgb(244,230,228)" stroke="#cdcdcd" stroke-width="0.8"/>
<rect x="781.57" y="696.80" width="8.84" height="10.50" fill="rgb(238,213,212)" stroke="#cdcdcd" stroke-width="0.8"/>
<rect x="790.41" y="696.80" width="8.84" height="10.50" fill="rgb(180,180,218)" stroke="#cdcdcd" stroke-width="0.8"/>
<rect x="799.24" y="696.80" width="8.84" height="10.50" fill="rgb(180,180,218)" stroke="#cdcdcd" stroke-width="0.8"/>
<rect x="808.08" y="696.80" width="8.84" height="10.50" fill="rgb(220,220,238)" stroke="#cdcdcd" stroke-width="0.8"/>
<rect x="816.92" y="696.80" width="8.84" height="10.50" fill="rgb(220,220,238)" stroke="#cdcdcd" stroke-width="0.8"/>
<rect x="825.76" y="696.80" width="8.84" height="10.50" fill="rgb(252,250,250)" stroke="#cdcdcd" stroke-width="0.8"/>
<rect x="834.59" y="696.80" width="8.84" height="10.50" fill="rgb(238,213,212)" stroke="#cdcdcd" stroke-width="0.8"/>
<rect x="843.43" y="696.80" width="8.84" height="10.50" fill="rgb(236,236,247)" stroke="#cdcdcd" stroke-width="0.8"/>
<rect x="852.27" y="696.80" width="8.84" height="10.50" fill="rgb(252,250,250)" stroke="#cdcdcd" stroke-width="0.8"/>
<rect x="861.10" y="696.80" width="8.84" height="10.50" fill="rgb(220,220,238)" stroke="#cdcdcd" stroke-width="0.8"/>
<rect x="869.94" y="696.80" width="8.84" height="10.50" fill="rgb(238,213,212)" stroke="#cdcdcd" stroke-width="0.8"/>
<rect x="878.78" y="696.80" width="8.84" height="10.50" fill="rgb(236,236,247)" stroke="#cdcdcd" stroke-width="0.8"/>
<rect x="887.61" y="696.80" width="8.84" height="10.50" fill="rgb(220,220,238)" stroke="#cdcdcd" stroke-width="0.8"/>
<rect x="896.45" y="696.80" width="8.84" height="10.50" fill="rgb(226,180,178)" stroke="#cdcdcd" stroke-width="0.8"/>
<rect x="905.29" y="696.80" width="8.84" height="10.50" fill="rgb(213,148,146)" stroke="#cdcdcd" stroke-width="0.8"/>
<rect x="914.12" y="696.80" width="8.84" height="10.50" fill="rgb(202,122,119)" stroke="#cdcdcd" stroke-width="0.8"/>
<rect x="922.96" y="696.80" width="8.84" height="10.50" fill="rgb(180,180,218)" stroke="#cdcdcd" stroke-width="0.8"/>
<rect x="693.20" y="707.30" width="8.84" height="10.50" fill="rgb(244,230,228)" stroke="#cdcdcd" stroke-width="0.8"/>
<rect x="702.04" y="707.30" width="8.84" height="10.50" fill="rgb(252,250,250)" stroke="#cdcdcd" stroke-width="0.8"/>
<rect x="710.87" y="707.30" width="8.84" height="10.50" fill="rgb(244,230,228)" stroke="#cdcdcd" stroke-width="0.8"/>
<rect x="719.71" y="707.30" width="8.84" height="10.50" fill="rgb(244,230,228)" stroke="#cdcdcd" stroke-width="0.8"/>
<rect x="728.55" y="707.30" width="8.84" height="10.50" fill="rgb(213,148,146)" stroke="#cdcdcd" stroke-width="0.8"/>
<rect x="737.38" y="707.30" width="8.84" height="10.50" fill="rgb(238,213,212)" stroke="#cdcdcd" stroke-width="0.8"/>
<rect x="746.22" y="707.30" width="8.84" height="10.50" fill="rgb(220,220,238)" stroke="#cdcdcd" stroke-width="0.8"/>
<rect x="755.06" y="707.30" width="8.84" height="10.50" fill="rgb(236,236,247)" stroke="#cdcdcd" stroke-width="0.8"/>
<rect x="763.90" y="707.30" width="8.84" height="10.50" fill="rgb(252,250,250)" stroke="#cdcdcd" stroke-width="0.8"/>
<rect x="772.73" y="707.30" width="8.84" height="10.50" fill="rgb(180,180,218)" stroke="#cdcdcd" stroke-width="0.8"/>
<rect x="781.57" y="707.30" width="8.84" height="10.50" fill="rgb(236,236,247)" stroke="#cdcdcd" stroke-width="0.8"/>
<rect x="790.41" y="707.30" width="8.84" height="10.50" fill="rgb(252,250,250)" stroke="#cdcdcd" stroke-width="0.8"/>
<rect x="799.24" y="707.30" width="8.84" height="10.50" fill="rgb(180,180,218)" stroke="#cdcdcd" stroke-width="0.8"/>
<rect x="808.08" y="707.30" width="8.84" height="10.50" fill="rgb(180,180,218)" stroke="#cdcdcd" stroke-width="0.8"/>
<rect x="816.92" y="707.30" width="8.84" height="10.50" fill="rgb(180,180,218)" stroke="#cdcdcd" stroke-width="0.8"/>
<rect x="825.76" y="707.30" width="8.84" height="10.50" fill="rgb(180,180,218)" stroke="#cdcdcd" stroke-width="0.8"/>
<rect x="834.59" y="707.30" width="8.84" height="10.50" fill="rgb(244,230,228)" stroke="#cdcdcd" stroke-width="0.8"/>
<rect x="843.43" y="707.30" width="8.84" height="10.50" fill="rgb(213,148,146)" stroke="#cdcdcd" stroke-width="0.8"/>
<rect x="852.27" y="707.30" width="8.84" height="10.50" fill="rgb(226,180,178)" stroke="#cdcdcd" stroke-width="0.8"/>
<rect x="861.10" y="707.30" width="8.84" height="10.50" fill="rgb(226,180,178)" stroke="#cdcdcd" stroke-width="0.8"/>
<rect x="869.94" y="707.30" width="8.84" height="10.50" fill="rgb(202,122,119)" stroke="#cdcdcd" stroke-width="0.8"/>
<rect x="878.78" y="707.30" width="8.84" height="10.50" fill="rgb(202,122,119)" stroke="#cdcdcd" stroke-width="0.8"/>
<rect x="887.61" y="707.30" width="8.84" height="10.50" fill="rgb(213,148,146)" stroke="#cdcdcd" stroke-width="0.8"/>
<rect x="896.45" y="707.30" width="8.84" height="10.50" fill="rgb(252,250,250)" stroke="#cdcdcd" stroke-width="0.8"/>
<rect x="905.29" y="707.30" width="8.84" height="10.50" fill="rgb(238,213,212)" stroke="#cdcdcd" stroke-width="0.8"/>
<rect x="914.12" y="707.30" width="8.84" height="10.50" fill="rgb(140,140,200)" stroke="#cdcdcd" stroke-width="0.8"/>
<rect x="922.96" y="707.30" width="8.84" height="10.50" fill="rgb(102,102,181)" stroke="#cdcdcd" stroke-width="0.8"/>
<rect x="693.20" y="717.80" width="8.84" height="10.50" fill="rgb(238,213,212)" stroke="#cdcdcd" stroke-width="0.8"/>
<rect x="702.04" y="717.80" width="8.84" height="10.50" fill="rgb(238,213,212)" stroke="#cdcdcd" stroke-width="0.8"/>
<rect x="710.87" y="717.80" width="8.84" height="10.50" fill="rgb(238,213,212)" stroke="#cdcdcd" stroke-width="0.8"/>
<rect x="719.71" y="717.80" width="8.84" height="10.50" fill="rgb(238,213,212)" stroke="#cdcdcd" stroke-width="0.8"/>
<rect x="728.55" y="717.80" width="8.84" height="10.50" fill="rgb(226,180,178)" stroke="#cdcdcd" stroke-width="0.8"/>
<rect x="737.38" y="717.80" width="8.84" height="10.50" fill="rgb(226,180,178)" stroke="#cdcdcd" stroke-width="0.8"/>
<rect x="746.22" y="717.80" width="8.84" height="10.50" fill="rgb(140,140,200)" stroke="#cdcdcd" stroke-width="0.8"/>
<rect x="755.06" y="717.80" width="8.84" height="10.50" fill="rgb(140,140,200)" stroke="#cdcdcd" stroke-width="0.8"/>
<rect x="763.90" y="717.80" width="8.84" height="10.50" fill="rgb(180,180,218)" stroke="#cdcdcd" stroke-width="0.8"/>
<rect x="772.73" y="717.80" width="8.84" height="10.50" fill="rgb(102,102,181)" stroke="#cdcdcd" stroke-width="0.8"/>
<rect x="781.57" y="717.80" width="8.84" height="10.50" fill="rgb(140,140,200)" stroke="#cdcdcd" stroke-width="0.8"/>
<rect x="790.41" y="717.80" width="8.84" height="10.50" fill="rgb(140,140,200)" stroke="#cdcdcd" stroke-width="0.8"/>
<rect x="799.24" y="717.80" width="8.84" height="10.50" fill="rgb(102,102,181)" stroke="#cdcdcd" stroke-width="0.8"/>
<rect x="808.08" y="717.80" width="8.84" height="10.50" fill="rgb(140,140,200)" stroke="#cdcdcd" stroke-width="0.8"/>
<rect x="816.92" y="717.80" width="8.84" height="10.50" fill="rgb(102,102,181)" stroke="#cdcdcd" stroke-width="0.8"/>
<rect x="825.76" y="717.80" width="8.84" height="10.50" fill="rgb(102,102,181)" stroke="#cdcdcd" stroke-width="0.8"/>
<rect x="834.59" y="717.80" width="8.84" height="10.50" fill="rgb(244,230,228)" stroke="#cdcdcd" stroke-width="0.8"/>
<rect x="843.43" y="717.80" width="8.84" height="10.50" fill="rgb(238,213,212)" stroke="#cdcdcd" stroke-width="0.8"/>
<rect x="852.27" y="717.80" width="8.84" height="10.50" fill="rgb(252,250,250)" stroke="#cdcdcd" stroke-width="0.8"/>
<rect x="861.10" y="717.80" width="8.84" height="10.50" fill="rgb(252,250,250)" stroke="#cdcdcd" stroke-width="0.8"/>
<rect x="869.94" y="717.80" width="8.84" height="10.50" fill="rgb(202,122,119)" stroke="#cdcdcd" stroke-width="0.8"/>
<rect x="878.78" y="717.80" width="8.84" height="10.50" fill="rgb(213,148,146)" stroke="#cdcdcd" stroke-width="0.8"/>
<rect x="887.61" y="717.80" width="8.84" height="10.50" fill="rgb(238,213,212)" stroke="#cdcdcd" stroke-width="0.8"/>
<rect x="896.45" y="717.80" width="8.84" height="10.50" fill="rgb(244,230,228)" stroke="#cdcdcd" stroke-width="0.8"/>
<rect x="905.29" y="717.80" width="8.84" height="10.50" fill="rgb(226,180,178)" stroke="#cdcdcd" stroke-width="0.8"/>
<rect x="914.12" y="717.80" width="8.84" height="10.50" fill="rgb(140,140,200)" stroke="#cdcdcd" stroke-width="0.8"/>
<rect x="922.96" y="717.80" width="8.84" height="10.50" fill="rgb(0,0,128)" stroke="#cdcdcd" stroke-width="0.8"/>
<rect x="693.20" y="728.30" width="8.84" height="10.50" fill="rgb(238,213,212)" stroke="#cdcdcd" stroke-width="0.8"/>
<rect x="702.04" y="728.30" width="8.84" height="10.50" fill="rgb(238,213,212)" stroke="#cdcdcd" stroke-width="0.8"/>
<rect x="710.87" y="728.30" width="8.84" height="10.50" fill="rgb(226,180,178)" stroke="#cdcdcd" stroke-width="0.8"/>
<rect x="719.71" y="728.30" width="8.84" height="10.50" fill="rgb(238,213,212)" stroke="#cdcdcd" stroke-width="0.8"/>
<rect x="728.55" y="728.30" width="8.84" height="10.50" fill="rgb(226,180,178)" stroke="#cdcdcd" stroke-width="0.8"/>
<rect x="737.38" y="728.30" width="8.84" height="10.50" fill="rgb(226,180,178)" stroke="#cdcdcd" stroke-width="0.8"/>
<rect x="746.22" y="728.30" width="8.84" height="10.50" fill="rgb(244,230,228)" stroke="#cdcdcd" stroke-width="0.8"/>
<rect x="755.06" y="728.30" width="8.84" height="10.50" fill="rgb(244,230,228)" stroke="#cdcdcd" stroke-width="0.8"/>
<rect x="763.90" y="728.30" width="8.84" height="10.50" fill="rgb(238,213,212)" stroke="#cdcdcd" stroke-width="0.8"/>
<rect x="772.73" y="728.30" width="8.84" height="10.50" fill="rgb(252,250,250)" stroke="#cdcdcd" stroke-width="0.8"/>
<rect x="781.57" y="728.30" width="8.84" height="10.50" fill="rgb(252,250,250)" stroke="#cdcdcd" stroke-width="0.8"/>
<rect x="790.41" y="728.30" width="8.84" height="10.50" fill="rgb(226,180,178)" stroke="#cdcdcd" stroke-width="0.8"/>
<rect x="799.24" y="728.30" width="8.84" height="10.50" fill="rgb(238,213,212)" stroke="#cdcdcd" stroke-width="0.8"/>
<rect x="808.08" y="728.30" width="8.84" height="10.50" fill="rgb(238,213,212)" stroke="#cdcdcd" stroke-width="0.8"/>
<rect x="816.92" y="728.30" width="8.84" height="10.50" fill="rgb(244,230,228)" stroke="#cdcdcd" stroke-width="0.8"/>
<rect x="825.76" y="728.30" width="8.84" height="10.50" fill="rgb(238,213,212)" stroke="#cdcdcd" stroke-width="0.8"/>
<rect x="834.59" y="728.30" width="8.84" height="10.50" fill="rgb(102,102,181)" stroke="#cdcdcd" stroke-width="0.8"/>
<rect x="843.43" y="728.30" width="8.84" height="10.50" fill="rgb(252,250,250)" stroke="#cdcdcd" stroke-width="0.8"/>
<rect x="852.27" y="728.30" width="8.84" height="10.50" fill="rgb(213,148,146)" stroke="#cdcdcd" stroke-width="0.8"/>
<rect x="861.10" y="728.30" width="8.84" height="10.50" fill="rgb(226,180,178)" stroke="#cdcdcd" stroke-width="0.8"/>
<rect x="869.94" y="728.30" width="8.84" height="10.50" fill="rgb(238,213,212)" stroke="#cdcdcd" stroke-width="0.8"/>
<rect x="878.78" y="728.30" width="8.84" height="10.50" fill="rgb(238,213,212)" stroke="#cdcdcd" stroke-width="0.8"/>
<rect x="887.61" y="728.30" width="8.84" height="10.50" fill="rgb(252,250,250)" stroke="#cdcdcd" stroke-width="0.8"/>
<rect x="896.45" y="728.30" width="8.84" height="10.50" fill="rgb(140,140,200)" stroke="#cdcdcd" stroke-width="0.8"/>
<rect x="905.29" y="728.30" width="8.84" height="10.50" fill="rgb(252,250,250)" stroke="#cdcdcd" stroke-width="0.8"/>
<rect x="914.12" y="728.30" width="8.84" height="10.50" fill="rgb(180,180,218)" stroke="#cdcdcd" stroke-width="0.8"/>
<rect x="922.96" y="728.30" width="8.84" height="10.50" fill="rgb(0,0,128)" stroke="#cdcdcd" stroke-width="0.8"/>
<rect x="693.20" y="738.80" width="8.84" height="10.50" fill="rgb(226,180,178)" stroke="#cdcdcd" stroke-width="0.8"/>
<rect x="702.04" y="738.80" width="8.84" height="10.50" fill="rgb(226,180,178)" stroke="#cdcdcd" stroke-width="0.8"/>
<rect x="710.87" y="738.80" width="8.84" height="10.50" fill="rgb(213,148,146)" stroke="#cdcdcd" stroke-width="0.8"/>
<rect x="719.71" y="738.80" width="8.84" height="10.50" fill="rgb(213,148,146)" stroke="#cdcdcd" stroke-width="0.8"/>
<rect x="728.55" y="738.80" width="8.84" height="10.50" fill="rgb(202,122,119)" stroke="#cdcdcd" stroke-width="0.8"/>
<rect x="737.38" y="738.80" width="8.84" height="10.50" fill="rgb(213,148,146)" stroke="#cdcdcd" stroke-width="0.8"/>
<rect x="746.22" y="738.80" width="8.84" height="10.50" fill="rgb(236,236,247)" stroke="#cdcdcd" stroke-width="0.8"/>
<rect x="755.06" y="738.80" width="8.84" height="10.50" fill="rgb(238,213,212)" stroke="#cdcdcd" stroke-width="0.8"/>
<rect x="763.90" y="738.80" width="8.84" height="10.50" fill="rgb(226,180,178)" stroke="#cdcdcd" stroke-width="0.8"/>
<rect x="772.73" y="738.80" width="8.84" height="10.50" fill="rgb(252,250,250)" stroke="#cdcdcd" stroke-width="0.8"/>
<rect x="781.57" y="738.80" width="8.84" height="10.50" fill="rgb(220,220,238)" stroke="#cdcdcd" stroke-width="0.8"/>
<rect x="790.41" y="738.80" width="8.84" height="10.50" fill="rgb(180,180,218)" stroke="#cdcdcd" stroke-width="0.8"/>
<rect x="799.24" y="738.80" width="8.84" height="10.50" fill="rgb(0,0,128)" stroke="#cdcdcd" stroke-width="0.8"/>
<rect x="808.08" y="738.80" width="8.84" height="10.50" fill="rgb(0,0,128)" stroke="#cdcdcd" stroke-width="0.8"/>
<rect x="816.92" y="738.80" width="8.84" height="10.50" fill="rgb(0,0,128)" stroke="#cdcdcd" stroke-width="0.8"/>
<rect x="825.76" y="738.80" width="8.84" height="10.50" fill="rgb(102,102,181)" stroke="#cdcdcd" stroke-width="0.8"/>
<rect x="834.59" y="738.80" width="8.84" height="10.50" fill="rgb(180,180,218)" stroke="#cdcdcd" stroke-width="0.8"/>
<rect x="843.43" y="738.80" width="8.84" height="10.50" fill="rgb(226,180,178)" stroke="#cdcdcd" stroke-width="0.8"/>
<rect x="852.27" y="738.80" width="8.84" height="10.50" fill="rgb(213,148,146)" stroke="#cdcdcd" stroke-width="0.8"/>
<rect x="861.10" y="738.80" width="8.84" height="10.50" fill="rgb(213,148,146)" stroke="#cdcdcd" stroke-width="0.8"/>
<rect x="869.94" y="738.80" width="8.84" height="10.50" fill="rgb(226,180,178)" stroke="#cdcdcd" stroke-width="0.8"/>
<rect x="878.78" y="738.80" width="8.84" height="10.50" fill="rgb(238,213,212)" stroke="#cdcdcd" stroke-width="0.8"/>
<rect x="887.61" y="738.80" width="8.84" height="10.50" fill="rgb(238,213,212)" stroke="#cdcdcd" stroke-width="0.8"/>
<rect x="896.45" y="738.80" width="8.84" height="10.50" fill="rgb(236,236,247)" stroke="#cdcdcd" stroke-width="0.8"/>
<rect x="905.29" y="738.80" width="8.84" height="10.50" fill="rgb(226,180,178)" stroke="#cdcdcd" stroke-width="0.8"/>
<rect x="914.12" y="738.80" width="8.84" height="10.50" fill="rgb(0,0,128)" stroke="#cdcdcd" stroke-width="0.8"/>
<rect x="922.96" y="738.80" width="8.84" height="10.50" fill="rgb(0,0,128)" stroke="#cdcdcd" stroke-width="0.8"/>
<rect x="693.20" y="749.30" width="8.84" height="10.50" fill="rgb(226,180,178)" stroke="#cdcdcd" stroke-width="0.8"/>
<rect x="702.04" y="749.30" width="8.84" height="10.50" fill="rgb(226,180,178)" stroke="#cdcdcd" stroke-width="0.8"/>
<rect x="710.87" y="749.30" width="8.84" height="10.50" fill="rgb(226,180,178)" stroke="#cdcdcd" stroke-width="0.8"/>
<rect x="719.71" y="749.30" width="8.84" height="10.50" fill="rgb(226,180,178)" stroke="#cdcdcd" stroke-width="0.8"/>
<rect x="728.55" y="749.30" width="8.84" height="10.50" fill="rgb(226,180,178)" stroke="#cdcdcd" stroke-width="0.8"/>
<rect x="737.38" y="749.30" width="8.84" height="10.50" fill="rgb(226,180,178)" stroke="#cdcdcd" stroke-width="0.8"/>
<rect x="746.22" y="749.30" width="8.84" height="10.50" fill="rgb(238,213,212)" stroke="#cdcdcd" stroke-width="0.8"/>
<rect x="755.06" y="749.30" width="8.84" height="10.50" fill="rgb(226,180,178)" stroke="#cdcdcd" stroke-width="0.8"/>
<rect x="763.90" y="749.30" width="8.84" height="10.50" fill="rgb(238,213,212)" stroke="#cdcdcd" stroke-width="0.8"/>
<rect x="772.73" y="749.30" width="8.84" height="10.50" fill="rgb(244,230,228)" stroke="#cdcdcd" stroke-width="0.8"/>
<rect x="781.57" y="749.30" width="8.84" height="10.50" fill="rgb(238,213,212)" stroke="#cdcdcd" stroke-width="0.8"/>
<rect x="790.41" y="749.30" width="8.84" height="10.50" fill="rgb(238,213,212)" stroke="#cdcdcd" stroke-width="0.8"/>
<rect x="799.24" y="749.30" width="8.84" height="10.50" fill="rgb(238,213,212)" stroke="#cdcdcd" stroke-width="0.8"/>
<rect x="808.08" y="749.30" width="8.84" height="10.50" fill="rgb(244,230,228)" stroke="#cdcdcd" stroke-width="0.8"/>
<rect x="816.92" y="749.30" width="8.84" height="10.50" fill="rgb(244,230,228)" stroke="#cdcdcd" stroke-width="0.8"/>
<rect x="825.76" y="749.30" width="8.84" height="10.50" fill="rgb(252,250,250)" stroke="#cdcdcd" stroke-width="0.8"/>
<rect x="834.59" y="749.30" width="8.84" height="10.50" fill="rgb(0,0,128)" stroke="#cdcdcd" stroke-width="0.8"/>
<rect x="843.43" y="749.30" width="8.84" height="10.50" fill="rgb(180,180,218)" stroke="#cdcdcd" stroke-width="0.8"/>
<rect x="852.27" y="749.30" width="8.84" height="10.50" fill="rgb(226,180,178)" stroke="#cdcdcd" stroke-width="0.8"/>
<rect x="861.10" y="749.30" width="8.84" height="10.50" fill="rgb(226,180,178)" stroke="#cdcdcd" stroke-width="0.8"/>
<rect x="869.94" y="749.30" width="8.84" height="10.50" fill="rgb(226,180,178)" stroke="#cdcdcd" stroke-width="0.8"/>
<rect x="878.78" y="749.30" width="8.84" height="10.50" fill="rgb(140,140,200)" stroke="#cdcdcd" stroke-width="0.8"/>
<rect x="887.61" y="749.30" width="8.84" height="10.50" fill="rgb(226,180,178)" stroke="#cdcdcd" stroke-width="0.8"/>
<rect x="896.45" y="749.30" width="8.84" height="10.50" fill="rgb(0,0,128)" stroke="#cdcdcd" stroke-width="0.8"/>
<rect x="905.29" y="749.30" width="8.84" height="10.50" fill="rgb(226,180,178)" stroke="#cdcdcd" stroke-width="0.8"/>
<rect x="914.12" y="749.30" width="8.84" height="10.50" fill="rgb(0,0,128)" stroke="#cdcdcd" stroke-width="0.8"/>
<rect x="922.96" y="749.30" width="8.84" height="10.50" fill="rgb(0,0,128)" stroke="#cdcdcd" stroke-width="0.8"/>
<rect x="693.20" y="432.10" width="17.67" height="11.40" fill="#2e7d1f"/>
<rect x="710.87" y="432.10" width="35.35" height="11.40" fill="#0000ff"/>
<rect x="746.22" y="432.10" width="17.67" height="11.40" fill="#2e7d1f"/>
<rect x="763.90" y="432.10" width="53.02" height="11.40" fill="#0000ff"/>
<rect x="816.92" y="432.10" width="17.67" height="11.40" fill="#2e7d1f"/>
<rect x="834.59" y="432.10" width="8.84" height="11.40" fill="#e8352a"/>
<rect x="843.43" y="432.10" width="8.84" height="11.40" fill="#3f9e83"/>
<rect x="852.27" y="432.10" width="17.67" height="11.40" fill="#0000ff"/>
<rect x="869.94" y="432.10" width="26.51" height="11.40" fill="#f0a83c"/>
<rect x="896.45" y="432.10" width="17.67" height="11.40" fill="#e8352a"/>
<rect x="914.12" y="432.10" width="17.67" height="11.40" fill="#3f9e83"/>
<text stroke="#000" stroke-width="0.10" x="937.50" y="437.60" font-size="13.5" fill="#000" font-weight="bold">Stage</text>
<rect x="682.00" y="444.80" width="9.00" height="10.50" fill="#ffff33"/>
<rect x="682.00" y="455.30" width="9.00" height="52.50" fill="#5ab8f0"/>
<rect x="682.00" y="507.80" width="9.00" height="10.50" fill="#9b80b6"/>
<rect x="682.00" y="518.30" width="9.00" height="10.50" fill="#ffff33"/>
<rect x="682.00" y="528.80" width="9.00" height="10.50" fill="#5ab8f0"/>
<rect x="682.00" y="539.30" width="9.00" height="10.50" fill="#ffff33"/>
<rect x="682.00" y="549.80" width="9.00" height="21.00" fill="#9b80b6"/>
<rect x="682.00" y="570.80" width="9.00" height="42.00" fill="#5ab8f0"/>
<rect x="682.00" y="612.80" width="9.00" height="10.50" fill="#9b80b6"/>
<rect x="682.00" y="623.30" width="9.00" height="21.00" fill="#9de68e"/>
<rect x="682.00" y="644.30" width="9.00" height="10.50" fill="#9b80b6"/>
<rect x="682.00" y="654.80" width="9.00" height="42.00" fill="#9de68e"/>
<rect x="682.00" y="696.80" width="9.00" height="10.50" fill="#9b80b6"/>
<rect x="682.00" y="707.30" width="9.00" height="42.00" fill="#9de68e"/>
<rect x="682.00" y="749.30" width="9.00" height="10.50" fill="#9b80b6"/>
<text stroke="#000" stroke-width="0.25" transform="translate(937.0,453.65) scale(0.97,1)" font-size="10.3" font-style="italic" fill="#000">Chryseolinea</text>
<text stroke="#000" stroke-width="0.25" transform="translate(937.0,464.18) scale(0.97,1)" font-size="10.3" font-style="italic" fill="#000">Methylobacter</text>
<text stroke="#000" stroke-width="0.25" transform="translate(937.0,474.71) scale(0.97,1)" font-size="10.3" font-style="italic" fill="#000">Pseudoxanthomonas</text>
<text stroke="#000" stroke-width="0.25" transform="translate(937.0,485.24) scale(0.97,1)" font-size="10.3" font-style="italic" fill="#000">Ochrobactrum</text>
<text stroke="#000" stroke-width="0.25" transform="translate(937.0,495.77) scale(0.97,1)" font-size="10.3" font-style="italic" fill="#000">Bordetella</text>
<text stroke="#000" stroke-width="0.25" transform="translate(937.0,506.30) scale(0.97,1)" font-size="10.3" font-style="italic" fill="#000">Pusillimonas</text>
<text stroke="#000" stroke-width="0.25" transform="translate(937.0,516.83) scale(0.97,1)" font-size="10.3" font-style="italic" fill="#000">Georgenia</text>
<text stroke="#000" stroke-width="0.25" transform="translate(937.0,527.36) scale(0.97,1)" font-size="10.3" font-style="italic" fill="#000">Parapedobacter</text>
<text stroke="#000" stroke-width="0.25" transform="translate(937.0,537.89) scale(0.97,1)" font-size="10.3" font-style="italic" fill="#000">Altererythrobacter</text>
<text stroke="#000" stroke-width="0.25" transform="translate(937.0,548.42) scale(0.97,1)" font-size="10.3" font-style="italic" fill="#000">Sphingobacterium</text>
<text stroke="#000" stroke-width="0.25" transform="translate(937.0,558.95) scale(0.97,1)" font-size="10.3" font-style="italic" fill="#000">Nonomuraea</text>
<text stroke="#000" stroke-width="0.25" transform="translate(937.0,569.48) scale(0.97,1)" font-size="10.3" font-style="italic" fill="#000">Actinomadura</text>
<text stroke="#000" stroke-width="0.25" transform="translate(937.0,580.01) scale(0.97,1)" font-size="10.3" font-style="italic" fill="#000">Aminobacter</text>
<text stroke="#000" stroke-width="0.25" transform="translate(937.0,590.54) scale(0.97,1)" font-size="10.3" font-style="italic" fill="#000">norank<tspan dy="0.72">_</tspan><tspan dy="-0.72">f</tspan><tspan dy="0.72">__</tspan><tspan dy="-0.72">Methylococcaceae</tspan></text>
<text stroke="#000" stroke-width="0.25" transform="translate(937.0,601.07) scale(0.97,1)" font-size="10.3" font-style="italic" fill="#000">norank<tspan dy="0.72">_</tspan><tspan dy="-0.72">f</tspan><tspan dy="0.72">__</tspan><tspan dy="-0.72">Fodinicurvataceae</tspan></text>
<text stroke="#000" stroke-width="0.25" transform="translate(937.0,611.60) scale(0.97,1)" font-size="10.3" font-style="italic" fill="#000">Luteimonas</text>
<text stroke="#000" stroke-width="0.25" transform="translate(937.0,622.13) scale(0.97,1)" font-size="10.3" font-style="italic" fill="#000">unclassified<tspan dy="0.72">_</tspan><tspan dy="-0.72">f</tspan><tspan dy="0.72">__</tspan><tspan dy="-0.72">Cellulomonadaceae</tspan></text>
<text stroke="#000" stroke-width="0.25" transform="translate(937.0,632.66) scale(0.97,1)" font-size="10.3" font-style="italic" fill="#000">Bacillus</text>
<text stroke="#000" stroke-width="0.25" transform="translate(937.0,643.19) scale(0.97,1)" font-size="10.3" font-style="italic" fill="#000">Staphylococcus</text>
<text stroke="#000" stroke-width="0.25" transform="translate(937.0,653.72) scale(0.97,1)" font-size="10.3" font-style="italic" fill="#000">Thermobifida</text>
<text stroke="#000" stroke-width="0.25" transform="translate(937.0,664.25) scale(0.97,1)" font-size="10.3" font-style="italic" fill="#000">norank<tspan dy="0.72">_</tspan><tspan dy="-0.72">f</tspan><tspan dy="0.72">__</tspan><tspan dy="-0.72">Bacillaceae</tspan></text>
<text stroke="#000" stroke-width="0.25" transform="translate(937.0,674.78) scale(0.97,1)" font-size="10.3" font-style="italic" fill="#000">Ammoniibacillus</text>
<text stroke="#000" stroke-width="0.25" transform="translate(937.0,685.31) scale(0.97,1)" font-size="10.3" font-style="italic" fill="#000">Thermobacillus</text>
<text stroke="#000" stroke-width="0.25" transform="translate(937.0,695.84) scale(0.97,1)" font-size="10.3" font-style="italic" fill="#000">Planifilum</text>
<text stroke="#000" stroke-width="0.25" transform="translate(937.0,706.37) scale(0.97,1)" font-size="10.3" font-style="italic" fill="#000">Microbacterium</text>
<text stroke="#000" stroke-width="0.25" transform="translate(937.0,716.90) scale(0.97,1)" font-size="10.3" font-style="italic" fill="#000">Novibacillus</text>
<text stroke="#000" stroke-width="0.25" transform="translate(937.0,727.43) scale(0.97,1)" font-size="10.3" font-style="italic" fill="#000">Lysinibacillus</text>
<text stroke="#000" stroke-width="0.25" transform="translate(937.0,737.96) scale(0.97,1)" font-size="10.3" font-style="italic" fill="#000">unclassified<tspan dy="0.72">_</tspan><tspan dy="-0.72">f</tspan><tspan dy="0.72">__</tspan><tspan dy="-0.72">Paenibacillaceae</tspan></text>
<text stroke="#000" stroke-width="0.25" transform="translate(937.0,748.49) scale(0.97,1)" font-size="10.3" font-style="italic" fill="#000">unclassified<tspan dy="0.72">_</tspan><tspan dy="-0.72">o</tspan><tspan dy="0.72">__</tspan><tspan dy="-0.72">Bacillales</tspan></text>
<text stroke="#000" stroke-width="0.25" transform="translate(937.0,759.02) scale(0.97,1)" font-size="10.3" font-style="italic" fill="#000">Saccharomonospora</text>
<text stroke="#000" stroke-width="0.10" transform="translate(702.02,766.30) rotate(-65)" font-size="10.4" font-weight="bold" text-anchor="end" fill="#000">M2<tspan dy="1.04">_</tspan><tspan dy="-1.04">7</tspan></text>
<text stroke="#000" stroke-width="0.10" transform="translate(710.94,766.33) rotate(-65)" font-size="10.4" font-weight="bold" text-anchor="end" fill="#000">M2<tspan dy="1.04">_</tspan><tspan dy="-1.04">8</tspan></text>
<text stroke="#000" stroke-width="0.10" transform="translate(719.85,766.36) rotate(-65)" font-size="10.4" font-weight="bold" text-anchor="end" fill="#000">M2<tspan dy="1.04">_</tspan><tspan dy="-1.04">5</tspan></text>
<text stroke="#000" stroke-width="0.10" transform="translate(728.77,766.39) rotate(-65)" font-size="10.4" font-weight="bold" text-anchor="end" fill="#000">M2<tspan dy="1.04">_</tspan><tspan dy="-1.04">6</tspan></text>
<text stroke="#000" stroke-width="0.10" transform="translate(737.69,766.42) rotate(-65)" font-size="10.4" font-weight="bold" text-anchor="end" fill="#000">M2<tspan dy="1.04">_</tspan><tspan dy="-1.04">3</tspan></text>
<text stroke="#000" stroke-width="0.10" transform="translate(746.60,766.45) rotate(-65)" font-size="10.4" font-weight="bold" text-anchor="end" fill="#000">M2<tspan dy="1.04">_</tspan><tspan dy="-1.04">4</tspan></text>
<text stroke="#000" stroke-width="0.10" transform="translate(755.52,766.48) rotate(-65)" font-size="10.4" font-weight="bold" text-anchor="end" fill="#000">M1<tspan dy="1.04">_</tspan><tspan dy="-1.04">7</tspan></text>
<text stroke="#000" stroke-width="0.10" transform="translate(764.44,766.51) rotate(-65)" font-size="10.4" font-weight="bold" text-anchor="end" fill="#000">M1<tspan dy="1.04">_</tspan><tspan dy="-1.04">8</tspan></text>
<text stroke="#000" stroke-width="0.10" transform="translate(773.35,766.54) rotate(-65)" font-size="10.4" font-weight="bold" text-anchor="end" fill="#000">M1<tspan dy="1.04">_</tspan><tspan dy="-1.04">4</tspan></text>
<text stroke="#000" stroke-width="0.10" transform="translate(782.27,766.57) rotate(-65)" font-size="10.4" font-weight="bold" text-anchor="end" fill="#000">M1<tspan dy="1.04">_</tspan><tspan dy="-1.04">5</tspan></text>
<text stroke="#000" stroke-width="0.10" transform="translate(791.19,766.60) rotate(-65)" font-size="10.4" font-weight="bold" text-anchor="end" fill="#000">M1<tspan dy="1.04">_</tspan><tspan dy="-1.04">6</tspan></text>
<text stroke="#000" stroke-width="0.10" transform="translate(800.11,766.63) rotate(-65)" font-size="10.4" font-weight="bold" text-anchor="end" fill="#000">M3<tspan dy="1.04">_</tspan><tspan dy="-1.04">4</tspan></text>
<text stroke="#000" stroke-width="0.10" transform="translate(809.02,766.66) rotate(-65)" font-size="10.4" font-weight="bold" text-anchor="end" fill="#000">M3<tspan dy="1.04">_</tspan><tspan dy="-1.04">5</tspan></text>
<text stroke="#000" stroke-width="0.10" transform="translate(817.94,766.69) rotate(-65)" font-size="10.4" font-weight="bold" text-anchor="end" fill="#000">M3<tspan dy="1.04">_</tspan><tspan dy="-1.04">6</tspan></text>
<text stroke="#000" stroke-width="0.10" transform="translate(826.86,766.72) rotate(-65)" font-size="10.4" font-weight="bold" text-anchor="end" fill="#000">M3<tspan dy="1.04">_</tspan><tspan dy="-1.04">7</tspan></text>
<text stroke="#000" stroke-width="0.10" transform="translate(835.77,766.75) rotate(-65)" font-size="10.4" font-weight="bold" text-anchor="end" fill="#000">M3<tspan dy="1.04">_</tspan><tspan dy="-1.04">8</tspan></text>
<text stroke="#000" stroke-width="0.10" transform="translate(844.69,766.78) rotate(-65)" font-size="10.4" font-weight="bold" text-anchor="end" fill="#000">M3<tspan dy="1.04">_</tspan><tspan dy="-1.04">1</tspan></text>
<text stroke="#000" stroke-width="0.10" transform="translate(853.61,766.81) rotate(-65)" font-size="10.4" font-weight="bold" text-anchor="end" fill="#000">M C</text>
<text stroke="#000" stroke-width="0.10" transform="translate(862.52,766.84) rotate(-65)" font-size="10.4" font-weight="bold" text-anchor="end" fill="#000">M1<tspan dy="1.04">_</tspan><tspan dy="-1.04">3</tspan></text>
<text stroke="#000" stroke-width="0.10" transform="translate(871.44,766.87) rotate(-65)" font-size="10.4" font-weight="bold" text-anchor="end" fill="#000">M3<tspan dy="1.04">_</tspan><tspan dy="-1.04">3</tspan></text>
<text stroke="#000" stroke-width="0.10" transform="translate(880.36,766.90) rotate(-65)" font-size="10.4" font-weight="bold" text-anchor="end" fill="#000">M2<tspan dy="1.04">_</tspan><tspan dy="-1.04">2</tspan></text>
<text stroke="#000" stroke-width="0.10" transform="translate(889.28,766.93) rotate(-65)" font-size="10.4" font-weight="bold" text-anchor="end" fill="#000">M1<tspan dy="1.04">_</tspan><tspan dy="-1.04">2</tspan></text>
<text stroke="#000" stroke-width="0.10" transform="translate(898.19,766.96) rotate(-65)" font-size="10.4" font-weight="bold" text-anchor="end" fill="#000">M3<tspan dy="1.04">_</tspan><tspan dy="-1.04">2</tspan></text>
<text stroke="#000" stroke-width="0.10" transform="translate(907.11,766.99) rotate(-65)" font-size="10.4" font-weight="bold" text-anchor="end" fill="#000">M1<tspan dy="1.04">_</tspan><tspan dy="-1.04">1</tspan></text>
<text stroke="#000" stroke-width="0.10" transform="translate(916.03,767.02) rotate(-65)" font-size="10.4" font-weight="bold" text-anchor="end" fill="#000">M2<tspan dy="1.04">_</tspan><tspan dy="-1.04">1</tspan></text>
<text stroke="#000" stroke-width="0.10" transform="translate(924.94,767.05) rotate(-65)" font-size="10.4" font-weight="bold" text-anchor="end" fill="#000">SS</text>
<text stroke="#000" stroke-width="0.10" transform="translate(933.86,767.08) rotate(-65)" font-size="10.4" font-weight="bold" text-anchor="end" fill="#000">MA</text>
<text stroke="#000" stroke-width="0.10" transform="translate(687.5,764) rotate(-60)" font-size="14" font-weight="bold" text-anchor="end" fill="#000">Phylum</text>
<path d="M698.42,432.10 V429.90 H707.26 V432.10" fill="none" stroke="#505050" stroke-width="1"/>
<path d="M716.09,432.10 V428.60 H724.93 V432.10" fill="none" stroke="#505050" stroke-width="1"/>
<path d="M702.84,429.90 V427.30 H720.51 V428.60" fill="none" stroke="#505050" stroke-width="1"/>
<path d="M733.77,432.10 V425.90 H742.60 V432.10" fill="none" stroke="#505050" stroke-width="1"/>
<path d="M711.67,427.30 V421.00 H738.18 V425.90" fill="none" stroke="#505050" stroke-width="1"/>
<path d="M751.44,432.10 V429.50 H760.28 V432.10" fill="none" stroke="#505050" stroke-width="1"/>
<path d="M777.95,432.10 V428.40 H786.79 V432.10" fill="none" stroke="#505050" stroke-width="1"/>
<path d="M769.11,432.10 V423.70 H782.37 V428.40" fill="none" stroke="#505050" stroke-width="1"/>
<path d="M755.86,429.50 V423.00 H775.74 V423.70" fill="none" stroke="#505050" stroke-width="1"/>
<path d="M822.14,432.10 V429.60 H830.97 V432.10" fill="none" stroke="#505050" stroke-width="1"/>
<path d="M813.30,432.10 V427.60 H826.56 V429.60" fill="none" stroke="#505050" stroke-width="1"/>
<path d="M804.46,432.10 V424.80 H819.93 V427.60" fill="none" stroke="#505050" stroke-width="1"/>
<path d="M795.63,432.10 V420.60 H812.19 V424.80" fill="none" stroke="#505050" stroke-width="1"/>
<path d="M765.80,423.00 V416.90 H803.91 V420.60" fill="none" stroke="#505050" stroke-width="1"/>
<path d="M724.93,421.00 V416.30 H784.86 V416.90" fill="none" stroke="#505050" stroke-width="1"/>
<path d="M839.81,432.10 V426.50 H848.65 V432.10" fill="none" stroke="#505050" stroke-width="1"/>
<path d="M857.48,432.10 V430.40 H866.32 V432.10" fill="none" stroke="#505050" stroke-width="1"/>
<path d="M884.00,432.10 V428.50 H892.83 V432.10" fill="none" stroke="#505050" stroke-width="1"/>
<path d="M875.16,432.10 V425.40 H888.41 V428.50" fill="none" stroke="#505050" stroke-width="1"/>
<path d="M861.90,430.40 V423.70 H881.79 V425.40" fill="none" stroke="#505050" stroke-width="1"/>
<path d="M901.67,432.10 V423.70 H910.51 V432.10" fill="none" stroke="#505050" stroke-width="1"/>
<path d="M871.84,423.70 V417.50 H906.09 V423.70" fill="none" stroke="#505050" stroke-width="1"/>
<path d="M844.23,426.50 V415.20 H888.97 V417.50" fill="none" stroke="#505050" stroke-width="1"/>
<path d="M754.89,416.30 V409.00 H866.60 V415.20" fill="none" stroke="#505050" stroke-width="1"/>
<path d="M919.34,432.10 V408.50 H928.18 V432.10" fill="none" stroke="#505050" stroke-width="1"/>
<path d="M810.75,409.00 V406.80 H923.76 V408.50" fill="none" stroke="#505050" stroke-width="1"/>
<path d="M682.00,450.05 H679.90 V460.55 H682.00" fill="none" stroke="#505050" stroke-width="1"/>
<path d="M682.00,492.05 H673.90 V502.55 H682.00" fill="none" stroke="#505050" stroke-width="1"/>
<path d="M682.00,481.55 H670.90 V497.30 H673.90" fill="none" stroke="#505050" stroke-width="1"/>
<path d="M682.00,523.55 H672.60 V534.05 H682.00" fill="none" stroke="#505050" stroke-width="1"/>
<path d="M682.00,513.05 H670.80 V528.80 H672.60" fill="none" stroke="#505050" stroke-width="1"/>
<path d="M670.90,489.43 H664.60 V520.92 H670.80" fill="none" stroke="#505050" stroke-width="1"/>
<path d="M682.00,471.05 H663.20 V505.17 H664.60" fill="none" stroke="#505050" stroke-width="1"/>
<path d="M682.00,565.55 H674.70 V576.05 H682.00" fill="none" stroke="#505050" stroke-width="1"/>
<path d="M682.00,555.05 H671.90 V570.80 H674.70" fill="none" stroke="#505050" stroke-width="1"/>
<path d="M682.00,586.55 H671.30 V597.05 H682.00" fill="none" stroke="#505050" stroke-width="1"/>
<path d="M671.90,562.92 H668.00 V591.80 H671.30" fill="none" stroke="#505050" stroke-width="1"/>
<path d="M682.00,607.55 H668.30 V618.05 H682.00" fill="none" stroke="#505050" stroke-width="1"/>
<path d="M668.00,577.36 H664.60 V612.80 H668.30" fill="none" stroke="#505050" stroke-width="1"/>
<path d="M682.00,544.55 H661.80 V595.08 H664.60" fill="none" stroke="#505050" stroke-width="1"/>
<path d="M663.20,488.11 H660.70 V569.82 H661.80" fill="none" stroke="#505050" stroke-width="1"/>
<path d="M682.00,628.55 H668.50 V639.05 H682.00" fill="none" stroke="#505050" stroke-width="1"/>
<path d="M682.00,670.55 H674.40 V681.05 H682.00" fill="none" stroke="#505050" stroke-width="1"/>
<path d="M682.00,660.05 H668.00 V675.80 H674.40" fill="none" stroke="#505050" stroke-width="1"/>
<path d="M682.00,649.55 H664.30 V667.92 H668.00" fill="none" stroke="#505050" stroke-width="1"/>
<path d="M668.50,633.80 H662.40 V658.74 H664.30" fill="none" stroke="#505050" stroke-width="1"/>
<path d="M682.00,691.55 H662.40 V702.05 H682.00" fill="none" stroke="#505050" stroke-width="1"/>
<path d="M682.00,712.55 H670.50 V723.05 H682.00" fill="none" stroke="#505050" stroke-width="1"/>
<path d="M682.00,744.05 H672.40 V754.55 H682.00" fill="none" stroke="#505050" stroke-width="1"/>
<path d="M682.00,733.55 H670.50 V749.30 H672.40" fill="none" stroke="#505050" stroke-width="1"/>
<path d="M670.50,717.80 H662.40 V741.42 H670.50" fill="none" stroke="#505050" stroke-width="1"/>
<path d="M662.40,696.80 H659.30 V729.61 H662.40" fill="none" stroke="#505050" stroke-width="1"/>
<path d="M662.40,646.27 H657.30 V713.21 H659.30" fill="none" stroke="#505050" stroke-width="1"/>
<path d="M660.70,528.96 H655.40 V679.74 H657.30" fill="none" stroke="#505050" stroke-width="1"/>
<path d="M679.90,455.30 H649.70 V604.35 H655.40" fill="none" stroke="#505050" stroke-width="1"/>
<text stroke="#000" stroke-width="0.10" x="1090.90" y="427.40" font-size="17" fill="#000" font-weight="bold">Stage</text>
<rect x="1088.90" y="441.20" width="12.30" height="11.60" fill="#e8352a"/>
<text stroke="#000" stroke-width="0.25" x="1104.1" y="451.80" font-size="14.3" fill="#000" textLength="33.6" lengthAdjust="spacingAndGlyphs">Initial</text>
<rect x="1088.90" y="460.80" width="12.30" height="11.60" fill="#f0a83c"/>
<text stroke="#000" stroke-width="0.25" x="1104.1" y="471.40" font-size="14.3" fill="#000" textLength="77.9" lengthAdjust="spacingAndGlyphs">Thermophilic</text>
<rect x="1088.90" y="480.00" width="12.30" height="11.60" fill="#0000ff"/>
<text stroke="#000" stroke-width="0.25" x="1104.1" y="490.60" font-size="14.3" fill="#000" textLength="50.6" lengthAdjust="spacingAndGlyphs">Cooling</text>
<rect x="1088.90" y="498.20" width="12.30" height="11.60" fill="#2e7d1f"/>
<text stroke="#000" stroke-width="0.25" x="1104.1" y="508.80" font-size="14.3" fill="#000" textLength="64.4" lengthAdjust="spacingAndGlyphs">Maturation</text>
<rect x="1088.90" y="520.60" width="12.30" height="11.60" fill="#3f9e83"/>
<text stroke="#000" stroke-width="0.25" x="1104.1" y="531.20" font-size="14.3" fill="#000" textLength="52.0" lengthAdjust="spacingAndGlyphs">Material</text>
<text stroke="#000" stroke-width="0.10" x="1091.40" y="569.10" font-size="17" fill="#000" font-weight="bold">Phylum</text>
<rect x="1092.80" y="584.40" width="11.10" height="11.30" fill="#5ab8f0"/>
<text stroke="#000" stroke-width="0.25" x="1107.00" y="594.60" font-size="13.4" fill="#000">Proteobacteria</text>
<rect x="1092.80" y="603.80" width="11.10" height="11.30" fill="#9b80b6"/>
<text stroke="#000" stroke-width="0.25" x="1107.00" y="614.00" font-size="13.4" fill="#000">Actinobacteriota</text>
<rect x="1092.80" y="623.30" width="11.10" height="11.30" fill="#ffff33"/>
<text stroke="#000" stroke-width="0.25" x="1107.00" y="633.50" font-size="13.4" fill="#000">Bacteroidota</text>
<rect x="1092.80" y="642.80" width="11.10" height="11.30" fill="#9de68e"/>
<text stroke="#000" stroke-width="0.25" x="1107.00" y="653.00" font-size="13.4" fill="#000">Firmicutes</text>
<text stroke="#000" stroke-width="0.10" x="1094.50" y="692.40" font-size="15.1" fill="#000" font-weight="bold">Log10(value)</text>
<defs><linearGradient id="lg" x1="0" y1="0" x2="0" y2="1"><stop offset="0" stop-color="#e8392f"/><stop offset="0.2" stop-color="#ef8077"/><stop offset="0.4" stop-color="#f9dcdc"/><stop offset="0.5" stop-color="#ffffff"/><stop offset="0.6" stop-color="#d2d2fa"/><stop offset="0.8" stop-color="#6e6ef8"/><stop offset="1" stop-color="#0000ff"/></linearGradient></defs>
<rect x="1096.00" y="705.40" width="16.00" height="73.60" fill="url(#lg)"/>
<line x1="1112.00" y1="705.80" x2="1115.00" y2="705.80" stroke="#888" stroke-width="0.8"/>
<text stroke="#000" stroke-width="0.10" x="1131.50" y="711.60" font-size="14.5" fill="#000" text-anchor="end" font-weight="bold">4</text>
<line x1="1112.00" y1="720.00" x2="1115.00" y2="720.00" stroke="#888" stroke-width="0.8"/>
<text stroke="#000" stroke-width="0.10" x="1131.50" y="725.80" font-size="14.5" fill="#000" text-anchor="end" font-weight="bold">3</text>
<line x1="1112.00" y1="734.50" x2="1115.00" y2="734.50" stroke="#888" stroke-width="0.8"/>
<text stroke="#000" stroke-width="0.10" x="1131.50" y="740.30" font-size="14.5" fill="#000" text-anchor="end" font-weight="bold">2</text>
<line x1="1112.00" y1="749.20" x2="1115.00" y2="749.20" stroke="#888" stroke-width="0.8"/>
<text stroke="#000" stroke-width="0.10" x="1131.50" y="755.00" font-size="14.5" fill="#000" text-anchor="end" font-weight="bold">1</text>
<line x1="1112.00" y1="763.10" x2="1115.00" y2="763.10" stroke="#888" stroke-width="0.8"/>
<text stroke="#000" stroke-width="0.10" x="1131.50" y="768.90" font-size="14.5" fill="#000" text-anchor="end" font-weight="bold">0</text>
<line x1="1112.00" y1="776.10" x2="1115.00" y2="776.10" stroke="#888" stroke-width="0.8"/>
<text stroke="#000" stroke-width="0.10" x="1131.50" y="781.90" font-size="14.5" fill="#000" text-anchor="end" font-weight="bold">-1</text>
</svg></body></html>
